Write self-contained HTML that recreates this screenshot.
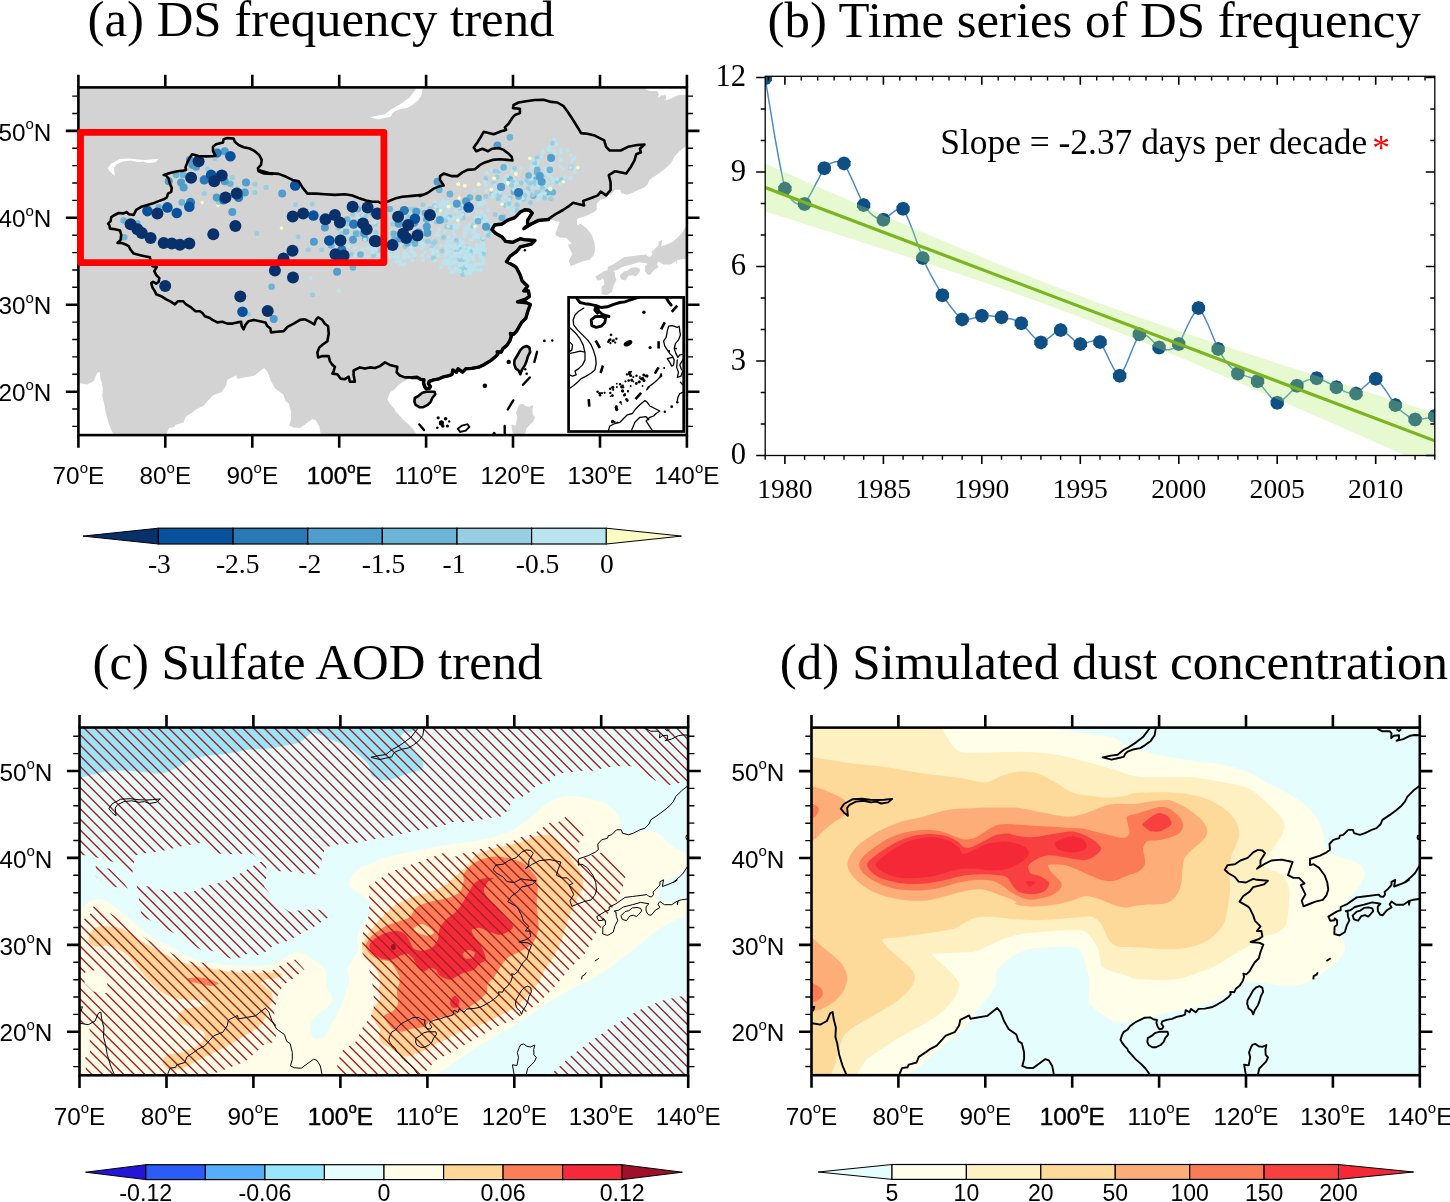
<!DOCTYPE html>
<html><head><meta charset="utf-8"><title>Figure</title>
<style>html,body{margin:0;padding:0;background:#fff}svg{display:block;will-change:transform}</style></head>
<body>
<svg width="1450" height="1202" viewBox="0 0 1450 1202">
<rect width="1450" height="1202" fill="#fff"/>
<text x="87.6" y="36.4" font-family="Liberation Serif, serif" font-size="50.8">(a) DS frequency trend</text>
<text x="767.6" y="36.6" font-family="Liberation Serif, serif" font-size="50.8">(b) Time series of DS frequency</text>
<text x="92.5" y="678.5" font-family="Liberation Serif, serif" font-size="50.8">(c) Sulfate AOD trend</text>
<text x="779.8" y="678.5" font-family="Liberation Serif, serif" font-size="51.1">(d) Simulated dust concentration</text>
<g id="panelA">
<clipPath id="clipA"><rect x="78.4" y="87.4" width="608.5" height="347.7"/></clipPath>
<g clip-path="url(#clipA)">
<path d="M75.4,84.4L645.3,84.4L645.3,86.5L645.3,89L649.5,91.1L657,91.1L658.6,93.1L658.3,97.8L661.1,95.6L666.1,95.1L666.1,98.9L663.6,100.6L670.3,98.9L677,95.6L682,94.8L686.1,95.1L690.3,95.1L689.9,95.1L689.9,143.1L690.3,143.1L686.1,146.1L680.3,150.6L674.5,156.4L672,161.4L668.6,165.6L663.6,169.7L657,174.7L649.5,179.7L647.8,183.9L643.7,188L638.7,189.7L632,193L627,194.7L621.2,193L620,189.7L615.4,189.7L610.4,194.7L607,195.5L606.2,198L600.4,199.7L596.5,203.9L597,209.7L593.7,212.2L587,215.5L577,218.8L577,219.5L577,225L580.7,224L586.2,227.7L591.7,235L594.4,242.3L595.3,249.7L593.5,255.2L589.8,259.7L582.5,261.6L575.2,264.3L570.6,266.2L568.8,260.7L572.4,254.3L567.9,245.1L571.5,243.3L566,237.8L560.5,237.8L555.1,235L556.9,229.5L559.6,221.8L548.6,219.5L538.6,220.4L531.2,224L523.9,228.6L527.6,225L527.6,220.4L532.2,213.1L529.4,210.3L524.8,209.8L520.3,212.1L514.8,217.6L507.4,220.4L502,224L494.6,225L491.9,229.5L495.5,233.2L502,236.9L505.6,241.4L512.9,242.3L520.3,238.7L523.9,239.6L534.9,240.5L531.2,244.2L520.3,246.9L516.6,251.5L510.2,256.1L506.5,261.6L514.8,266.2L516.6,268L520.3,275.3L522.1,280.8L527.6,286.3L523.9,290.9L528.5,290.9L529.4,296.4L525.8,299.1L517.5,301.9L526.7,302.8L530.3,304.6L527.6,311.9L525.8,318.3L521.8,322.2L519.5,326L516.5,331.3L513.5,334.3L510.4,333.5L511.2,336.6L509.7,341.1L506.6,345.7L502.8,348.7L501.3,352.1L497.2,351.8L497.8,354L496,356.3L490.7,360.6L483.9,364.7L478.6,367.2L471.7,368.4L465.7,368.8L462.6,372.2L458.1,368.8L456.5,372.2L452.8,370L452,374.5L449,375.7L443.6,376.8L439.1,378.8L433.8,379.8L429.2,381.3L428.5,383.6L430.4,386.7L429.2,388.6L426.2,388.9L424.7,386.7L423.5,382.9L423.9,379.8L420.9,379.4L417.1,377.3L411.8,377.6L407.2,379.8L401.9,382.4L397.4,385.9L394.3,389.7L390.5,392L389,395L387.5,399.6L389,402.6L391.3,405.6L394.3,408.7L395.1,410.9L398.1,414L402.7,419.3L408,423.8L412.5,428.4L416.3,433.7L418.6,438.3L418.6,438.1L321.4,438.1L321.4,439.2L320.7,433.6L319.1,425.8L315.8,420.2L312.4,419.1L304.6,424.7L300.1,428L293.4,427.6L289.3,425.8L291.1,419.1L291.1,412.3L288.9,403.4L285.5,401.1L284.4,397.8L283.3,394.4L275.4,388.8L270.9,380.9L267.6,372L264.2,367.9L254.1,375.8L237.3,378.7L236.2,375.3L227.2,379.8L226.1,385.4L221.6,392.1L212.6,395.5L203.7,405.6L196.9,409L192.5,412.3L185.7,416.8L183.5,422.4L175.6,424.7L174.5,427.1L168.9,428L166.7,433.6L165.6,439.2L165.6,438.1L115.1,438.1L115.1,439.2L112.9,433.6L109.5,425.8L106.1,414.6L104.1,403.4L102.3,396.6L102.8,387.7L100.5,378.7L99.6,372L97.2,373.1L93.8,380.9L87.1,384.5L79.2,383.2L71.4,382.7L75.4,382.7ZM414.8,398L418.6,395.8L422.4,392.7L426.2,391.7L434.5,391.7L435.3,394.3L432.3,398L430.7,401.8L427.7,404.9L423.2,407.2L419.4,407.2L415.6,404.9L414.4,401.8ZM526.4,346L529.4,347.5L530.2,351.8L527.9,356.3L526.4,361.6L524.8,365.4L521.8,370L520.3,374.2L518.8,370.7L515.7,368.4L514.2,363.9L514.5,360.1L517.3,355.5L520.3,350.2L523.3,347.2ZM513.5,438.3L512.7,433.7L511.2,424.6L515.7,425.4L517.3,417L516,412.5L518,407.2L519.5,404.6L522.6,403.8L525.6,406.1L529.4,406.8L533.5,404.9L532.4,409.4L532.7,414.7L535,417.3L533.2,421.6L530.2,424.6L526.4,428.4L525.2,433.7L524.8,438.3ZM595.4,276.5L603.7,271.4L607.8,270.1L607.8,266.9L614.7,263.6L623.8,257.2L631.1,256.3L645.8,254.5L647.6,256.3L650.4,256.8L652.2,254.5L651.7,251.8L654.9,249L658.6,244.9L658.6,241.7L662.3,239.7L661.2,246.4L667.7,244L673.2,241.7L676,239.9L672,242.2L677,238L682,233L686.1,226.3L690.3,221.3L690.3,258.3L686.1,258.8L680.3,259.6L677,260.5L676.1,264.6L676,260.9L670.5,264.6L663.2,264.6L658.6,261.4L656.8,264.1L658.6,267.3L654,270.1L649.9,275.1L647.2,274.6L644.9,271L644.9,266.4L647.6,263.6L639.4,262.3L631.1,264.6L622,266.9L617.4,270.1L612.8,271L614.7,271.9L615.1,276.5L616.5,280.1L613.7,285.6L611.9,292L606.4,295.2L601.4,293.9L601.7,286.5L604.1,284.7L604.1,280.1L601.8,278.3L601.4,280.1L597.3,280.6ZM619.7,275.5L623.8,271.4L627.5,270.5L631.1,267.8L635.7,267.3L639.4,268.2L640.3,271L637.5,274.2L635.3,276.5L632,275.1L628.4,276L625.2,280.6L621.1,279.2Z" fill="#d3d3d3"/>
<path d="M107.7,168.6L110.9,163.8L119.6,159.1L129.1,158.6L137,159.5L144.9,159.9L151.2,159.5L159.1,158.7L155.2,162.2L148,163.3L143.3,161.4L137.8,162.2L130.7,160.6L122.8,161.4L116.4,164.6L114.1,167.8L114.8,175.7L110.9,172.5Z" fill="#fff"/>
<path d="M369.7,117.2L378,115.4L384.6,114.5L391.2,109.3L395.6,107.1L402.8,102.4L410,96.9L413.8,91.9L416.3,88.6L417.7,83.1L423.2,83.1L422.7,88.6L421.6,95.2L417.7,100.7L412.2,104.9L407.2,107.9L401.1,109L394.5,111.5L392.3,113.4L390.7,116.7L384.6,118.1L378.5,119.4L374.7,118.4Z" fill="#fff"/>
<circle cx="396.8" cy="248.1" r="2.0" fill="#b9e4f0"/><circle cx="389.6" cy="256.3" r="2.0" fill="#b9e4f0"/><circle cx="404.2" cy="264.2" r="2.0" fill="#b9e4f0"/><circle cx="388.6" cy="254.1" r="2.0" fill="#b9e4f0"/><circle cx="394.4" cy="256.6" r="2.0" fill="#b9e4f0"/><circle cx="411.2" cy="247.5" r="2.0" fill="#b9e4f0"/><circle cx="405.6" cy="257.3" r="2.0" fill="#b9e4f0"/><circle cx="404.1" cy="253.3" r="2.0" fill="#b9e4f0"/><circle cx="395.8" cy="248" r="2.0" fill="#b9e4f0"/><circle cx="403.9" cy="256.8" r="2.0" fill="#b9e4f0"/><circle cx="390.4" cy="257" r="2.0" fill="#b9e4f0"/><circle cx="398.2" cy="256.5" r="2.0" fill="#b9e4f0"/><circle cx="403.7" cy="258" r="2.0" fill="#b9e4f0"/><circle cx="407" cy="254" r="2.0" fill="#b9e4f0"/><circle cx="400.9" cy="264.5" r="2.0" fill="#b9e4f0"/><circle cx="396.1" cy="261.8" r="2.0" fill="#b9e4f0"/><circle cx="389.8" cy="251.3" r="2.0" fill="#b9e4f0"/><circle cx="412.6" cy="260.4" r="2.0" fill="#b9e4f0"/><circle cx="405" cy="246.5" r="2.5" fill="#97cee2"/><circle cx="399.5" cy="261" r="2.0" fill="#b9e4f0"/><circle cx="414.3" cy="253.8" r="2.0" fill="#b9e4f0"/><circle cx="409.4" cy="257.1" r="2.0" fill="#b9e4f0"/><circle cx="397.2" cy="252.3" r="2.0" fill="#b9e4f0"/><circle cx="404.1" cy="254.6" r="2.0" fill="#b9e4f0"/><circle cx="414.6" cy="255" r="2.0" fill="#b9e4f0"/><circle cx="411.1" cy="250.9" r="2.0" fill="#b9e4f0"/><circle cx="413" cy="252.3" r="2.0" fill="#b9e4f0"/><circle cx="397.7" cy="257.9" r="2.0" fill="#b9e4f0"/><circle cx="391.2" cy="250.2" r="2.0" fill="#b9e4f0"/><circle cx="413.8" cy="255.4" r="2.0" fill="#b9e4f0"/><circle cx="432.7" cy="253.9" r="2.0" fill="#b9e4f0"/><circle cx="444.3" cy="263.3" r="2.0" fill="#b9e4f0"/><circle cx="440.7" cy="267" r="2.0" fill="#b9e4f0"/><circle cx="424.2" cy="244.4" r="2.0" fill="#b9e4f0"/><circle cx="424.4" cy="245.9" r="2.0" fill="#b9e4f0"/><circle cx="431.8" cy="248.5" r="2.5" fill="#97cee2"/><circle cx="428.6" cy="241.2" r="2.5" fill="#97cee2"/><circle cx="441.8" cy="251.1" r="2.5" fill="#97cee2"/><circle cx="430.9" cy="249.4" r="2.0" fill="#b9e4f0"/><circle cx="433.7" cy="249.4" r="2.0" fill="#b9e4f0"/><circle cx="420.8" cy="243.7" r="2.0" fill="#b9e4f0"/><circle cx="422.1" cy="255.4" r="2.0" fill="#b9e4f0"/><circle cx="421.9" cy="248.3" r="2.0" fill="#b9e4f0"/><circle cx="420.9" cy="243.6" r="2.0" fill="#b9e4f0"/><circle cx="423.3" cy="245" r="2.0" fill="#b9e4f0"/><circle cx="437.5" cy="251.6" r="2.0" fill="#b9e4f0"/><circle cx="433.2" cy="251.9" r="2.0" fill="#b9e4f0"/><circle cx="423.2" cy="259.9" r="2.0" fill="#b9e4f0"/><circle cx="433.6" cy="258.1" r="2.5" fill="#97cee2"/><circle cx="435.2" cy="241.8" r="2.5" fill="#97cee2"/><circle cx="428" cy="256.7" r="2.0" fill="#b9e4f0"/><circle cx="440.4" cy="245.2" r="2.0" fill="#b9e4f0"/><circle cx="447" cy="248.1" r="2.0" fill="#b9e4f0"/><circle cx="435.3" cy="260.7" r="2.0" fill="#b9e4f0"/><circle cx="438.6" cy="255.8" r="2.0" fill="#b9e4f0"/><circle cx="443.8" cy="261.9" r="2.0" fill="#b9e4f0"/><circle cx="424.9" cy="252.2" r="2.0" fill="#b9e4f0"/><circle cx="433.4" cy="243.2" r="2.5" fill="#97cee2"/><circle cx="492" cy="233.3" r="2.0" fill="#b9e4f0"/><circle cx="491.9" cy="226.9" r="2.0" fill="#b9e4f0"/><circle cx="436.6" cy="235.1" r="2.0" fill="#b9e4f0"/><circle cx="461" cy="249.2" r="2.0" fill="#b9e4f0"/><circle cx="455.1" cy="253.8" r="2.0" fill="#b9e4f0"/><circle cx="461" cy="212.5" r="2.0" fill="#b9e4f0"/><circle cx="476.8" cy="234.6" r="2.0" fill="#b9e4f0"/><circle cx="477" cy="211.9" r="2.0" fill="#b9e4f0"/><circle cx="460.1" cy="249.5" r="2.5" fill="#97cee2"/><circle cx="472.6" cy="225.8" r="2.5" fill="#97cee2"/><circle cx="481.8" cy="254.9" r="2.0" fill="#b9e4f0"/><circle cx="464.1" cy="271" r="2.0" fill="#b9e4f0"/><circle cx="443.7" cy="237.5" r="2.5" fill="#97cee2"/><circle cx="451.1" cy="240.8" r="2.0" fill="#b9e4f0"/><circle cx="482.8" cy="238.7" r="2.5" fill="#97cee2"/><circle cx="438.4" cy="210.5" r="2.5" fill="#97cee2"/><circle cx="481.8" cy="212" r="2.0" fill="#b9e4f0"/><circle cx="464.4" cy="236.1" r="2.0" fill="#b9e4f0"/><circle cx="442.3" cy="202" r="2.0" fill="#b9e4f0"/><circle cx="462.9" cy="242.2" r="2.0" fill="#b9e4f0"/><circle cx="458.7" cy="246.1" r="2.5" fill="#97cee2"/><circle cx="469.3" cy="214.1" r="2.0" fill="#b9e4f0"/><circle cx="459.3" cy="240" r="2.0" fill="#b9e4f0"/><circle cx="462.9" cy="217.9" r="2.5" fill="#97cee2"/><circle cx="446.8" cy="242" r="2.0" fill="#b9e4f0"/><circle cx="437.8" cy="232.9" r="2.0" fill="#b9e4f0"/><circle cx="473.5" cy="231.9" r="2.0" fill="#b9e4f0"/><circle cx="473.4" cy="259.4" r="2.0" fill="#b9e4f0"/><circle cx="453.7" cy="218.3" r="2.0" fill="#b9e4f0"/><circle cx="491.8" cy="229.5" r="2.0" fill="#b9e4f0"/><circle cx="457.3" cy="226.3" r="2.0" fill="#b9e4f0"/><circle cx="465.9" cy="232.8" r="2.0" fill="#b9e4f0"/><circle cx="454.9" cy="238.8" r="2.0" fill="#b9e4f0"/><circle cx="447.2" cy="201.8" r="2.0" fill="#b9e4f0"/><circle cx="447.5" cy="208.7" r="2.0" fill="#b9e4f0"/><circle cx="485.1" cy="251" r="2.0" fill="#b9e4f0"/><circle cx="456.3" cy="240.2" r="2.5" fill="#97cee2"/><circle cx="467" cy="252.9" r="2.0" fill="#b9e4f0"/><circle cx="448" cy="260.6" r="2.0" fill="#b9e4f0"/><circle cx="485.9" cy="233.8" r="2.0" fill="#b9e4f0"/><circle cx="446.9" cy="212.7" r="2.0" fill="#b9e4f0"/><circle cx="470.7" cy="239.8" r="2.0" fill="#b9e4f0"/><circle cx="448.7" cy="237.4" r="2.0" fill="#b9e4f0"/><circle cx="447.5" cy="260.9" r="2.0" fill="#b9e4f0"/><circle cx="462.7" cy="274.4" r="2.5" fill="#97cee2"/><circle cx="460.7" cy="271" r="2.0" fill="#b9e4f0"/><circle cx="472.7" cy="249" r="2.0" fill="#b9e4f0"/><circle cx="465.4" cy="267.5" r="2.5" fill="#97cee2"/><circle cx="449.9" cy="215.4" r="2.0" fill="#b9e4f0"/><circle cx="452.2" cy="263.1" r="2.0" fill="#b9e4f0"/><circle cx="456.2" cy="225.6" r="2.0" fill="#b9e4f0"/><circle cx="470.5" cy="266.8" r="2.0" fill="#b9e4f0"/><circle cx="440.5" cy="205.2" r="2.0" fill="#b9e4f0"/><circle cx="448.2" cy="217.5" r="2.0" fill="#b9e4f0"/><circle cx="432.9" cy="213.1" r="2.0" fill="#b9e4f0"/><circle cx="458.9" cy="219.1" r="2.0" fill="#b9e4f0"/><circle cx="450" cy="226.3" r="2.0" fill="#b9e4f0"/><circle cx="451.7" cy="205.2" r="2.0" fill="#b9e4f0"/><circle cx="462.6" cy="214.3" r="2.5" fill="#97cee2"/><circle cx="468" cy="229.2" r="2.0" fill="#b9e4f0"/><circle cx="449.7" cy="216.7" r="2.5" fill="#97cee2"/><circle cx="480.8" cy="244.9" r="2.0" fill="#b9e4f0"/><circle cx="476.7" cy="237" r="2.0" fill="#b9e4f0"/><circle cx="476.9" cy="248.5" r="2.0" fill="#b9e4f0"/><circle cx="483.5" cy="254" r="2.5" fill="#97cee2"/><circle cx="470.6" cy="255.5" r="2.5" fill="#97cee2"/><circle cx="462.7" cy="263.3" r="2.0" fill="#b9e4f0"/><circle cx="483.6" cy="243.9" r="2.0" fill="#b9e4f0"/><circle cx="435.4" cy="202" r="2.0" fill="#b9e4f0"/><circle cx="492.2" cy="227.9" r="2.0" fill="#b9e4f0"/><circle cx="466.2" cy="247.3" r="2.5" fill="#97cee2"/><circle cx="474.1" cy="236.6" r="2.0" fill="#b9e4f0"/><circle cx="478.3" cy="235.4" r="2.0" fill="#b9e4f0"/><circle cx="484.8" cy="216.9" r="2.0" fill="#b9e4f0"/><circle cx="459.8" cy="264.1" r="2.0" fill="#b9e4f0"/><circle cx="461" cy="251.6" r="2.0" fill="#b9e4f0"/><circle cx="470" cy="248.5" r="2.0" fill="#b9e4f0"/><circle cx="468.9" cy="224.4" r="2.0" fill="#b9e4f0"/><circle cx="470.2" cy="209" r="2.0" fill="#b9e4f0"/><circle cx="433.9" cy="219.5" r="2.0" fill="#b9e4f0"/><circle cx="474.9" cy="251" r="2.0" fill="#b9e4f0"/><circle cx="475.9" cy="220.8" r="2.0" fill="#b9e4f0"/><circle cx="460.2" cy="207.9" r="2.5" fill="#97cee2"/><circle cx="459.7" cy="262.2" r="2.0" fill="#b9e4f0"/><circle cx="434.8" cy="205.7" r="2.5" fill="#97cee2"/><circle cx="446.9" cy="226.5" r="2.5" fill="#97cee2"/><circle cx="483.2" cy="238.1" r="2.0" fill="#b9e4f0"/><circle cx="475.6" cy="216.6" r="2.0" fill="#b9e4f0"/><circle cx="455.5" cy="211" r="2.0" fill="#b9e4f0"/><circle cx="474.2" cy="230.1" r="2.0" fill="#b9e4f0"/><circle cx="456.9" cy="227.8" r="2.0" fill="#b9e4f0"/><circle cx="478.7" cy="263.7" r="2.0" fill="#b9e4f0"/><circle cx="446.4" cy="203.7" r="2.0" fill="#b9e4f0"/><circle cx="453.3" cy="231.8" r="2.0" fill="#b9e4f0"/><circle cx="485.4" cy="220.4" r="2.0" fill="#b9e4f0"/><circle cx="484.1" cy="220.8" r="2.0" fill="#b9e4f0"/><circle cx="446.1" cy="219.3" r="2.5" fill="#97cee2"/><circle cx="450.4" cy="258.5" r="2.0" fill="#b9e4f0"/><circle cx="470.9" cy="269.4" r="2.5" fill="#97cee2"/><circle cx="465.6" cy="254.4" r="2.0" fill="#b9e4f0"/><circle cx="490.5" cy="230.5" r="2.5" fill="#97cee2"/><circle cx="478.8" cy="248.6" r="2.0" fill="#b9e4f0"/><circle cx="461.4" cy="269.3" r="2.5" fill="#97cee2"/><circle cx="438.2" cy="235.3" r="2.0" fill="#b9e4f0"/><circle cx="448.2" cy="218.5" r="2.0" fill="#b9e4f0"/><circle cx="456.3" cy="217.2" r="2.0" fill="#b9e4f0"/><circle cx="466.1" cy="229.2" r="2.0" fill="#b9e4f0"/><circle cx="462.4" cy="261.5" r="2.5" fill="#97cee2"/><circle cx="439" cy="213.6" r="2.0" fill="#b9e4f0"/><circle cx="450.6" cy="227.2" r="2.5" fill="#97cee2"/><circle cx="443" cy="200.3" r="2.0" fill="#b9e4f0"/><circle cx="454.8" cy="256.4" r="2.0" fill="#b9e4f0"/><circle cx="454.4" cy="224.9" r="2.0" fill="#b9e4f0"/><circle cx="462.3" cy="243.2" r="2.0" fill="#b9e4f0"/><circle cx="470.8" cy="265.5" r="2.0" fill="#b9e4f0"/><circle cx="454.9" cy="248.7" r="2.0" fill="#b9e4f0"/><circle cx="488.1" cy="235.3" r="2.5" fill="#97cee2"/><circle cx="464.2" cy="234.9" r="2.0" fill="#b9e4f0"/><circle cx="446.1" cy="207.1" r="2.0" fill="#b9e4f0"/><circle cx="475.4" cy="264.2" r="2.0" fill="#b9e4f0"/><circle cx="430" cy="208.4" r="2.5" fill="#97cee2"/><circle cx="449.6" cy="208.6" r="2.0" fill="#b9e4f0"/><circle cx="464.2" cy="232.6" r="2.0" fill="#b9e4f0"/><circle cx="436.4" cy="222" r="2.5" fill="#97cee2"/><circle cx="442.4" cy="218.9" r="2.5" fill="#97cee2"/><circle cx="450.5" cy="263.7" r="2.0" fill="#b9e4f0"/><circle cx="460.8" cy="216.9" r="2.0" fill="#b9e4f0"/><circle cx="444.7" cy="231.6" r="2.0" fill="#b9e4f0"/><circle cx="444.6" cy="201.3" r="2.0" fill="#b9e4f0"/><circle cx="476.6" cy="226.8" r="2.0" fill="#b9e4f0"/><circle cx="477.9" cy="237.8" r="2.0" fill="#b9e4f0"/><circle cx="462.1" cy="214.2" r="2.0" fill="#b9e4f0"/><circle cx="444.9" cy="215.8" r="2.0" fill="#b9e4f0"/><circle cx="469.5" cy="268.1" r="2.0" fill="#b9e4f0"/><circle cx="457" cy="250.2" r="2.5" fill="#97cee2"/><circle cx="439.4" cy="229.2" r="2.0" fill="#b9e4f0"/><circle cx="456.9" cy="253.6" r="2.0" fill="#b9e4f0"/><circle cx="455.5" cy="268.2" r="2.0" fill="#b9e4f0"/><circle cx="490.4" cy="224.2" r="2.0" fill="#b9e4f0"/><circle cx="472.3" cy="239.3" r="2.0" fill="#b9e4f0"/><circle cx="454.5" cy="227.6" r="2.0" fill="#b9e4f0"/><circle cx="458.6" cy="207.1" r="2.0" fill="#b9e4f0"/><circle cx="448.1" cy="225.9" r="2.0" fill="#b9e4f0"/><circle cx="466.3" cy="257.4" r="2.0" fill="#b9e4f0"/><circle cx="453.1" cy="262.3" r="2.0" fill="#b9e4f0"/><circle cx="458.9" cy="223.7" r="2.0" fill="#b9e4f0"/><circle cx="482.6" cy="258" r="2.0" fill="#b9e4f0"/><circle cx="454.3" cy="234.6" r="2.0" fill="#b9e4f0"/><circle cx="488.3" cy="225" r="2.0" fill="#b9e4f0"/><circle cx="451.7" cy="272.5" r="2.0" fill="#b9e4f0"/><circle cx="450.5" cy="220" r="2.0" fill="#b9e4f0"/><circle cx="476.8" cy="244.8" r="2.0" fill="#b9e4f0"/><circle cx="431.5" cy="216.8" r="2.0" fill="#b9e4f0"/><circle cx="476.4" cy="234.8" r="2.0" fill="#b9e4f0"/><circle cx="481.2" cy="269.4" r="2.0" fill="#b9e4f0"/><circle cx="449.6" cy="252.3" r="2.0" fill="#b9e4f0"/><circle cx="469.3" cy="224.1" r="2.0" fill="#b9e4f0"/><circle cx="459.8" cy="259.4" r="2.5" fill="#97cee2"/><circle cx="435.1" cy="214" r="2.0" fill="#b9e4f0"/><circle cx="446" cy="203.7" r="2.0" fill="#b9e4f0"/><circle cx="461.2" cy="240.9" r="2.0" fill="#b9e4f0"/><circle cx="435.4" cy="206.2" r="2.0" fill="#b9e4f0"/><circle cx="441.2" cy="209" r="2.0" fill="#b9e4f0"/><circle cx="470.2" cy="250.9" r="2.5" fill="#97cee2"/><circle cx="484.9" cy="250.1" r="2.0" fill="#b9e4f0"/><circle cx="480.5" cy="221.5" r="2.0" fill="#b9e4f0"/><circle cx="466.7" cy="227.6" r="2.0" fill="#b9e4f0"/><circle cx="442.9" cy="217.9" r="2.0" fill="#b9e4f0"/><circle cx="445.2" cy="220.5" r="2.5" fill="#97cee2"/><circle cx="442.1" cy="203.7" r="2.0" fill="#b9e4f0"/><circle cx="483.3" cy="260.7" r="2.0" fill="#b9e4f0"/><circle cx="469.2" cy="248" r="2.0" fill="#b9e4f0"/><circle cx="483.2" cy="248.1" r="2.0" fill="#b9e4f0"/><circle cx="478.8" cy="252.1" r="2.0" fill="#b9e4f0"/><circle cx="480.1" cy="246.2" r="2.0" fill="#b9e4f0"/><circle cx="452" cy="246.5" r="2.0" fill="#b9e4f0"/><circle cx="480.7" cy="256.5" r="2.0" fill="#b9e4f0"/><circle cx="460.9" cy="253" r="2.0" fill="#b9e4f0"/><circle cx="446.8" cy="263.5" r="2.0" fill="#b9e4f0"/><circle cx="451.4" cy="256.4" r="2.0" fill="#b9e4f0"/><circle cx="480.1" cy="270.3" r="2.0" fill="#b9e4f0"/><circle cx="459.3" cy="256.5" r="2.0" fill="#b9e4f0"/><circle cx="445.6" cy="245.9" r="2.0" fill="#b9e4f0"/><circle cx="465" cy="246.9" r="2.0" fill="#b9e4f0"/><circle cx="475.2" cy="265.6" r="2.0" fill="#b9e4f0"/><circle cx="468.7" cy="247.7" r="2.0" fill="#b9e4f0"/><circle cx="458.8" cy="253.4" r="2.0" fill="#b9e4f0"/><circle cx="469.9" cy="257.9" r="2.0" fill="#b9e4f0"/><circle cx="455.3" cy="262.6" r="2.0" fill="#b9e4f0"/><circle cx="459.5" cy="245.5" r="2.0" fill="#b9e4f0"/><circle cx="469" cy="257.1" r="2.0" fill="#b9e4f0"/><circle cx="450.8" cy="245.1" r="2.0" fill="#b9e4f0"/><circle cx="459.9" cy="270.5" r="2.0" fill="#b9e4f0"/><circle cx="466.2" cy="256.3" r="2.0" fill="#b9e4f0"/><circle cx="447.8" cy="246.5" r="2.0" fill="#b9e4f0"/><circle cx="468.8" cy="273.3" r="2.0" fill="#b9e4f0"/><circle cx="466" cy="273.8" r="2.0" fill="#b9e4f0"/><circle cx="448.4" cy="253.7" r="2.0" fill="#b9e4f0"/><circle cx="480.5" cy="248.3" r="2.0" fill="#b9e4f0"/><circle cx="473.4" cy="269.6" r="2.0" fill="#b9e4f0"/><circle cx="454.8" cy="271" r="2.0" fill="#b9e4f0"/><circle cx="482.6" cy="260" r="2.0" fill="#b9e4f0"/><circle cx="467.4" cy="264.8" r="2.0" fill="#b9e4f0"/><circle cx="479.7" cy="264.3" r="2.0" fill="#b9e4f0"/><circle cx="468.8" cy="271.6" r="2.0" fill="#b9e4f0"/><circle cx="467.7" cy="251" r="2.0" fill="#b9e4f0"/><circle cx="449.9" cy="251.7" r="2.0" fill="#b9e4f0"/><circle cx="481.1" cy="249.8" r="2.0" fill="#b9e4f0"/><circle cx="447.5" cy="252.6" r="2.0" fill="#b9e4f0"/><circle cx="444.1" cy="262.4" r="2.0" fill="#b9e4f0"/><circle cx="469.9" cy="255" r="2.0" fill="#b9e4f0"/><circle cx="467.1" cy="262.1" r="2.0" fill="#b9e4f0"/><circle cx="469.1" cy="254.5" r="2.0" fill="#b9e4f0"/><circle cx="459.9" cy="265.5" r="2.0" fill="#b9e4f0"/><circle cx="463.2" cy="250.5" r="2.0" fill="#b9e4f0"/><circle cx="467.9" cy="260.2" r="2.0" fill="#b9e4f0"/><circle cx="460.8" cy="264.2" r="2.0" fill="#b9e4f0"/><circle cx="476.9" cy="270.2" r="2.0" fill="#b9e4f0"/><circle cx="446.8" cy="248.9" r="2.0" fill="#b9e4f0"/><circle cx="457.5" cy="269.9" r="2.0" fill="#b9e4f0"/><circle cx="480.4" cy="254.7" r="2.0" fill="#b9e4f0"/><circle cx="444.6" cy="260.6" r="2.0" fill="#b9e4f0"/><circle cx="469.3" cy="269.4" r="2.0" fill="#b9e4f0"/><circle cx="472.6" cy="270.3" r="2.0" fill="#b9e4f0"/><circle cx="454.3" cy="270.2" r="2.0" fill="#b9e4f0"/><circle cx="470.7" cy="267.4" r="2.0" fill="#b9e4f0"/><circle cx="445.1" cy="255.8" r="2.0" fill="#b9e4f0"/><circle cx="453.7" cy="270.4" r="2.0" fill="#b9e4f0"/><circle cx="462.2" cy="263.4" r="2.0" fill="#b9e4f0"/><circle cx="455.6" cy="246" r="2.0" fill="#b9e4f0"/><circle cx="459" cy="264.8" r="2.0" fill="#b9e4f0"/><circle cx="470.4" cy="272.8" r="2.0" fill="#b9e4f0"/><circle cx="475" cy="253.1" r="2.0" fill="#b9e4f0"/><circle cx="468.6" cy="256.1" r="2.0" fill="#b9e4f0"/><circle cx="465.3" cy="263" r="2.0" fill="#b9e4f0"/><circle cx="452.8" cy="261.6" r="2.0" fill="#b9e4f0"/><circle cx="472.8" cy="256.5" r="2.0" fill="#b9e4f0"/><circle cx="483.2" cy="262.9" r="2.0" fill="#b9e4f0"/><circle cx="456" cy="247.4" r="2.0" fill="#b9e4f0"/><circle cx="449.7" cy="268.1" r="2.0" fill="#b9e4f0"/><circle cx="454.6" cy="261" r="2.0" fill="#b9e4f0"/><circle cx="466.5" cy="265.6" r="2.0" fill="#b9e4f0"/><circle cx="472.6" cy="268.2" r="2.0" fill="#b9e4f0"/><circle cx="448.6" cy="264.1" r="2.0" fill="#b9e4f0"/><circle cx="459.6" cy="256.3" r="2.0" fill="#b9e4f0"/><circle cx="447.8" cy="252" r="2.0" fill="#b9e4f0"/><circle cx="457" cy="248.2" r="2.0" fill="#b9e4f0"/><circle cx="464.4" cy="257.8" r="2.0" fill="#b9e4f0"/><circle cx="466.7" cy="251.3" r="2.0" fill="#b9e4f0"/><circle cx="448.9" cy="245.3" r="2.0" fill="#b9e4f0"/><circle cx="535.2" cy="186.9" r="2.0" fill="#b9e4f0"/><circle cx="530.5" cy="202.6" r="2.5" fill="#97cee2"/><circle cx="514.5" cy="179.9" r="2.0" fill="#b9e4f0"/><circle cx="547.7" cy="192.3" r="3.3" fill="#6cb4d6"/><circle cx="517.4" cy="205.1" r="2.5" fill="#97cee2"/><circle cx="504.2" cy="203.8" r="2.0" fill="#b9e4f0"/><circle cx="528.8" cy="194.6" r="2.0" fill="#b9e4f0"/><circle cx="528.5" cy="189" r="2.5" fill="#97cee2"/><circle cx="542.4" cy="176.5" r="2.5" fill="#97cee2"/><circle cx="491.7" cy="193.4" r="2.5" fill="#97cee2"/><circle cx="544.5" cy="197.9" r="2.5" fill="#97cee2"/><circle cx="492.8" cy="194.5" r="2.0" fill="#b9e4f0"/><circle cx="510" cy="198.1" r="2.5" fill="#97cee2"/><circle cx="535.5" cy="180" r="3.3" fill="#6cb4d6"/><circle cx="533.3" cy="195.7" r="3.3" fill="#6cb4d6"/><circle cx="553.1" cy="181.1" r="2.0" fill="#b9e4f0"/><circle cx="493.1" cy="189" r="2.0" fill="#b9e4f0"/><circle cx="537.8" cy="182.2" r="2.5" fill="#97cee2"/><circle cx="509.6" cy="179" r="3.3" fill="#6cb4d6"/><circle cx="519.1" cy="201.4" r="2.0" fill="#b9e4f0"/><circle cx="545.4" cy="186.4" r="2.0" fill="#b9e4f0"/><circle cx="525.9" cy="181.5" r="2.0" fill="#b9e4f0"/><circle cx="513.8" cy="191.9" r="3.3" fill="#6cb4d6"/><circle cx="549" cy="175.4" r="2.0" fill="#b9e4f0"/><circle cx="494.9" cy="193.3" r="2.0" fill="#b9e4f0"/><circle cx="534.2" cy="193.7" r="2.0" fill="#b9e4f0"/><circle cx="537.2" cy="172.5" r="3.3" fill="#6cb4d6"/><circle cx="538.9" cy="177.5" r="3.3" fill="#6cb4d6"/><circle cx="542.3" cy="193.7" r="2.5" fill="#97cee2"/><circle cx="540.9" cy="194.2" r="2.5" fill="#97cee2"/><circle cx="508.9" cy="185.9" r="2.0" fill="#b9e4f0"/><circle cx="511.1" cy="204.8" r="2.0" fill="#b9e4f0"/><circle cx="535.8" cy="183.8" r="2.5" fill="#97cee2"/><circle cx="539.4" cy="192.5" r="2.5" fill="#97cee2"/><circle cx="544.9" cy="193.2" r="2.0" fill="#b9e4f0"/><circle cx="525.6" cy="196.8" r="2.0" fill="#b9e4f0"/><circle cx="526.2" cy="180.8" r="2.5" fill="#97cee2"/><circle cx="520.6" cy="199.8" r="2.0" fill="#b9e4f0"/><circle cx="552.8" cy="192.2" r="3.3" fill="#6cb4d6"/><circle cx="505" cy="205.3" r="2.5" fill="#97cee2"/><circle cx="550.9" cy="198.7" r="2.5" fill="#97cee2"/><circle cx="540.7" cy="196.1" r="2.0" fill="#b9e4f0"/><circle cx="529.8" cy="183.3" r="2.5" fill="#97cee2"/><circle cx="537.8" cy="185.8" r="2.0" fill="#b9e4f0"/><circle cx="512.5" cy="181.4" r="2.5" fill="#97cee2"/><circle cx="575.2" cy="169.3" r="2.0" fill="#b9e4f0"/><circle cx="557.2" cy="181.8" r="2.5" fill="#97cee2"/><circle cx="560.3" cy="159.2" r="2.0" fill="#b9e4f0"/><circle cx="548.8" cy="172.8" r="2.0" fill="#b9e4f0"/><circle cx="532.3" cy="165.2" r="2.0" fill="#b9e4f0"/><circle cx="556.3" cy="144.5" r="2.0" fill="#b9e4f0"/><circle cx="560.1" cy="182.3" r="2.5" fill="#97cee2"/><circle cx="536.9" cy="157.8" r="2.5" fill="#97cee2"/><circle cx="542.8" cy="151.8" r="2.0" fill="#b9e4f0"/><circle cx="537.5" cy="199.4" r="2.0" fill="#b9e4f0"/><circle cx="532" cy="179.7" r="2.0" fill="#b9e4f0"/><circle cx="547.9" cy="149.2" r="2.0" fill="#b9e4f0"/><circle cx="538.8" cy="194.8" r="2.0" fill="#b9e4f0"/><circle cx="551.7" cy="178" r="2.0" fill="#b9e4f0"/><circle cx="536.6" cy="192.6" r="2.5" fill="#97cee2"/><circle cx="556.8" cy="179" r="2.0" fill="#b9e4f0"/><circle cx="561.5" cy="179.4" r="2.5" fill="#97cee2"/><circle cx="560" cy="166.2" r="2.0" fill="#b9e4f0"/><circle cx="537.6" cy="182.5" r="2.0" fill="#b9e4f0"/><circle cx="536.6" cy="162.7" r="2.0" fill="#b9e4f0"/><circle cx="537" cy="164.2" r="2.0" fill="#b9e4f0"/><circle cx="552.8" cy="179.9" r="2.0" fill="#b9e4f0"/><circle cx="574.8" cy="157.9" r="2.0" fill="#b9e4f0"/><circle cx="545.2" cy="168.6" r="2.0" fill="#b9e4f0"/><circle cx="531.8" cy="187.9" r="2.0" fill="#b9e4f0"/><circle cx="552.8" cy="142.9" r="2.5" fill="#97cee2"/><circle cx="549.2" cy="149.7" r="2.0" fill="#b9e4f0"/><circle cx="552.4" cy="178.5" r="2.0" fill="#b9e4f0"/><circle cx="553" cy="163.3" r="2.0" fill="#b9e4f0"/><circle cx="534.7" cy="181.5" r="2.0" fill="#b9e4f0"/><circle cx="565.1" cy="176.8" r="2.0" fill="#b9e4f0"/><circle cx="537.2" cy="161.4" r="2.0" fill="#b9e4f0"/><circle cx="547" cy="182.4" r="2.0" fill="#b9e4f0"/><circle cx="556.4" cy="143.4" r="2.0" fill="#b9e4f0"/><circle cx="553.3" cy="150.7" r="2.0" fill="#b9e4f0"/><circle cx="549.5" cy="147.1" r="2.0" fill="#b9e4f0"/><circle cx="569.9" cy="178.2" r="2.0" fill="#b9e4f0"/><circle cx="560" cy="183.9" r="2.0" fill="#b9e4f0"/><circle cx="543.1" cy="178.4" r="2.0" fill="#b9e4f0"/><circle cx="549.8" cy="155.7" r="2.5" fill="#97cee2"/><circle cx="549.9" cy="188" r="2.0" fill="#b9e4f0"/><circle cx="538" cy="161.1" r="2.0" fill="#b9e4f0"/><circle cx="550.6" cy="189.5" r="2.0" fill="#b9e4f0"/><circle cx="543.4" cy="179.5" r="2.0" fill="#b9e4f0"/><circle cx="550.5" cy="164.5" r="2.0" fill="#b9e4f0"/><circle cx="561" cy="160.2" r="2.0" fill="#b9e4f0"/><circle cx="571.1" cy="178.1" r="2.0" fill="#b9e4f0"/><circle cx="560.9" cy="150.1" r="2.0" fill="#b9e4f0"/><circle cx="560.8" cy="152.7" r="2.0" fill="#b9e4f0"/><circle cx="533.3" cy="166.1" r="2.0" fill="#b9e4f0"/><circle cx="534.6" cy="162.8" r="2.5" fill="#97cee2"/><circle cx="532.2" cy="195.1" r="2.5" fill="#97cee2"/><circle cx="575.3" cy="172.5" r="2.0" fill="#b9e4f0"/><circle cx="533.9" cy="182" r="2.5" fill="#97cee2"/><circle cx="527" cy="191.7" r="2.0" fill="#b9e4f0"/><circle cx="554.9" cy="153.7" r="2.0" fill="#b9e4f0"/><circle cx="570.9" cy="167.5" r="2.5" fill="#97cee2"/><circle cx="530.8" cy="168.7" r="2.0" fill="#b9e4f0"/><circle cx="532" cy="175.9" r="2.0" fill="#b9e4f0"/><circle cx="563.2" cy="169.1" r="2.0" fill="#b9e4f0"/><circle cx="571.7" cy="161" r="2.0" fill="#b9e4f0"/><circle cx="533" cy="160" r="2.0" fill="#b9e4f0"/><circle cx="550.8" cy="186.3" r="2.0" fill="#b9e4f0"/><circle cx="524.3" cy="183.7" r="2.0" fill="#b9e4f0"/><circle cx="542.2" cy="193.2" r="2.0" fill="#b9e4f0"/><circle cx="542.4" cy="187.7" r="2.5" fill="#97cee2"/><circle cx="567.6" cy="150.1" r="2.0" fill="#b9e4f0"/><circle cx="542.4" cy="152.8" r="2.0" fill="#b9e4f0"/><circle cx="570.9" cy="155.6" r="2.0" fill="#b9e4f0"/><circle cx="546" cy="169.5" r="2.0" fill="#b9e4f0"/><circle cx="573.6" cy="159" r="2.0" fill="#b9e4f0"/><circle cx="541.8" cy="157.2" r="2.0" fill="#b9e4f0"/><circle cx="545.8" cy="172.9" r="2.0" fill="#b9e4f0"/><circle cx="554.4" cy="139.5" r="2.0" fill="#b9e4f0"/><circle cx="570.6" cy="167.6" r="2.0" fill="#b9e4f0"/><circle cx="516.9" cy="204.6" r="2.5" fill="#97cee2"/><circle cx="498.8" cy="171.3" r="2.5" fill="#97cee2"/><circle cx="520.7" cy="168.5" r="2.0" fill="#b9e4f0"/><circle cx="511.6" cy="184.9" r="2.0" fill="#b9e4f0"/><circle cx="486.8" cy="172.8" r="2.0" fill="#b9e4f0"/><circle cx="500.8" cy="169.3" r="2.0" fill="#b9e4f0"/><circle cx="498.5" cy="200.8" r="2.0" fill="#b9e4f0"/><circle cx="507" cy="176.2" r="2.0" fill="#b9e4f0"/><circle cx="507.7" cy="204.8" r="2.0" fill="#b9e4f0"/><circle cx="507.2" cy="166.6" r="2.0" fill="#b9e4f0"/><circle cx="516.2" cy="183.3" r="2.0" fill="#b9e4f0"/><circle cx="499.3" cy="190.8" r="2.0" fill="#b9e4f0"/><circle cx="503.2" cy="182.9" r="2.0" fill="#b9e4f0"/><circle cx="486" cy="185.5" r="2.0" fill="#b9e4f0"/><circle cx="509.8" cy="183.6" r="2.0" fill="#b9e4f0"/><circle cx="512.3" cy="170.2" r="2.0" fill="#b9e4f0"/><circle cx="491.9" cy="170.2" r="2.0" fill="#b9e4f0"/><circle cx="493" cy="196.9" r="2.0" fill="#b9e4f0"/><circle cx="522.7" cy="180.9" r="2.0" fill="#b9e4f0"/><circle cx="514.3" cy="168.6" r="2.5" fill="#97cee2"/><circle cx="513.4" cy="185" r="2.0" fill="#b9e4f0"/><circle cx="521" cy="194.9" r="2.5" fill="#97cee2"/><circle cx="485.9" cy="178.5" r="2.5" fill="#97cee2"/><circle cx="503.7" cy="167.5" r="2.0" fill="#b9e4f0"/><circle cx="523.9" cy="196.7" r="2.0" fill="#b9e4f0"/><circle cx="512" cy="171.2" r="2.0" fill="#b9e4f0"/><circle cx="498.3" cy="193.1" r="2.0" fill="#b9e4f0"/><circle cx="503.3" cy="198.9" r="2.0" fill="#b9e4f0"/><circle cx="523.7" cy="199.2" r="2.5" fill="#97cee2"/><circle cx="497" cy="177.1" r="2.5" fill="#97cee2"/><circle cx="525" cy="195.6" r="2.5" fill="#97cee2"/><circle cx="496.9" cy="191.4" r="2.0" fill="#b9e4f0"/><circle cx="518.7" cy="191.2" r="2.0" fill="#b9e4f0"/><circle cx="508" cy="207.6" r="2.0" fill="#b9e4f0"/><circle cx="498.9" cy="194.8" r="2.5" fill="#97cee2"/><circle cx="516.1" cy="175.1" r="2.0" fill="#b9e4f0"/><circle cx="493.9" cy="183.4" r="2.5" fill="#97cee2"/><circle cx="522.6" cy="198.2" r="2.0" fill="#b9e4f0"/><circle cx="495" cy="171" r="2.5" fill="#97cee2"/><circle cx="517.2" cy="188.8" r="2.0" fill="#b9e4f0"/><circle cx="357.8" cy="209.3" r="3.3" fill="#6cb4d6"/><circle cx="362.5" cy="224.9" r="2.0" fill="#b9e4f0"/><circle cx="356.6" cy="207.9" r="2.5" fill="#97cee2"/><circle cx="361.8" cy="215.7" r="2.5" fill="#97cee2"/><circle cx="359.1" cy="233.2" r="3.3" fill="#6cb4d6"/><circle cx="373.3" cy="245.4" r="2.0" fill="#b9e4f0"/><circle cx="359.6" cy="232.2" r="2.5" fill="#97cee2"/><circle cx="376" cy="232.2" r="2.5" fill="#97cee2"/><circle cx="363.2" cy="215.5" r="2.0" fill="#b9e4f0"/><circle cx="352.6" cy="214.4" r="2.5" fill="#97cee2"/><circle cx="358.4" cy="234.5" r="2.5" fill="#97cee2"/><circle cx="372.4" cy="249.8" r="2.0" fill="#b9e4f0"/><circle cx="347.6" cy="257.2" r="2.5" fill="#97cee2"/><circle cx="375.3" cy="224.4" r="2.5" fill="#97cee2"/><circle cx="372.7" cy="213.1" r="3.3" fill="#6cb4d6"/><circle cx="347.2" cy="219.6" r="3.3" fill="#6cb4d6"/><circle cx="379.5" cy="250.3" r="2.5" fill="#97cee2"/><circle cx="365.9" cy="216.1" r="2.5" fill="#97cee2"/><circle cx="360.5" cy="254.5" r="3.3" fill="#6cb4d6"/><circle cx="373.7" cy="255.4" r="2.5" fill="#97cee2"/><circle cx="374.6" cy="222.6" r="2.0" fill="#b9e4f0"/><circle cx="347.3" cy="224.3" r="2.5" fill="#97cee2"/><circle cx="362.5" cy="249.2" r="2.0" fill="#b9e4f0"/><circle cx="375.2" cy="238.4" r="2.0" fill="#b9e4f0"/><circle cx="369.9" cy="209.6" r="2.5" fill="#97cee2"/><circle cx="365.2" cy="238.5" r="3.3" fill="#6cb4d6"/><circle cx="359.4" cy="228.4" r="2.0" fill="#b9e4f0"/><circle cx="358.6" cy="217.2" r="2.0" fill="#b9e4f0"/><circle cx="351.9" cy="254.3" r="2.5" fill="#97cee2"/><circle cx="348.1" cy="233.9" r="2.0" fill="#b9e4f0"/><circle cx="423" cy="204.6" r="2.5" fill="#97cee2"/><circle cx="389.8" cy="209" r="3.3" fill="#6cb4d6"/><circle cx="427.4" cy="232.9" r="4.0" fill="#4f9dcd"/><circle cx="412.5" cy="222.3" r="3.3" fill="#6cb4d6"/><circle cx="407.5" cy="219.2" r="2.5" fill="#97cee2"/><circle cx="392.8" cy="224.1" r="2.5" fill="#97cee2"/><circle cx="406.2" cy="238.7" r="3.3" fill="#6cb4d6"/><circle cx="407.3" cy="243.5" r="3.3" fill="#6cb4d6"/><circle cx="394.1" cy="239.9" r="3.3" fill="#6cb4d6"/><circle cx="427.1" cy="241.4" r="2.5" fill="#97cee2"/><circle cx="426.8" cy="219.8" r="3.3" fill="#6cb4d6"/><circle cx="414.2" cy="222.8" r="4.0" fill="#4f9dcd"/><circle cx="401.2" cy="213" r="3.3" fill="#6cb4d6"/><circle cx="414.1" cy="208.9" r="2.5" fill="#97cee2"/><circle cx="418.7" cy="210.6" r="2.5" fill="#97cee2"/><circle cx="411" cy="209" r="2.5" fill="#97cee2"/><circle cx="398.8" cy="221" r="2.5" fill="#97cee2"/><circle cx="400.1" cy="238.6" r="4.0" fill="#4f9dcd"/><circle cx="408.3" cy="216.7" r="2.5" fill="#97cee2"/><circle cx="392.3" cy="246.4" r="3.3" fill="#6cb4d6"/><circle cx="414.3" cy="237.8" r="2.5" fill="#97cee2"/><circle cx="411.2" cy="240" r="3.3" fill="#6cb4d6"/><circle cx="485" cy="181.9" r="2.0" fill="#b9e4f0"/><circle cx="494.6" cy="185.2" r="2.0" fill="#b9e4f0"/><circle cx="486.7" cy="220.3" r="2.0" fill="#b9e4f0"/><circle cx="478.7" cy="206.1" r="2.0" fill="#b9e4f0"/><circle cx="515.4" cy="189.6" r="2.0" fill="#b9e4f0"/><circle cx="495.2" cy="214.4" r="2.5" fill="#97cee2"/><circle cx="486.6" cy="190.6" r="2.0" fill="#b9e4f0"/><circle cx="521.2" cy="182.8" r="2.5" fill="#97cee2"/><circle cx="480.7" cy="217.4" r="2.5" fill="#97cee2"/><circle cx="513.4" cy="210.1" r="2.0" fill="#b9e4f0"/><circle cx="504" cy="216.6" r="2.5" fill="#97cee2"/><circle cx="511.2" cy="212.9" r="2.0" fill="#b9e4f0"/><circle cx="482.1" cy="204.6" r="2.0" fill="#b9e4f0"/><circle cx="503" cy="181.9" r="2.0" fill="#b9e4f0"/><circle cx="509.1" cy="199.5" r="2.0" fill="#b9e4f0"/><circle cx="499.4" cy="190" r="2.0" fill="#b9e4f0"/><circle cx="521.1" cy="197.1" r="2.0" fill="#b9e4f0"/><circle cx="484.5" cy="201.9" r="2.0" fill="#b9e4f0"/><circle cx="502.6" cy="218.2" r="2.0" fill="#b9e4f0"/><circle cx="499.5" cy="195.4" r="2.5" fill="#97cee2"/><circle cx="474.7" cy="190.5" r="2.0" fill="#b9e4f0"/><circle cx="488.5" cy="210.1" r="2.0" fill="#b9e4f0"/><circle cx="502.6" cy="220.5" r="2.0" fill="#b9e4f0"/><circle cx="498.1" cy="199.1" r="2.5" fill="#97cee2"/><circle cx="505" cy="180" r="2.0" fill="#b9e4f0"/><circle cx="484.6" cy="216" r="2.0" fill="#b9e4f0"/><circle cx="511.6" cy="185.2" r="2.5" fill="#97cee2"/><circle cx="506" cy="196.4" r="2.0" fill="#b9e4f0"/><circle cx="518.9" cy="210.4" r="2.0" fill="#b9e4f0"/><circle cx="485.8" cy="196.5" r="2.5" fill="#97cee2"/><circle cx="498.4" cy="186.2" r="2.0" fill="#b9e4f0"/><circle cx="500.7" cy="183.3" r="2.0" fill="#b9e4f0"/><circle cx="478.9" cy="202.4" r="2.0" fill="#b9e4f0"/><circle cx="479.8" cy="216.5" r="2.0" fill="#b9e4f0"/><circle cx="509.1" cy="203.8" r="2.5" fill="#97cee2"/><circle cx="499.8" cy="192.6" r="2.0" fill="#b9e4f0"/><circle cx="513.7" cy="189.5" r="2.0" fill="#b9e4f0"/><circle cx="517.2" cy="210.3" r="2.5" fill="#97cee2"/><circle cx="136.8" cy="222.6" r="1.8" fill="#fdfbc4"/><circle cx="202.1" cy="202.6" r="1.8" fill="#fdfbc4"/><circle cx="218" cy="205.5" r="1.8" fill="#fdfbc4"/><circle cx="281.5" cy="228.1" r="1.8" fill="#fdfbc4"/><circle cx="458.4" cy="184.1" r="1.8" fill="#fdfbc4"/><circle cx="464.9" cy="185.6" r="1.8" fill="#fdfbc4"/><circle cx="478.6" cy="184.4" r="1.8" fill="#fdfbc4"/><circle cx="494.2" cy="178.5" r="1.8" fill="#fdfbc4"/><circle cx="515.8" cy="173.7" r="1.8" fill="#fdfbc4"/><circle cx="507.6" cy="182.9" r="1.8" fill="#fdfbc4"/><circle cx="491.3" cy="189.6" r="1.8" fill="#fdfbc4"/><circle cx="550.4" cy="188.7" r="1.8" fill="#fdfbc4"/><circle cx="459.3" cy="198.1" r="1.8" fill="#fdfbc4"/><circle cx="448.6" cy="206.6" r="1.8" fill="#fdfbc4"/><circle cx="440.5" cy="210.8" r="1.8" fill="#fdfbc4"/><circle cx="457.8" cy="220.3" r="1.8" fill="#fdfbc4"/><circle cx="474.9" cy="226.4" r="1.8" fill="#fdfbc4"/><circle cx="502" cy="204.3" r="1.8" fill="#fdfbc4"/><circle cx="529.8" cy="158.4" r="1.8" fill="#fdfbc4"/><circle cx="515.9" cy="173.9" r="1.8" fill="#fdfbc4"/><circle cx="494.3" cy="178.4" r="1.8" fill="#fdfbc4"/><circle cx="458.1" cy="184.2" r="1.8" fill="#fdfbc4"/><circle cx="464.7" cy="185.9" r="1.8" fill="#fdfbc4"/><circle cx="478.7" cy="184.2" r="1.8" fill="#fdfbc4"/><circle cx="491.2" cy="189.6" r="1.8" fill="#fdfbc4"/><circle cx="507.6" cy="183" r="1.8" fill="#fdfbc4"/><circle cx="550.2" cy="188.9" r="1.8" fill="#fdfbc4"/><circle cx="563.2" cy="181.7" r="1.8" fill="#fdfbc4"/><circle cx="577.9" cy="167.6" r="1.8" fill="#fdfbc4"/><circle cx="348.6" cy="246.1" r="2.0" fill="#b9e4f0"/><circle cx="354.9" cy="247.3" r="2.0" fill="#b9e4f0"/><circle cx="367.4" cy="247.3" r="2.0" fill="#b9e4f0"/><circle cx="373" cy="252.3" r="2.0" fill="#b9e4f0"/><circle cx="364.9" cy="239.8" r="2.0" fill="#b9e4f0"/><circle cx="369.8" cy="248.6" r="2.0" fill="#b9e4f0"/><circle cx="376.1" cy="249.8" r="2.0" fill="#b9e4f0"/><circle cx="378.6" cy="256.1" r="2.0" fill="#b9e4f0"/><circle cx="354.9" cy="256.1" r="2.0" fill="#b9e4f0"/><circle cx="367.4" cy="256.7" r="2.0" fill="#b9e4f0"/><circle cx="310.8" cy="278.1" r="2.0" fill="#b9e4f0"/><circle cx="338.8" cy="290.8" r="2.0" fill="#b9e4f0"/><circle cx="204.2" cy="193.6" r="2.5" fill="#97cee2"/><circle cx="207.4" cy="168.7" r="2.5" fill="#97cee2"/><circle cx="214.8" cy="158.7" r="2.5" fill="#97cee2"/><circle cx="232.3" cy="177.4" r="2.5" fill="#97cee2"/><circle cx="254.8" cy="184.3" r="2.5" fill="#97cee2"/><circle cx="254.8" cy="192.4" r="2.5" fill="#97cee2"/><circle cx="266" cy="187.4" r="2.5" fill="#97cee2"/><circle cx="256.7" cy="233.6" r="2.5" fill="#97cee2"/><circle cx="217.3" cy="180.5" r="2.5" fill="#97cee2"/><circle cx="218.6" cy="202.4" r="2.5" fill="#97cee2"/><circle cx="237.3" cy="188.7" r="2.5" fill="#97cee2"/><circle cx="266.2" cy="187.4" r="2.5" fill="#97cee2"/><circle cx="295.6" cy="204.6" r="2.5" fill="#97cee2"/><circle cx="312.2" cy="203.9" r="2.5" fill="#97cee2"/><circle cx="298.1" cy="236.7" r="2.5" fill="#97cee2"/><circle cx="308.1" cy="249.8" r="2.5" fill="#97cee2"/><circle cx="321.8" cy="249.8" r="2.5" fill="#97cee2"/><circle cx="338" cy="228.6" r="2.5" fill="#97cee2"/><circle cx="341.8" cy="233.6" r="2.5" fill="#97cee2"/><circle cx="248.7" cy="314.3" r="2.5" fill="#97cee2"/><circle cx="312.6" cy="294.7" r="2.5" fill="#97cee2"/><circle cx="123.7" cy="220.5" r="3.3" fill="#6cb4d6"/><circle cx="137.4" cy="223.6" r="3.3" fill="#6cb4d6"/><circle cx="158.7" cy="207.4" r="3.3" fill="#6cb4d6"/><circle cx="181.8" cy="202.4" r="3.3" fill="#6cb4d6"/><circle cx="176.1" cy="174.9" r="3.3" fill="#6cb4d6"/><circle cx="183" cy="174.9" r="3.3" fill="#6cb4d6"/><circle cx="230.4" cy="183.7" r="3.3" fill="#6cb4d6"/><circle cx="124.3" cy="237.3" r="3.3" fill="#6cb4d6"/><circle cx="346.1" cy="231.7" r="3.3" fill="#6cb4d6"/><circle cx="356.1" cy="233.6" r="3.3" fill="#6cb4d6"/><circle cx="331.2" cy="245.5" r="3.3" fill="#6cb4d6"/><circle cx="271.6" cy="286.8" r="3.3" fill="#6cb4d6"/><circle cx="352.9" cy="267.4" r="3.3" fill="#6cb4d6"/><circle cx="393.7" cy="233.7" r="3.3" fill="#6cb4d6"/><circle cx="424.9" cy="213.1" r="3.3" fill="#6cb4d6"/><circle cx="426.2" cy="219.3" r="3.3" fill="#6cb4d6"/><circle cx="414.9" cy="243.6" r="3.3" fill="#6cb4d6"/><circle cx="449.9" cy="193.7" r="3.3" fill="#6cb4d6"/><circle cx="541" cy="181.9" r="3.3" fill="#6cb4d6"/><circle cx="539.8" cy="175.6" r="3.3" fill="#6cb4d6"/><circle cx="478" cy="221.2" r="3.3" fill="#6cb4d6"/><circle cx="501.7" cy="218.1" r="3.3" fill="#6cb4d6"/><circle cx="469.9" cy="197.5" r="3.3" fill="#6cb4d6"/><circle cx="478.6" cy="198.1" r="3.3" fill="#6cb4d6"/><circle cx="439.3" cy="190" r="3.3" fill="#6cb4d6"/><circle cx="450" cy="194.2" r="3.3" fill="#6cb4d6"/><circle cx="503.6" cy="167.4" r="3.3" fill="#6cb4d6"/><circle cx="509.9" cy="137.4" r="3.3" fill="#6cb4d6"/><circle cx="537.3" cy="169.9" r="3.3" fill="#6cb4d6"/><circle cx="518.6" cy="196.7" r="3.3" fill="#6cb4d6"/><circle cx="528.6" cy="175.5" r="3.3" fill="#6cb4d6"/><circle cx="549.8" cy="169.9" r="3.3" fill="#6cb4d6"/><circle cx="168.7" cy="181.2" r="4.0" fill="#4f9dcd"/><circle cx="181.1" cy="182.4" r="4.0" fill="#4f9dcd"/><circle cx="183.6" cy="187.4" r="4.0" fill="#4f9dcd"/><circle cx="224.8" cy="151.2" r="4.0" fill="#4f9dcd"/><circle cx="216.7" cy="197.4" r="4.0" fill="#4f9dcd"/><circle cx="246" cy="182.4" r="4.0" fill="#4f9dcd"/><circle cx="244.8" cy="192.4" r="4.0" fill="#4f9dcd"/><circle cx="232.3" cy="212.1" r="4.0" fill="#4f9dcd"/><circle cx="192.4" cy="164.9" r="4.0" fill="#4f9dcd"/><circle cx="196.1" cy="166.8" r="4.0" fill="#4f9dcd"/><circle cx="224.8" cy="181.2" r="4.0" fill="#4f9dcd"/><circle cx="189.9" cy="159.9" r="4.0" fill="#4f9dcd"/><circle cx="282.2" cy="193.4" r="4.0" fill="#4f9dcd"/><circle cx="324.9" cy="227.4" r="4.0" fill="#4f9dcd"/><circle cx="313.9" cy="241.7" r="4.0" fill="#4f9dcd"/><circle cx="353" cy="239.8" r="4.0" fill="#4f9dcd"/><circle cx="364.2" cy="233.6" r="4.0" fill="#4f9dcd"/><circle cx="273.7" cy="318.9" r="4.0" fill="#4f9dcd"/><circle cx="337.1" cy="271.8" r="4.0" fill="#4f9dcd"/><circle cx="416.2" cy="211.8" r="4.0" fill="#4f9dcd"/><circle cx="426.8" cy="226.8" r="4.0" fill="#4f9dcd"/><circle cx="418.7" cy="232.4" r="4.0" fill="#4f9dcd"/><circle cx="398.7" cy="223.7" r="4.0" fill="#4f9dcd"/><circle cx="466.1" cy="201.2" r="4.0" fill="#4f9dcd"/><circle cx="501.1" cy="186.9" r="4.0" fill="#4f9dcd"/><circle cx="456.8" cy="203.7" r="4.0" fill="#4f9dcd"/><circle cx="439.9" cy="219.9" r="4.0" fill="#4f9dcd"/><circle cx="486.1" cy="226.8" r="4.0" fill="#4f9dcd"/><circle cx="497.4" cy="145.5" r="4.0" fill="#4f9dcd"/><circle cx="551.1" cy="158" r="4.0" fill="#4f9dcd"/><circle cx="518.6" cy="192.4" r="4.0" fill="#4f9dcd"/><circle cx="501.1" cy="186.7" r="4.0" fill="#4f9dcd"/><circle cx="437.5" cy="181.7" r="4.0" fill="#4f9dcd"/><circle cx="539.8" cy="176.1" r="4.0" fill="#4f9dcd"/><circle cx="541.7" cy="181.7" r="4.0" fill="#4f9dcd"/><circle cx="190.5" cy="202.4" r="4.6" fill="#2878b6"/><circle cx="204.2" cy="179.9" r="4.6" fill="#2878b6"/><circle cx="223.6" cy="199.9" r="4.6" fill="#2878b6"/><circle cx="238.6" cy="197.4" r="4.6" fill="#2878b6"/><circle cx="217.3" cy="153.1" r="4.6" fill="#2878b6"/><circle cx="353.6" cy="224.2" r="4.6" fill="#2878b6"/><circle cx="341.8" cy="249.8" r="4.6" fill="#2878b6"/><circle cx="404.3" cy="210.6" r="4.6" fill="#2878b6"/><circle cx="518.6" cy="192.5" r="4.6" fill="#2878b6"/><circle cx="147.4" cy="211.1" r="5.3" fill="#08519c"/><circle cx="167.4" cy="207.4" r="5.3" fill="#08519c"/><circle cx="176.8" cy="213" r="5.3" fill="#08519c"/><circle cx="189.3" cy="206.8" r="5.3" fill="#08519c"/><circle cx="230.4" cy="156.2" r="5.3" fill="#08519c"/><circle cx="211.1" cy="174.9" r="5.3" fill="#08519c"/><circle cx="295.2" cy="185.5" r="5.3" fill="#08519c"/><circle cx="313.4" cy="215.5" r="5.3" fill="#08519c"/><circle cx="329.3" cy="240.5" r="5.3" fill="#08519c"/><circle cx="341.8" cy="257.3" r="5.3" fill="#08519c"/><circle cx="242.5" cy="311.8" r="5.3" fill="#08519c"/><circle cx="414.9" cy="218.7" r="5.3" fill="#08519c"/><circle cx="468.6" cy="207.4" r="5.3" fill="#08519c"/><circle cx="130.6" cy="224.2" r="6.0" fill="#08306b"/><circle cx="137.4" cy="229.2" r="6.0" fill="#08306b"/><circle cx="141.8" cy="233" r="6.0" fill="#08306b"/><circle cx="150.6" cy="238" r="6.0" fill="#08306b"/><circle cx="163.7" cy="243" r="6.0" fill="#08306b"/><circle cx="171.8" cy="243.6" r="6.0" fill="#08306b"/><circle cx="179.9" cy="244.8" r="6.0" fill="#08306b"/><circle cx="189.3" cy="243.6" r="6.0" fill="#08306b"/><circle cx="213.3" cy="234.2" r="6.0" fill="#08306b"/><circle cx="235.4" cy="225.9" r="6.0" fill="#08306b"/><circle cx="157.4" cy="213.6" r="6.0" fill="#08306b"/><circle cx="191.1" cy="177.7" r="6.0" fill="#08306b"/><circle cx="221.7" cy="175.5" r="6.0" fill="#08306b"/><circle cx="214.2" cy="181.2" r="6.0" fill="#08306b"/><circle cx="225.5" cy="197.4" r="6.0" fill="#08306b"/><circle cx="236.7" cy="193.6" r="6.0" fill="#08306b"/><circle cx="198.6" cy="161.2" r="6.0" fill="#08306b"/><circle cx="292.7" cy="216.4" r="6.0" fill="#08306b"/><circle cx="303.1" cy="213.4" r="6.0" fill="#08306b"/><circle cx="325.5" cy="219.2" r="6.0" fill="#08306b"/><circle cx="334.9" cy="215.1" r="6.0" fill="#08306b"/><circle cx="339.9" cy="222.4" r="6.0" fill="#08306b"/><circle cx="352.6" cy="206.8" r="6.0" fill="#08306b"/><circle cx="367.6" cy="207.4" r="6.0" fill="#08306b"/><circle cx="377.3" cy="213.6" r="6.0" fill="#08306b"/><circle cx="363" cy="223.6" r="6.0" fill="#08306b"/><circle cx="366.7" cy="229.2" r="6.0" fill="#08306b"/><circle cx="340.5" cy="240.5" r="6.0" fill="#08306b"/><circle cx="374.8" cy="241.1" r="6.0" fill="#08306b"/><circle cx="335.5" cy="254.2" r="6.0" fill="#08306b"/><circle cx="343.6" cy="255.4" r="6.0" fill="#08306b"/><circle cx="292.5" cy="250.8" r="6.0" fill="#08306b"/><circle cx="283.5" cy="258.6" r="6.0" fill="#08306b"/><circle cx="240.3" cy="296.4" r="6.0" fill="#08306b"/><circle cx="267.7" cy="311.1" r="6.0" fill="#08306b"/><circle cx="274.9" cy="270.6" r="6.0" fill="#08306b"/><circle cx="293" cy="277.4" r="6.0" fill="#08306b"/><circle cx="165.2" cy="286" r="6.0" fill="#08306b"/><circle cx="377.5" cy="213.7" r="6.0" fill="#08306b"/><circle cx="398.1" cy="216.8" r="6.0" fill="#08306b"/><circle cx="408.1" cy="224.9" r="6.0" fill="#08306b"/><circle cx="403.1" cy="233.7" r="6.0" fill="#08306b"/><circle cx="406.2" cy="238" r="6.0" fill="#08306b"/><circle cx="417.4" cy="235.5" r="6.0" fill="#08306b"/><circle cx="392.5" cy="244.9" r="6.0" fill="#08306b"/><circle cx="376.2" cy="241.2" r="6.0" fill="#08306b"/><circle cx="429.9" cy="214.9" r="6.0" fill="#08306b"/>
<path d="M149.9,257.3L141.2,255.4L133.7,253.6L130.6,249.8L128.7,246.1L125,244.2L121.8,243L117.5,243L120.6,239.8L121.2,234.8L120,230.5L115,229.2L110,228.6L109.4,225.5L108.1,223.6L110.6,221.1L111.2,217.4L113.7,215.5L118.7,213L123.1,213.4L126.8,212.1L128.7,214.2L133.7,214.9L136.2,209.9L141.2,206.8L147.4,204.9L152.4,203.6L158.7,201.1L163.7,199.3L166.8,197.4L168,193.6L171.2,191.8L171.8,188L169.9,183.7L168.7,178.7L166.2,175.5L163.7,174.9L169.9,173.1L177.4,171.2L183.6,170.6L186.1,169.9L185.5,167.4L187.4,162.4L189.9,157.4L192.1,154.3L198.6,156L206.1,156.4L212.3,156.2L215.5,155.6L213,151.2L213,146.8L216.1,144.3L223,142.5L223.6,139.3L227.3,138.1L233.6,138.5L234.8,141.8L238.6,145L243.6,147.2L249.8,148.5L254.8,151.2L259.2,155L261.7,159.9L261,164.9L257.9,168.1L258.5,171.2L263.5,173.4L272.3,173.9L260,170.6L267.5,173.1L278.7,173.9L286.2,176.8L292.5,179.9L298.7,181.2L302.4,187.4L307.4,193.6L316.2,193.6L324.9,194.3L334.9,194.9L344.9,194.3L352.4,195.5L358.6,198L366.1,200.5L372.3,201.8L378.6,201.8L380.5,203L387.3,201.8L394.8,198.6L402.3,196.8L412.3,195.9L422.3,194.9L420,196.1L427.5,193L433.7,188.6L440,186.1L443.7,185.5L440,179.9L440,176.1L443.7,173.6L451.2,176.1L457.4,176.1L462.4,172.4L467.4,169.9L474.9,169.3L479.9,164.9L484.9,162.4L492.4,159.9L499.9,159.3L507.4,159.9L512.4,160.5L511.7,156.8L508.6,153.7L503.6,149.9L498.6,148L492.4,148.7L488,151.2L482.4,148.7L476.2,151.2L473.7,147.4L477.4,142.4L481.2,136.2L483.7,131.8L493.6,134.3L501.1,131.2L506.1,129.9L504.9,127.4L508.6,123.7L511.7,118.7L514.9,115L519.9,113.1L519.9,108.7L513,108.1L513.6,105L518.6,102.5L526.1,101.2L534.8,100L543.6,99.7L551.1,101.9L557.3,102.5L563.6,106.2L567.3,111.2L571,116.8L575.4,123.7L578.5,128.7L581,133.1L587.3,133.7L594.8,135.6L604.2,140.4L606.1,146.8L609.7,150.5L620.7,150.5L628,146.8L637.2,145L644.5,144.5L639.9,148.7L640.9,152.3L636.3,154.2L634.4,160.6L630.8,167L626.2,173.4L615.2,171.2L608.8,175.2L610.6,182.5L610.6,189.9L606.1,195.4L600.6,191.7L597.8,195.4L593.2,197.2L583.2,200.9L584.1,205.4L573.1,202.7L568.5,206.4L563,210L554.8,214.6L549.3,218.3L548.6,219.5L538.6,220.4L531.2,224L523.9,228.6L527.6,225L527.6,220.4L532.2,213.1L529.4,210.3L524.8,209.8L520.3,212.1L514.8,217.6L507.4,220.4L502,224L494.6,225L491.9,229.5L495.5,233.2L502,236.9L505.6,241.4L512.9,242.3L520.3,238.7L523.9,239.6L534.9,240.5L531.2,244.2L520.3,246.9L516.6,251.5L510.2,256.1L506.5,261.6L514.8,266.2L516.6,268L520.3,275.3L522.1,280.8L527.6,286.3L523.9,290.9L528.5,290.9L529.4,296.4L525.8,299.1L517.5,301.9L526.7,302.8L530.3,304.6L527.6,311.9L525.8,318.3L521.8,322.2L519.5,326L516.5,331.3L513.5,334.3L510.4,333.5L511.2,336.6L509.7,341.1L506.6,345.7L502.8,348.7L501.3,352.1L497.2,351.8L497.8,354L496,356.3L490.7,360.6L483.9,364.7L478.6,367.2L471.7,368.4L465.7,368.8L462.6,372.2L458.1,368.8L456.5,372.2L452.8,370L452,374.5L449,375.7L443.6,376.8L439.1,378.8L433.8,379.8L429.2,381.3L428.5,383.6L430.4,386.7L429.2,388.6L426.2,388.9L424.7,386.7L423.5,382.9L423.9,379.8L420.9,379.4L417.1,377.3L411.8,377.6L409.8,377.4L404.8,377.4L399.8,375.5L396.7,372.4L397.3,366.7L389.8,364.9L384.9,362.4L379.9,366.1L374.9,368L369.9,367.4L364.9,368.6L359.9,367.4L353.6,370.5L353.6,374.9L354.9,381.7L349.9,381.7L348.7,376.7L344.9,379.2L340.5,378.6L337.4,374.2L332.4,373.6L333.7,371.1L334.9,366.7L332.4,364.9L329.9,361.1L328.7,356.1L322.4,356.1L318.1,357.4L317.4,352.4L319.3,347.4L323.1,344.3L327.4,341.2L328.7,333.7L328.1,326.2L324.9,323.7L321.8,319.3L318.1,317.4L316.2,319.3L314.3,324.3L310,321.8L305,319.3L300,319.9L293.7,323.7L287.5,326.8L283.7,331.2L283.5,331.1L277.3,331.8L271,332.4L270.4,328.6L267.3,326.1L265.4,322.4L259.8,321.2L253.6,319.9L248.6,321.2L245.4,324.9L243.6,329.3L241.7,326.1L241.1,321.8L237.3,322.4L232.3,323.6L227.3,323.6L222.3,321.8L217.4,322.4L212.4,319.9L209.9,318L204.9,316.2L202.4,313L199.9,311.2L195.5,311.2L191.1,307.4L186.1,304.3L183,301.2L178,301.2L174.9,304.3L171.2,301.8L166.2,299.3L161.2,296.2L156.2,294.3L154.9,291.2L152.4,287.4L151.2,283.1L153.1,281.8L156.2,283.7L158.7,281.8L159.3,278.1L156.2,275L154.3,271.2L156.8,266.9L152.4,266.2L149.9,257.5Z" fill="none" stroke="#000" stroke-width="2.6" stroke-linejoin="round" stroke-linecap="round"/>
<path d="M548.6,219.5L538.6,220.4L531.2,224L523.9,228.6L527.6,225L527.6,220.4L532.2,213.1L529.4,210.3L524.8,209.8L520.3,212.1L514.8,217.6L507.4,220.4L502,224L494.6,225L491.9,229.5L495.5,233.2L502,236.9L505.6,241.4L512.9,242.3L520.3,238.7L523.9,239.6L534.9,240.5L531.2,244.2L520.3,246.9L516.6,251.5L510.2,256.1L506.5,261.6L514.8,266.2L516.6,268L520.3,275.3L522.1,280.8L527.6,286.3L523.9,290.9L528.5,290.9L529.4,296.4L525.8,299.1L517.5,301.9L526.7,302.8L530.3,304.6L527.6,311.9L525.8,318.3L521.8,322.2L519.5,326L516.5,331.3L513.5,334.3L510.4,333.5L511.2,336.6L509.7,341.1L506.6,345.7L502.8,348.7L501.3,352.1L497.2,351.8L497.8,354L496,356.3L490.7,360.6L483.9,364.7L478.6,367.2L471.7,368.4L465.7,368.8L462.6,372.2L458.1,368.8L456.5,372.2L452.8,370L452,374.5L449,375.7L443.6,376.8L439.1,378.8L433.8,379.8L429.2,381.3L428.5,383.6L430.4,386.7L429.2,388.6L426.2,388.9L424.7,386.7L423.5,382.9L423.9,379.8L420.9,379.4L417.1,377.3L411.8,377.6" fill="none" stroke="#000" stroke-width="3.4" stroke-linejoin="round" stroke-linecap="round"/>
<path d="M414.8,398L418.6,395.8L422.4,392.7L426.2,391.7L434.5,391.7L435.3,394.3L432.3,398L430.7,401.8L427.7,404.9L423.2,407.2L419.4,407.2L415.6,404.9L414.4,401.8ZM526.4,346L529.4,347.5L530.2,351.8L527.9,356.3L526.4,361.6L524.8,365.4L521.8,370L520.3,374.2L518.8,370.7L515.7,368.4L514.2,363.9L514.5,360.1L517.3,355.5L520.3,350.2L523.3,347.2Z" fill="none" stroke="#000" stroke-width="2.6" stroke-linejoin="round"/>
<path d="M537.1,351.8 L534.4,361.9M529.8,377.5 L523,384.8M513.3,400.4 L507.8,409.5M504.7,426 L504.7,433.3M419.4,424.5 L424,430" fill="none" stroke="#000" stroke-width="2.4" stroke-linecap="round"/>
<g fill="#000"><circle cx="544.4" cy="340.9" r="1.4"/><circle cx="552.3" cy="340.5" r="1.2"/><circle cx="484.9" cy="385.7" r="2.3"/><circle cx="508.7" cy="361.9" r="2.2"/><circle cx="525.2" cy="369.2" r="1.2"/><circle cx="526.7" cy="373.8" r="1.3"/><circle cx="494.1" cy="433.3" r="1.5"/><circle cx="438.2" cy="417.8" r="1.6"/><circle cx="441.4" cy="422.9" r="2.6"/><circle cx="445.6" cy="418.7" r="1.8"/><circle cx="447.4" cy="426" r="1.6"/><circle cx="437.3" cy="427.8" r="1.3"/><circle cx="449.2" cy="421.4" r="1.2"/><circle cx="442.8" cy="426" r="1.8"/><circle cx="524.9" cy="250.2" r="1.2"/></g>
<path d="M457.8,428.8L462,425.5L467.5,424.2L469.4,426.9L465.7,430.6L460.2,431.9Z" fill="none" stroke="#000" stroke-width="1.8"/>
<rect x="568.6" y="297.4" width="115.1" height="134.1" fill="#fff"/>
<clipPath id="clipI"><rect x="568.6" y="297.4" width="115.1" height="134.1"/></clipPath>
<g clip-path="url(#clipI)" fill="none" stroke="#000" stroke-linejoin="round" stroke-linecap="round">
<path d="M576.2,296.9L577.5,299.4L580,302.5L585,303.7L589.9,304.3L596.2,305.6L601.2,307.5L607.4,306.8L613.7,304.3L619.9,302.5L624.9,301.9L629.9,300L637.4,297.7L642.4,296.2M597.4,306.2L598.7,311.2L602.4,314.3L606.2,315.6L608.9,316.5M596.2,305.6L594.9,310L597.4,313.1M591.2,319.9L594.9,316.8L601.2,316.2L605.5,318.1L604.9,322.4L601.2,326.2L596.2,327.4L591.8,325.6ZM666.1,297.5L668.6,301.9L671.1,305" stroke-width="2.9"/>
<path d="M583.7,308.1L578.7,311.2L575,315L573.1,319.9L573.7,324.9L577.5,329.9L582.5,334.9L587.5,339.9L591.2,344.9L593.7,351.1L595.6,357.4L596.2,363.6L594.9,369.9L591.2,373L586.2,376.1L581.2,378.6L577.5,382.3L573.7,385.5L567.5,389.8M567.5,325.6L575,332.4L580,338.7L583.1,344.9L585,352.4L585,359.9L582.5,364.9L578.7,368.6L575,371.1L576.2,374.9L572.5,376.1L567.5,374.2M567.5,339.9L572.5,344.9L571.9,349.9L567.5,353M567.5,353.9L575,352.4L580,351.1L583.7,351.8M668.6,326.2L672.3,325.6L677.3,327.4L679.2,326.2L679.8,331.2L680.4,334.9L678.5,339.9L675.4,343.7L674.2,348.6L676,353.6L677.9,357.4L679.8,354.9L682.9,354.3M668.6,326.2L667.3,331.2L666.1,337.4L663.6,341.2L664.8,346.2L667.3,349.9L669.8,353.6L672.3,356.1L674.2,359.9L673.6,364.9L671.7,366.1L669.8,362.4L667.3,358.6L672.3,357.4M646.7,389.8L649.8,386.1L654.8,382.3L658.6,378.6L661.7,376.1L661.1,373.6L659.8,377.3L656.1,381.1L652.3,384.2L648,387.3ZM608,431.6L609.9,426L614.9,423.5L619.9,422.3L623.6,418.5L627.4,414.8L632.4,413.5L634.9,409.8L639.9,404.8L644.9,400.4L647.3,402.3L649.8,406L654.8,408.5L659.8,411L656.1,413.5L653.6,416L649.8,417.3L646.1,421L648.6,424.8L653,431.6M631.1,431.6L634.9,422.3L639.9,417.3L646.1,416.7L648.8,419.8M677.3,359.9L676.7,367.4L678.5,372.4L677.3,377.3L681,376.1L682.9,371.1M682.9,359.9L679.8,364.9L681.7,369.9M680.4,382.3L682.9,384.8M682.9,392.3L679.8,393.6L677.9,397.3L677.3,401.1" stroke-width="1.3"/>
<path d="M595.6,340.5 L599.9,348M603,365.5 L600.6,373M588.7,399.2 L589.3,406.7M615.5,406.7 L617.4,410.4M635.5,399.2 L641.1,392.9M654.8,373.6 L658.6,367.4M658.6,341.2 L658.6,348.6M661.1,329.3 L664.8,322.4M671.7,311.8 L677.3,305.6" stroke-width="2.6" stroke-linecap="butt"/>
</g>
<g fill="#000" clip-path="url(#clipI)"><circle cx="643.9" cy="312.2" r="1.7"/><circle cx="650.1" cy="347.6" r="1.6"/><circle cx="664.8" cy="411.7" r="1.2"/><circle cx="671.7" cy="406.7" r="1.4"/><circle cx="677.3" cy="402.3" r="1.3"/><circle cx="664.2" cy="368" r="1"/><circle cx="676" cy="348.6" r="1"/><circle cx="669.2" cy="351.1" r="1"/><circle cx="610.4" cy="339.3" r="1.1"/><circle cx="614.1" cy="340" r="0.8"/><circle cx="608.2" cy="341.9" r="1"/><circle cx="610.4" cy="343.2" r="1.1"/><circle cx="616.4" cy="338.7" r="1.2"/><circle cx="609.5" cy="340.1" r="1.4"/><circle cx="613.3" cy="341" r="1.3"/><circle cx="608.7" cy="341.2" r="1.2"/><circle cx="611" cy="334.8" r="1.4"/><circle cx="612.8" cy="340.8" r="1.4"/><circle cx="615.2" cy="342.6" r="1.1"/><circle cx="630.6" cy="375.5" r="1.5"/><circle cx="631.3" cy="371.6" r="0.9"/><circle cx="625.5" cy="381.3" r="1.1"/><circle cx="629.1" cy="373.9" r="1.2"/><circle cx="627" cy="374.4" r="1.2"/><circle cx="628.7" cy="380.6" r="1.3"/><circle cx="631.8" cy="380.1" r="1.5"/><circle cx="629.5" cy="372.3" r="1.4"/><circle cx="632.1" cy="380.6" r="1.2"/><circle cx="629.9" cy="372.9" r="1.4"/><circle cx="639.4" cy="378.1" r="0.8"/><circle cx="642.6" cy="386" r="0.9"/><circle cx="642" cy="379.5" r="0.9"/><circle cx="636.3" cy="383.5" r="1.4"/><circle cx="633.5" cy="381.8" r="0.8"/><circle cx="641.1" cy="378.6" r="1.4"/><circle cx="644" cy="380.5" r="1.5"/><circle cx="636.5" cy="375.7" r="1.2"/><circle cx="633.3" cy="377.1" r="1.1"/><circle cx="639.9" cy="376.6" r="0.8"/><circle cx="642.7" cy="378.4" r="1.5"/><circle cx="643.1" cy="379.1" r="1.1"/><circle cx="638.8" cy="382.1" r="1.2"/><circle cx="639.3" cy="381.8" r="1.5"/><circle cx="646.2" cy="375.7" r="1.3"/><circle cx="643.8" cy="374.9" r="1.5"/><circle cx="646.3" cy="376.4" r="0.8"/><circle cx="645.4" cy="376.6" r="0.8"/><circle cx="647.1" cy="376.9" r="0.8"/><circle cx="647.2" cy="375.9" r="1.3"/><circle cx="600.1" cy="395.3" r="1.3"/><circle cx="597.6" cy="391.8" r="1.3"/><circle cx="604.6" cy="392.8" r="1.1"/><circle cx="601.9" cy="393.2" r="1.1"/><circle cx="599.8" cy="393.5" r="1.2"/><circle cx="599.7" cy="393.5" r="1.3"/><circle cx="610.2" cy="388.8" r="1.3"/><circle cx="613" cy="387.5" r="1.4"/><circle cx="612.3" cy="387.4" r="1.1"/><circle cx="616.9" cy="387.1" r="1"/><circle cx="613.2" cy="389.8" r="1.1"/><circle cx="630.6" cy="386.1" r="1"/><circle cx="628" cy="391.5" r="1.1"/><circle cx="622.7" cy="385.7" r="1.2"/><circle cx="622.3" cy="390.9" r="1.4"/><circle cx="622.2" cy="386.9" r="1.4"/><circle cx="627.9" cy="390.9" r="1"/><circle cx="621.5" cy="387" r="1.4"/><circle cx="623.3" cy="387.4" r="1.1"/><circle cx="624.4" cy="395.2" r="1.4"/><circle cx="622.7" cy="391.1" r="1.5"/><circle cx="627.3" cy="400.9" r="1.1"/><circle cx="627.7" cy="400.3" r="1"/><circle cx="626.4" cy="399.4" r="1.3"/><circle cx="625" cy="394" r="1"/><circle cx="610.3" cy="392.9" r="1.2"/><circle cx="610.5" cy="396.2" r="0.8"/><circle cx="612.4" cy="395.7" r="1.4"/><circle cx="620.1" cy="384.2" r="1.2"/><circle cx="616.8" cy="383.7" r="0.9"/><circle cx="616.3" cy="408.7" r="1.2"/><circle cx="616.6" cy="410.1" r="1.2"/><circle cx="616.4" cy="406.7" r="1.4"/><circle cx="614.7" cy="422.1" r="1"/><circle cx="612.6" cy="421.2" r="1.4"/><circle cx="612.4" cy="422.1" r="1.4"/><circle cx="617.2" cy="422.2" r="0.8"/><circle cx="621.5" cy="404" r="0.8"/><circle cx="620.5" cy="402.2" r="1.2"/><ellipse cx="628" cy="343.3" rx="4.6" ry="2.6" transform="rotate(-25 628 343.3)"/></g>
<rect x="568.6" y="297.4" width="115.1" height="134.1" fill="none" stroke="#000" stroke-width="2.7"/>
</g></g>
<g id="panelC">
<clipPath id="clipC"><rect x="79.5" y="727.5" width="608.6" height="347.8"/></clipPath>
<g clip-path="url(#clipC)">
<rect x="79.5" y="727.5" width="608.6" height="347.8" fill="#e6fdfd"/>
<path d="M76.1,724.6C108.1,717.3 284.4,723.9 316,724.6C347.6,725.2 313.8,727.9 313,729.1C312.2,730.3 311.7,731.9 310,733.7C308.2,735.4 302.6,740.7 299.9,742.2C297.2,743.6 293.7,743.8 289.6,744.6C285.5,745.5 274.5,747.9 268.9,748.6C263.4,749.2 253.8,749.1 248.3,749.8C242.8,750.5 233.1,752.9 227.6,753.7C222.1,754.5 212,755 207,755.8C202,756.7 194.4,758.4 190.3,760.1C186.1,761.8 179.9,766.5 176,768.3C172.2,770.1 165.6,772.9 161.4,773.5C157.3,774 149.7,772.6 144.7,772.2C139.7,771.8 129,770.5 124.1,770.4C119.1,770.3 111.8,770.8 107.7,771.3C103.5,771.9 96.7,773.5 93.1,774.4C89.4,775.2 82.6,777.1 80.3,777.7C78.1,778.4 76.6,786.3 76.1,779.2C75.5,772.1 44.1,731.8 76.1,724.6Z" fill="#98e6fb"/>
<path d="M297.2,725.5C280,726.8 298.3,732.9 300,733.8C301.7,734.7 305.6,731.7 308.3,731.7C311,731.7 315,732.9 317.9,733.8C320.8,734.7 324.5,736.6 327.6,737.9C330.7,739.3 335.5,741.3 338.6,742.8C341.7,744.2 345.4,745.8 348.3,747.6C351.2,749.3 355.4,752.5 357.9,754.5C360.4,756.4 363.2,759 364.8,760.7C366.5,762.3 367.9,763.3 369,765.5C370,767.7 369.9,773 371.7,775.2C373.6,777.3 378.7,779.3 381.4,780C384.1,780.7 386.8,780.6 389.7,780C392.6,779.4 397.6,776.9 400.7,775.9C403.8,774.8 407.4,773.9 410.3,773.1C413.2,772.3 418,771.5 420,770.3C422,769.2 423.2,767.3 423.4,765.5C423.7,763.8 422.7,760.5 421.4,758.6C420,756.8 416.3,754.8 414.5,753.1C412.6,751.4 410.6,749 409,747.6C407.3,746.1 404.7,744.9 403.4,743.4C402.2,742 400.7,739.5 400.7,737.9C400.7,736.4 401.8,734 403.4,733.1C405.1,732.2 410,732.9 411.7,731.7C413.4,730.6 431.9,726.4 414.8,725.5C397.6,724.6 314.5,724.3 297.2,725.5Z" fill="#98e6fb"/>
<path d="M76.8,910.5C77.7,885 79.8,910.3 81.4,909.2C83,908 85.5,904.3 87.8,902.8C90.1,901.3 94.2,899.4 96.9,899.1C99.7,898.9 103.1,900 106.1,901.3C109.1,902.7 113.5,905.6 117,908.3C120.6,911 126,916 129.8,919.2C133.7,922.5 138.8,927.3 142.6,930.2C146.5,933.1 151.3,936 155.4,938.4C159.5,940.9 165.6,944.2 170,946.7C174.4,949.1 180.3,952.8 184.7,954.9C189,956.9 194.9,959.1 199.3,960.4C203.7,961.6 209.2,962.4 213.9,963.1C218.6,963.8 225.1,964.9 230.3,965.3C235.6,965.7 243.7,965.8 248.6,965.8C253.6,965.9 259.1,966.3 263.2,965.8C267.4,965.4 272.5,964.5 276,963.1C279.6,961.7 283.8,958.4 287,956.7C290.2,955 294,951.9 297.1,951.8C300.1,951.6 304,954.1 307.1,955.8C310.3,957.5 315.5,961.2 318.1,963.1C320.7,965 323.2,966.4 324.5,968.6C325.7,970.8 325.9,974.7 326.3,977.7C326.7,980.7 326.4,986.1 327.2,988.7C328,991.3 331.2,992.9 331.8,995.1C332.3,997.3 332.1,1001 330.9,1003.3C329.6,1005.6 326,1008.4 323.6,1010.6C321.1,1012.8 316.5,1015.7 314.4,1017.9C312.4,1020.1 310.4,1022.8 309.8,1025.2C309.3,1027.7 309.8,1032.3 310.8,1034.4C311.7,1036.4 314,1038.7 316.2,1038.9C318.4,1039.2 323.2,1038.3 325.4,1036.2C327.6,1034.2 329.2,1028.3 330.9,1025.2C332.5,1022.2 335,1018.6 336.3,1016.1C337.7,1013.6 338.5,1012.7 340,1008.8C341.5,1004.9 345,994.9 346.4,990.3C347.8,985.7 349.3,981.4 349.4,978.2C349.5,975 346.6,971.8 347,969.1C347.5,966.3 350.7,963.1 352.5,960C354.2,956.8 357.9,951 358.6,947.8C359.2,944.6 356.6,941.9 357,938.7C357.5,935.5 359.8,930.2 361.6,926.5C363.4,922.9 368,918 369.2,914.4C370.3,910.7 370.8,905.4 369.2,902.2C367.6,899.1 361.5,895.4 358.6,893.1C355.6,890.9 350.8,888.9 349.4,887.1C348.1,885.2 348.1,883.7 349.4,881C350.8,878.2 354.9,871.6 358.6,868.8C362.2,866.1 369.6,864.5 373.7,862.8C377.8,861 375.9,859.8 385.9,857.3C395.8,854.8 429.2,848.2 440,846.1C450.8,844 452.6,844.2 457.9,843.4C463.3,842.6 470.5,841.6 475.9,840.7C481.2,839.7 488.4,838.6 493.8,837.1C499.2,835.6 506.9,833.2 511.7,830.8C516.6,828.4 522.3,823.8 526.1,821C529.8,818.1 533.6,814.7 536.8,812C540.1,809.3 544.4,805.2 547.6,803C550.8,800.9 554.6,798.7 558.3,797.7C562.1,796.6 568.1,795.7 572.7,795.9C577.3,796 584.5,797.6 588.8,798.6C593.1,799.5 597.9,800.7 601.4,802.1C604.9,803.6 609.4,806.1 612.1,808.4C614.8,810.7 618,814.4 619.3,817.4C620.7,820.3 619.8,825.7 621.1,828.1C622.4,830.6 625.9,833 628.3,833.5C630.7,834.1 634,832.1 637.2,831.7C640.5,831.3 646.3,830.3 649.8,830.8C653.3,831.4 657.9,833.6 660.6,835.3C663.2,837.1 665.3,840.5 667.7,842.5C670.1,844.5 673.7,847.1 676.7,848.8C679.6,850.4 684.8,852.4 687.4,853.2C690.1,854.1 693.5,852.6 694.6,854.7C695.7,856.8 695.7,865.3 694.6,867.2C693.5,869.2 689.6,866.7 687.4,867.6C685.3,868.4 682.7,871.4 680.3,873C677.9,874.6 674,876.7 671.3,878.3C668.6,880 664.4,881.8 662.3,883.7C660.3,885.6 658.5,888.7 657.9,890.9C657.2,893 656.9,896.5 657.9,898.1C658.8,899.7 661.9,901.1 664.1,901.7C666.4,902.2 669.6,902.2 673.1,901.7C676.6,901.1 684.2,898.7 687.4,898.1C690.7,897.4 693.5,894.6 694.6,897.2C695.7,899.8 695.7,912.5 694.6,915.3C693.5,918.1 689.9,915.5 687.4,916C685,916.5 681.7,917.3 678.5,918.7C675.3,920 669.4,922.9 665.9,925C662.4,927 658.1,930 655.2,932.1C652.2,934.3 648.9,937.2 646.2,939.3C643.5,941.5 639.9,944.3 637.2,946.5C634.6,948.6 631,951.6 628.3,953.7C625.6,955.7 622.1,957.8 619.3,959.9C616.5,962.1 613.9,964.9 609.5,967.9C605.1,970.8 595.7,976.4 589.7,979.7C583.8,983 575.7,986.4 569.7,989.7C563.7,993 555.7,997.7 549.6,1001.6C543.6,1005.4 535.6,1011.6 529.6,1015.5C523.6,1019.5 515.8,1024.1 509.9,1027.7C503.9,1031.3 495.8,1035.9 489.8,1039.5C483.8,1043.1 474.9,1048.4 469.8,1051.7C464.7,1055 459.7,1059 455.8,1061.7C451.9,1064.4 446.6,1067.8 443.9,1069.6C441.3,1071.4 439.3,1072 437.9,1073.6C436.4,1075.1 488.6,1079.1 434.2,1079.9C379.9,1080.8 129.2,1104.7 75.5,1079.3C21.9,1053.9 76,936 76.8,910.5Z" fill="#fffde8"/>
<path d="M88.7,938.4C89,936.6 89.9,932.9 91.4,931.1C93,929.3 95.7,927.2 98.8,926.6C101.8,925.9 108,926.1 111.6,926.6C115.1,927 119,927.6 122.5,929.3C126.1,930.9 131.5,935.2 135.3,937.5C139.1,939.8 144,942.5 148.1,944.8C152.2,947.2 158.3,950.7 162.7,953.1C167.1,955.4 173,958.6 177.3,960.4C181.7,962.1 187.6,963.8 192,964.9C196.4,966 202.2,966.8 206.6,967.7C211,968.5 216.3,969.7 221.2,970.4C226.1,971.2 234,972.2 239.5,972.6C245,973 252.8,973.2 257.8,973.2C262.7,973.2 268.7,972.5 272.4,972.6C276.1,972.7 281.9,973.3 282.4,974.1C283,974.8 278.4,976.9 276,977.7C273.7,978.5 269.1,978.9 266.9,979.6C264.7,980.2 261.7,981.2 261.4,982.3C261.1,983.4 263.6,985.4 265.1,986.9C266.6,988.4 270.4,990.4 271.5,992.3C272.6,994.3 272.8,997.2 272.4,999.7C272,1002.1 269.8,1006.1 268.7,1008.8C267.6,1011.5 266.4,1015.3 265.1,1017.9C263.7,1020.5 261.8,1024 259.6,1026.2C257.4,1028.3 253.5,1030.6 250.4,1032.6C247.4,1034.5 243,1036.9 239.5,1038.9C235.9,1041 230.5,1044.2 226.7,1046.3C222.9,1048.3 217.5,1050.9 213.9,1052.7C210.3,1054.4 206.2,1056.5 202.9,1058.1C199.6,1059.8 195,1062.1 192,1063.6C188.9,1065.1 185.8,1067.2 182.8,1068.2C179.8,1069.1 174.6,1070.3 171.9,1070C169.1,1069.7 165.9,1067.9 164.6,1066.4C163.2,1064.9 162.2,1061.7 162.7,1060C163.3,1058.2 166,1055.4 168.2,1054.5C170.4,1053.5 174.3,1054.3 177.3,1053.6C180.4,1052.9 185,1051.3 188.3,1049.9C191.6,1048.5 196.8,1046.2 199.3,1044.4C201.7,1042.6 204.2,1040 204.8,1038C205.3,1036.1 204.6,1033.3 202.9,1031.6C201.3,1030 196.8,1028.2 193.8,1027.1C190.8,1026 185.3,1025.4 182.8,1024.3C180.4,1023.2 177.9,1021.4 177.3,1019.8C176.8,1018.1 177.8,1015 179.2,1013.4C180.5,1011.7 183.5,1009.8 186.5,1008.8C189.5,1007.8 196.3,1007.7 199.3,1007C202.3,1006.3 206.3,1005.2 206.6,1004.2C206.9,1003.3 203.8,1001.3 201.1,1000.6C198.4,999.9 192.4,1000.1 188.3,999.7C184.2,999.2 177.8,999.1 173.7,997.8C169.6,996.6 164.7,994.2 160.9,991.4C157.1,988.7 151.7,983.3 148.1,979.6C144.5,975.9 140.2,970.3 137.1,966.8C134.1,963.2 131,958.5 128,955.8C125,953.1 120.3,950 117,948.5C113.7,947 109.4,946 106.1,945.7C102.8,945.5 97.6,947.1 95.1,946.7C92.6,946.2 90.6,944.2 89.6,943C88.7,941.8 88.4,940.2 88.7,938.4Z" fill="#fdd698"/>
<path d="M187.4,978.6C188.6,978.1 196.2,977.2 199.3,977.4C202.3,977.5 207.7,978.7 210.2,979.6C212.8,980.4 218.5,982.7 218.5,983.6C218.5,984.4 213,986 210.2,985.9C207.4,985.9 200.1,983.8 197.4,983.2C194.8,982.6 191.5,982 190.1,981.4C188.8,980.8 186.2,979.2 187.4,978.6Z" fill="#fc7e58"/>
<path d="M362,945.8C362.3,943.4 364.2,940.8 366,937.8C367.8,934.8 371.6,929 374,925.9C376.4,922.7 379,919.9 382,916.9C385,913.9 389.8,908.7 393.9,905.9C398.1,903 405.1,899.9 409.9,897.9C414.7,896 421.1,894.6 425.9,892.9C430.7,891.3 437.4,889.5 441.9,886.9C446.4,884.4 452,879.2 455.8,875.9C459.7,872.6 464.8,868.1 467.8,865C470.8,861.8 472.5,857.3 475.9,855C479.2,852.7 485.9,851 490.2,849.7C494.5,848.3 500.2,847.1 504.6,846.1C508.9,845 514.9,843.7 518.9,842.5C522.9,841.3 528.2,839.1 531.4,838C534.7,836.9 537.7,835.7 540.4,835.3C543.1,834.9 546.7,834.5 549.4,835.3C552.1,836.1 555.9,838.5 558.3,840.7C560.8,842.8 563.4,846.7 565.5,849.7C567.7,852.6 570.5,857.2 572.7,860.4C574.8,863.6 578.2,867.9 579.9,871.2C581.5,874.4 583.2,879 583.4,881.9C583.7,884.9 582.7,888.2 581.7,890.9C580.6,893.6 577.6,897.2 576.3,899.9C574.9,902.6 573.8,906.1 572.7,908.8C571.6,911.5 570.2,914.8 569.1,917.8C568,920.8 566.6,925.3 565.5,928.6C564.4,931.8 563,936.4 561.9,939.3C560.9,942.3 559.9,945.2 558.3,948.3C556.8,951.4 553.9,956.3 551.7,959.8C549.5,963.3 545.8,968.2 543.7,971.8C541.6,975.4 539.8,980.5 537.7,983.8C535.6,987.1 532.4,990.8 529.7,993.8C527,996.7 523,1001 519.7,1003.7C516.4,1006.4 511.4,1009.6 507.8,1011.7C504.2,1013.8 499.4,1015.9 495.8,1017.7C492.2,1019.5 488,1022.1 483.8,1023.7C479.6,1025.4 472,1027.2 467.8,1028.7C463.6,1030.2 459.1,1032 455.8,1033.7C452.6,1035.3 448.9,1038.2 445.9,1039.7C442.9,1041.2 438.9,1042.2 435.9,1043.7C432.9,1045.2 429.2,1048 425.9,1049.7C422.6,1051.3 416.9,1053.6 413.9,1054.7C410.9,1055.7 408.3,1056.8 405.9,1056.7C403.5,1056.5 400.3,1055 397.9,1053.7C395.5,1052.3 392.3,1049.2 390,1047.7C387.6,1046.2 383.6,1045.2 382,1043.7C380.3,1042.2 379.3,1039.8 379,1037.7C378.7,1035.6 380.4,1031.8 380,1029.7C379.5,1027.6 377.2,1026.1 376,1023.7C374.8,1021.3 372.1,1016.4 372,1013.7C371.8,1011 373.8,1007.8 375,1005.7C376.2,1003.6 379.4,1002.1 380,999.7C380.6,997.3 379,992.8 379,989.8C379,986.8 380.4,982.8 380,979.8C379.5,976.8 377.5,972.8 376,969.8C374.5,966.8 371.8,962.2 370,959.8C368.2,957.4 365.2,955.9 364,953.8C362.8,951.7 361.7,948.2 362,945.8Z" fill="#fdd698"/>
<path d="M366,944.8C366.4,943 368.2,939.9 370,937.8C371.8,935.7 375.3,932.8 378,930.9C380.7,928.9 384.7,926.4 388,924.9C391.2,923.4 396.6,922.1 399.9,920.9C403.2,919.7 407.5,918.8 409.9,916.9C412.3,914.9 413.5,910 415.9,907.9C418.3,905.8 422.6,904.1 425.9,902.9C429.2,901.7 434.6,900.7 437.9,899.9C441.2,899.2 444.6,899.1 447.9,897.9C451.2,896.7 457.4,894.6 459.8,891.9C462.2,889.2 463.3,882.5 463.8,879.9C464.4,877.4 462.3,876.9 463.3,874.8C464.3,872.6 467.8,868.1 470.5,865.8C473.2,863.5 477.7,860.9 481.2,859.5C484.7,858.2 490,857.1 493.8,856.8C497.6,856.6 502.8,857.2 506.3,857.7C509.8,858.3 514.4,859.5 517.1,860.4C519.8,861.4 522.1,862.4 524.3,864C526.4,865.6 529.6,869 531.4,871.2C533.3,873.3 535.9,875.7 536.8,878.3C537.8,881 537.7,885.3 537.7,889.1C537.7,892.9 536.8,899.4 536.8,903.4C536.8,907.5 537.5,912.2 537.7,916C538,919.8 539,925.1 538.6,928.6C538.2,932 536.4,936.7 535,939.3C533.7,941.9 532,944 529.7,945.8C527.4,947.7 523,950 519.7,951.8C516.4,953.6 510.8,955.4 507.8,957.8C504.8,960.2 501.9,964.8 499.8,967.8C497.7,970.8 495.6,975.4 493.8,977.8C492,980.2 488.8,981.7 487.8,983.8C486.7,985.9 488,989.4 486.8,991.8C485.6,994.2 482.7,997.3 479.8,999.7C477,1002.1 471.4,1005.6 467.8,1007.7C464.2,1009.8 459.4,1012.4 455.8,1013.7C452.3,1015.1 447.5,1015.8 443.9,1016.7C440.3,1017.6 434.9,1018.2 431.9,1019.7C428.9,1021.2 426.9,1025.4 423.9,1026.7C420.9,1028 415.2,1027.9 411.9,1028.7C408.6,1029.4 404.6,1031.5 401.9,1031.7C399.2,1031.8 396,1030.9 393.9,1029.7C391.8,1028.5 389.5,1025.8 388,1023.7C386.5,1021.6 383.4,1017.5 384,1015.7C384.6,1013.9 389.9,1013.5 391.9,1011.7C394,1009.9 397.2,1006.7 397.9,1003.7C398.7,1000.7 396.6,995.4 396.9,991.8C397.2,988.2 400.1,983.1 399.9,979.8C399.8,976.5 397.4,972.5 395.9,969.8C394.4,967.1 392.3,963.3 390,961.8C387.6,960.3 382.7,960.7 380,959.8C377.3,958.9 373.9,957.3 372,955.8C370,954.3 367.9,951.5 367,949.8C366.1,948.2 365.5,946.6 366,944.8Z" fill="#fc7e58"/>
<path d="M413.9,927.9C414.8,926.9 419.8,923.9 421.9,923.9C424,923.9 428.3,926.7 429.9,927.9C431.5,929.1 434.1,931.8 433.9,932.9C433.6,933.9 429.8,935.7 427.9,935.8C426,936 421.6,934.5 419.9,933.8C418.2,933.2 415.7,931.7 414.9,930.9C414.1,930.1 413,928.8 413.9,927.9Z" fill="#fdd698"/>
<path d="M370,943.8C370.8,942.4 373.8,939.3 376,937.8C378.1,936.4 383,933.8 386,932.9C388.9,931.9 395.3,930.6 397.9,930.9C400.6,931.1 404.3,933.4 405.9,934.8C407.5,936.3 408.9,940 409.9,941.8C411,943.7 412.3,947.6 413.9,948.8C415.5,950 419.5,951 421.9,950.8C424.3,950.7 429.8,949.3 431.9,947.8C434,946.4 436.8,942.5 437.9,939.8C438.9,937.2 438.8,930.5 439.9,927.9C440.9,925.2 443.7,922 445.9,919.9C448,917.7 453.7,914 455.8,911.9C458,909.8 460.2,906.3 461.8,903.9C463.4,901.5 466.2,896.6 467.8,893.9C469.4,891.3 472,885.9 473.8,883.9C475.7,881.9 479.1,879.7 481.8,878.9C484.5,878.1 493,877.5 493.8,877.9C494.6,878.3 489.1,880.3 487.8,881.9C486.5,883.5 483.8,887.8 483.8,889.9C483.8,892.1 486.2,895.8 487.8,897.9C489.4,900 493.7,903.5 495.8,905.9C497.9,908.3 501.6,913.5 503.8,915.9C505.9,918.3 510.6,922.3 511.8,923.9C513,925.5 513.3,926.8 512.8,927.9C512.2,928.9 509.5,930.9 507.8,931.9C506,932.8 502.2,934.8 499.8,934.8C497.4,934.8 492.5,932.8 489.8,931.9C487.1,930.9 482.2,928.1 479.8,927.9C477.4,927.6 472.6,928.8 471.8,929.9C471,930.9 472.8,934 473.8,935.8C474.9,937.7 478.5,941.7 479.8,943.8C481.1,946 483,949.7 483.8,951.8C484.6,954 486.3,958.2 485.8,959.8C485.3,961.4 481.4,962.5 479.8,963.8C478.2,965.1 475.9,968.6 473.8,969.8C471.7,971 466,972 463.8,972.8C461.7,973.6 459.7,974.9 457.8,975.8C456,976.7 452.3,979.8 449.9,979.8C447.5,979.8 441.7,977.1 439.9,975.8C438,974.5 437.2,970.9 435.9,969.8C434.5,968.7 431.5,967.5 429.9,967.8C428.3,968.1 425.5,971.8 423.9,971.8C422.3,971.8 419.2,969.4 417.9,967.8C416.6,966.2 415.2,961.7 413.9,959.8C412.6,957.9 409.8,954.4 407.9,953.8C406.1,953.3 402.1,955 399.9,955.8C397.8,956.6 394.3,959.4 391.9,959.8C389.6,960.2 384.4,959.6 382,958.8C379.6,958 375.6,955.1 374,953.8C372.4,952.5 370.5,950.2 370,948.8C369.5,947.5 369.2,945.3 370,943.8Z" fill="#f42a3a"/>
<path d="M462.8,953.8C463.2,952.6 467.2,950 468.8,949.8C470.4,949.7 474.3,951.8 474.8,952.8C475.3,953.9 474,957 472.8,957.8C471.6,958.6 467.2,959.3 465.8,958.8C464.5,958.3 462.4,955 462.8,953.8Z" fill="#fc7e58"/>
<path d="M450.9,999.7C451.5,998.7 453.7,995.6 454.8,995.8C456,995.9 459,999.3 459.4,1000.7C459.8,1002.2 458.7,1005.8 457.8,1006.7C457,1007.7 453.9,1008.1 452.9,1007.7C451.8,1007.3 450.5,1004.8 450.3,1003.7C450,1002.7 450.2,1000.8 450.9,999.7Z" fill="#f42a3a"/>
<path d="M391,945.8C391.3,945.2 393.3,943.6 393.9,943.8C394.6,944.1 396,947 395.9,947.8C395.9,948.7 394.2,950.1 393.5,950.2C392.9,950.4 391.7,949.4 391.3,948.8C391,948.2 390.6,946.5 391,945.8Z" fill="#a01028"/>
<clipPath id="hatchC">
<path d="M76.1,724.6L690.9,724.6L690.9,785.3L691,781.2L687.4,781.5L678.5,783.3L669.5,785.1L655.2,780.6L644.4,772.6L639,767.2L630.1,766.3L619.3,766.3L606.8,767.2L592.4,770.8L581.7,770.8L574.5,771.7L565.5,772.6L556.6,774.3L549.4,781.5L544,783.3L536.8,785.1L529.7,792.3L522.5,796.8L513.5,798.6L506.3,812L501,816.5L492,817.4L483,819.2L472.3,821L463.3,821.9L452.6,821.9L441.8,826.3L423.6,829.3L405.4,833L387.1,836.9L375,839.1L355.5,843L337.3,844.5L325.1,847.6L317.5,874.3L310,874.3L294.8,871.9L282.6,871.3L270.5,871.3L264.4,862.8L252.2,853.6L234,854.3L215.8,853.6L200.6,843L182.4,846.1L161.1,851.2L142.9,853.6L135.3,855.2L132.3,873.4L124.7,871.9L115.6,862.8L100.4,858.2L88.2,856.1L76.1,853.6Z"/>
<path d="M136.8,885.5L149,886.4L167.2,891.6L191.5,892.5L206.7,885.5L221.9,882.5L240.1,873.4L258.3,862.8L264.4,860.3L267.4,871.9L264.4,887.1L276.5,902.2L288.7,911.4L306.9,909.8L322.1,909.8L328.2,917.4L314.4,926.6L300.7,933.9L287,941.2L274.2,944.8L265.1,952.1L257.8,954.9L246.8,954L240.4,957.6L230.3,958.5L221.2,954L210.2,950.3L200.2,949.4L184.7,939.3L171.9,932L151.8,921.1L144.4,917.4L141.4,914.4Z"/>
<path d="M95.8,865.8L109.5,868.8L124.7,884L127.7,888.6L115.6,887.1L106.4,885.5L95.8,876.4Z"/>
<path d="M390.4,871.9L369.2,885.5L369.2,914.4L363.1,932.6L361.6,950.8L369.2,969.1L373.7,990.3L373.7,1011.6L363.1,1026.8L355.5,1042L341.8,1051.1L337.3,1063.2L337.3,1078.4L420.6,1078.4L423.6,1073.9L435.7,1060.2L450.9,1052.6L475.2,1038.9L496.5,1026.8L517.8,1017.7L539,1002.5L554.2,987.3L569.4,969.1L584.6,953.9L588.8,946.5L596,933L602.3,925.9L608.6,912.4L616.6,901.7L622.9,886.4L625.6,876.6L602.3,852.3L592.4,855L581.7,858.6L576.6,846.8L584.5,833.9L566.6,816.3L558.3,821.9L549.4,822.8L543.1,827.2L536.8,831.7L529.7,835.3L521.6,837.1L513.5,840.7L507.2,843.4L497.4,844.3L489.3,847L481.2,848.8L472.3,852.3L463.3,853.2L456.1,856.5L442.7,853.2Z"/>
<path d="M549.6,1078.4L551.2,1073.9L569.4,1057.2L587.6,1043.5L611.9,1026.8L636.2,1011.6L660.5,1001L690.9,994L690.9,1078.4Z"/>
<path clip-rule="evenodd" d="M73.2,919.2L84.1,919.2L90.5,913.8L93.3,906.4L102.4,909.2L112.5,914.7L129.8,926.6L148.1,940.3L160.9,947L172.8,954L182.8,958.5L192,962.2L202.9,962.7L213.9,966.8L221.2,970.4L232.2,970.4L243.1,970.4L254.1,970.4L263.2,970.4L272.4,970.4L279.7,965.8L287.9,962.2L295.2,959.4L304.4,969.5L294.3,977.7L283.3,985L277.9,995.1L276,1003.3L274.2,1014.3L276,1025.2L276,1036.2L272.4,1042.6L263.2,1045.3L253.2,1054.5L245,1061.8L232.2,1066.4L221.2,1070.9L209.3,1075L209.3,1080.1L73.2,1080.1ZM85.3,971.9L94.8,970.3L107.4,982.2L106.7,993.2L93.2,991.6L84.5,983ZM76,1021L89.5,1026L90,1052L85,1058L86,1071L91,1078L76,1080Z"/>
</clipPath>
<g clip-path="url(#hatchC)"><path d="M-278.1,725.5 L73.7,1077.3M-267.5,725.5 L84.3,1077.3M-257,725.5 L94.8,1077.3M-246.4,725.5 L105.4,1077.3M-235.8,725.5 L116,1077.3M-225.2,725.5 L126.6,1077.3M-214.6,725.5 L137.2,1077.3M-204.1,725.5 L147.7,1077.3M-193.5,725.5 L158.3,1077.3M-182.9,725.5 L168.9,1077.3M-172.3,725.5 L179.5,1077.3M-161.7,725.5 L190.1,1077.3M-151.2,725.5 L200.6,1077.3M-140.6,725.5 L211.2,1077.3M-130,725.5 L221.8,1077.3M-119.4,725.5 L232.4,1077.3M-108.8,725.5 L243,1077.3M-98.3,725.5 L253.5,1077.3M-87.7,725.5 L264.1,1077.3M-77.1,725.5 L274.7,1077.3M-66.5,725.5 L285.3,1077.3M-55.9,725.5 L295.9,1077.3M-45.4,725.5 L306.4,1077.3M-34.8,725.5 L317,1077.3M-24.2,725.5 L327.6,1077.3M-13.6,725.5 L338.2,1077.3M-3,725.5 L348.8,1077.3M7.5,725.5 L359.3,1077.3M18.1,725.5 L369.9,1077.3M28.7,725.5 L380.5,1077.3M39.3,725.5 L391.1,1077.3M49.9,725.5 L401.7,1077.3M60.4,725.5 L412.2,1077.3M71,725.5 L422.8,1077.3M81.6,725.5 L433.4,1077.3M92.2,725.5 L444,1077.3M102.8,725.5 L454.6,1077.3M113.3,725.5 L465.1,1077.3M123.9,725.5 L475.7,1077.3M134.5,725.5 L486.3,1077.3M145.1,725.5 L496.9,1077.3M155.7,725.5 L507.5,1077.3M166.2,725.5 L518,1077.3M176.8,725.5 L528.6,1077.3M187.4,725.5 L539.2,1077.3M198,725.5 L549.8,1077.3M208.6,725.5 L560.4,1077.3M219.1,725.5 L570.9,1077.3M229.7,725.5 L581.5,1077.3M240.3,725.5 L592.1,1077.3M250.9,725.5 L602.7,1077.3M261.5,725.5 L613.3,1077.3M272,725.5 L623.8,1077.3M282.6,725.5 L634.4,1077.3M293.2,725.5 L645,1077.3M303.8,725.5 L655.6,1077.3M314.4,725.5 L666.2,1077.3M324.9,725.5 L676.7,1077.3M335.5,725.5 L687.3,1077.3M346.1,725.5 L697.9,1077.3M356.7,725.5 L708.5,1077.3M367.3,725.5 L719.1,1077.3M377.8,725.5 L729.6,1077.3M388.4,725.5 L740.2,1077.3M399,725.5 L750.8,1077.3M409.6,725.5 L761.4,1077.3M420.2,725.5 L772,1077.3M430.7,725.5 L782.5,1077.3M441.3,725.5 L793.1,1077.3M451.9,725.5 L803.7,1077.3M462.5,725.5 L814.3,1077.3M473.1,725.5 L824.9,1077.3M483.6,725.5 L835.4,1077.3M494.2,725.5 L846,1077.3M504.8,725.5 L856.6,1077.3M515.4,725.5 L867.2,1077.3M526,725.5 L877.8,1077.3M536.5,725.5 L888.3,1077.3M547.1,725.5 L898.9,1077.3M557.7,725.5 L909.5,1077.3M568.3,725.5 L920.1,1077.3M578.9,725.5 L930.7,1077.3M589.4,725.5 L941.2,1077.3M600,725.5 L951.8,1077.3M610.6,725.5 L962.4,1077.3M621.2,725.5 L973,1077.3M631.8,725.5 L983.6,1077.3M642.3,725.5 L994.1,1077.3M652.9,725.5 L1004.7,1077.3M663.5,725.5 L1015.3,1077.3M674.1,725.5 L1025.9,1077.3M684.7,725.5 L1036.5,1077.3M695.2,725.5 L1047,1077.3" stroke="#a52222" stroke-width="1.4" fill="none"/></g>
<path d="M72.5,1022.9L80.4,1023.3L88.2,1024.7L95,1021.1L98.3,1013.3L100.8,1012.1L101.7,1018.9L103.9,1027.8L103.5,1036.8L105.3,1043.5L107.3,1054.7L110.7,1066L114,1073.8L116.3,1079.4M72.5,1005.4L80.4,1007.2L82.4,1006.8L81.1,1011.2M166.7,1079.4L167.8,1073.8L170.1,1068.2L175.7,1067.3L176.8,1064.8L184.7,1062.6L186.9,1057L193.6,1052.5L198.1,1049.1L204.8,1045.8L213.8,1035.7L222.8,1032.3L227.3,1025.6L228.4,1020L237.4,1015.5L238.5,1018.9L255.3,1015.9L265.4,1008.1L268.8,1012.1L272.1,1021.1L276.6,1029L284.5,1034.6L285.6,1037.9L286.7,1041.3L290.1,1043.5L292.3,1052.5L292.3,1059.2L290.5,1066L294.6,1067.8L301.3,1068.2L305.8,1064.8L313.6,1059.2L317,1060.4L320.3,1066L321.9,1073.8L322.6,1079.4M419.8,1078.4L417.6,1073.9L413.8,1068.6L409.2,1064L403.9,1059.5L399.3,1054.2L396.3,1051.1L395.5,1048.8L392.5,1045.8L390.2,1042.8L388.7,1039.7L390.2,1035.2L391.7,1032.1L395.5,1029.9L398.6,1026.1L403.1,1022.6L408.4,1020L413,1017.7L418.3,1017.4L422.1,1019.5L425.1,1020L424.7,1023L425.9,1026.8L427.4,1029.1L430.5,1028.8L431.7,1026.8L429.7,1023.8L430.5,1021.5L435,1020L440.3,1018.9L444.9,1017L450.2,1015.9L453.2,1014.7L454,1010.1L457.8,1012.4L459.3,1008.9L463.9,1012.4L466.9,1008.9L473,1008.6L479.8,1007.4L485.1,1004.8L491.9,1000.7L497.3,996.5L499.1,994.2L498.5,991.9L502.6,992.2L504.1,988.9L507.9,985.8L510.9,981.3L512.4,976.7L511.7,973.7L514.7,974.5L517.8,971.4L520.8,966.1L523.1,962.3L527,958.5L528.8,952.1L531.6,944.8L527.9,942.9L518.8,942L527,939.3L530.7,936.5L529.8,931L525.2,931L528.8,926.4L523.3,920.9L521.5,915.4L517.9,908.1L516,906.3L507.8,901.7L511.4,896.2L517.9,891.6L521.5,887.1L532.5,884.3L536.2,880.7L525.2,879.7L521.5,878.8L514.2,882.5L506.9,881.6L503.2,877L496.8,873.3L493.1,869.7L495.9,865.1L503.2,864.2L508.7,860.5L516,857.8L521.5,852.3L526.1,849.9L530.7,850.4L533.4,853.2L528.8,860.5L528.8,865.1L525.2,868.8L532.5,864.2L539.8,860.5L549.9,859.6L560.9,862L558.1,869.7L556.3,875.2L561.8,877.9L567.3,877.9L572.8,883.4L569.1,885.2L573.7,894.4L570,900.8L571.9,906.3L576.5,904.5L583.8,901.7L591.1,899.9L594.8,895.3L596.6,889.8L595.7,882.5L592.9,875.2L587.4,867.8L582,864.2L578.3,865.1L578.3,859.6L578.3,859L588.3,855.6L595,852.3L598.3,849.8L597.8,844L601.6,839.8L607.5,838.2L608.3,835.7L611.6,834.8L616.6,829.8L621.3,829.8L622.5,833.2L628.3,834.8L633.3,833.2L639.9,829.8L644.9,828.2L649.1,824L650.8,819.8L658.3,814.8L664.9,809.8L669.9,805.7L673.3,801.5L675.8,796.5L681.6,790.7L687.4,786.2L691.6,783.2M646.6,726.6L646.6,729.1L650.8,731.2L658.3,731.2L659.9,733.2L659.6,737.9L662.4,735.7L667.4,735.2L667.4,739.1L664.9,740.7L671.6,739.1L678.3,735.7L683.3,734.9L687.4,735.2L691.6,735.2M594.9,961L599,958.3M581.6,979.3L582.1,976.1L584.8,974.7L586.2,972.4M686.6,834.8L685.9,837.3L686.9,839.8M664.9,729.1L667.4,730.9L669.6,729.1M416,1038.2L419.8,1035.9L423.6,1032.9L427.4,1031.8L435.8,1031.8L436.5,1034.4L433.5,1038.2L432,1042L428.9,1045L424.4,1047.3L420.6,1047.3L416.8,1045L415.6,1042ZM527.6,986.1L530.7,987.7L531.4,991.9L529.1,996.5L527.6,1001.8L526.1,1005.6L523.1,1010.1L521.5,1014.4L520,1010.9L517,1008.6L515.5,1004.1L515.8,1000.3L518.5,995.7L521.5,990.4L524.6,987.4ZM514.7,1078.4L514,1073.9L512.4,1064.8L517,1065.5L518.5,1057.2L517.3,1052.6L519.3,1047.3L520.8,1044.7L523.8,1044L526.9,1046.3L530.7,1047L534.8,1045L533.7,1049.6L534,1054.9L536.3,1057.5L534.4,1061.7L531.4,1064.8L527.6,1068.6L526.4,1073.9L526.1,1078.4ZM596.7,916.6L604.9,911.6L609.1,910.2L609.1,907L615.9,903.8L625.1,897.4L632.4,896.5L647.1,894.6L648.9,896.5L651.6,896.9L653.5,894.6L653,891.9L656.2,889.1L659.9,885L659.9,881.8L663.5,879.8L662.4,886.5L669,884.1L674.5,881.8L677.3,880L673.3,882.3L678.3,878.1L683.3,873.1L687.4,866.5L691.6,861.5L691.6,898.5L687.4,899L681.6,899.8L678.3,900.6L677.4,904.8L677.3,901L671.8,904.7L664.5,904.7L659.9,901.5L658,904.2L659.9,907.5L655.3,910.2L651.2,915.2L648.4,914.8L646.1,911.1L646.1,906.5L648.9,903.8L640.7,902.4L632.4,904.7L623.3,907L618.7,910.2L614.1,911.1L615.9,912L616.4,916.6L617.8,920.3L615,925.8L613.2,932.2L607.7,935.4L602.7,934L602.9,926.7L605.4,924.8L605.4,920.3L603.1,918.4L602.7,920.3L598.5,920.7ZM621,915.7L625.1,911.6L628.8,910.7L632.4,907.9L637,907.5L640.7,908.4L641.6,911.1L638.8,914.3L636.5,916.6L633.3,915.2L629.7,916.1L626.5,920.7L622.3,919.4ZM108.9,808.7L112.1,803.9L120.7,799.2L130.2,798.7L138.1,799.7L146.1,800L152.4,799.7L160.3,798.9L156.3,802.3L149.2,803.5L144.5,801.6L138.9,802.3L131.8,800.8L123.9,801.6L117.6,804.7L115.2,807.9L116,815.8L112.1,812.6ZM370.9,757.3L379.2,755.5L385.8,754.6L392.4,749.4L396.9,747.2L404,742.5L411.2,737L415.1,732L417.6,728.7L418.9,723.2L424.5,723.2L423.9,728.7L422.8,735.3L418.9,740.8L413.4,745L408.4,748L402.4,749.1L395.7,751.6L393.5,753.5L391.9,756.8L385.8,758.2L379.7,759.5L375.9,758.5Z" fill="none" stroke="#000" stroke-width="1.0" stroke-linejoin="round"/>
</g></g>
<g id="panelD">
<clipPath id="clipD"><rect x="811.5" y="727.6" width="608.3" height="347.6"/></clipPath>
<g clip-path="url(#clipD)">
<rect x="811.5" y="727.6" width="608.3" height="347.6" fill="#e6fdfd"/>
<path d="M808.5,724.6C850.1,665.7 1016.5,723.8 1058.2,724.6C1099.9,725.3 1056.3,727.9 1058.8,729.1C1061.3,730.3 1067.9,730.6 1073.4,731.5C1078.8,732.5 1085,733.6 1091.6,734.6C1098.2,735.5 1107.6,735.7 1112.9,737.3C1118.1,738.9 1118.5,742.1 1123.2,744.3C1128,746.5 1134.4,748.3 1141.4,750.4C1148.5,752.4 1156.6,754.7 1165.7,756.4C1174.9,758.2 1186,759.5 1196.1,761C1206.2,762.5 1217.4,763.5 1226.5,765.6C1235.6,767.6 1243.7,770.1 1250.8,773.2C1257.9,776.2 1262.9,780.5 1269,783.8C1275.1,787.1 1281.7,789.8 1287.2,792.9C1292.8,796 1297.9,799 1302.4,802.6C1307,806.3 1311.3,810.3 1314.6,814.8C1317.9,819.2 1320.4,824.4 1322.2,829.3C1323.9,834.3 1323.7,840.5 1325.2,844.5C1326.7,848.6 1328.2,851.4 1331.3,853.6C1334.3,855.9 1339.4,856.8 1343.4,858.2C1347.5,859.6 1352.3,860.4 1355.6,862.1C1358.9,863.9 1361.7,866.7 1363.2,868.8C1364.7,871 1365.1,872.4 1364.7,874.9C1364.3,877.4 1362.9,880.5 1360.7,884C1358.6,887.6 1354.7,892.1 1351.6,896.2C1348.6,900.2 1345.1,904.3 1342.5,908.3C1340,912.4 1337.3,916.4 1336.4,920.5C1335.6,924.5 1336.4,929.1 1337.7,932.6C1338.9,936.2 1342.5,938.9 1343.7,941.7C1345,944.5 1345.8,946.3 1345,949.3C1344.1,952.4 1342.4,956.2 1338.9,960C1335.3,963.8 1329.3,968.3 1323.7,972.1C1318.1,975.9 1311,980.4 1305.5,982.7C1299.9,985.1 1295.8,985.8 1290.3,986.1C1284.7,986.3 1278.6,985 1272.1,984.3C1265.5,983.5 1255.9,981.8 1250.8,981.8C1245.7,981.8 1245.2,982.6 1241.7,984.3C1238.1,985.9 1234.6,988.8 1229.5,991.8C1224.5,994.9 1217.9,999.7 1211.3,1002.5C1204.7,1005.3 1197.6,1006.8 1190,1008.6C1182.5,1010.3 1173.8,1011.3 1165.7,1013.1C1157.6,1014.9 1149.5,1017.6 1141.4,1019.2C1133.3,1020.8 1122.5,1022.6 1117.1,1022.5C1111.8,1022.5 1112.9,1020.9 1109.3,1018.8C1105.8,1016.7 1099.2,1012.4 1095.9,1009.8C1092.5,1007.2 1090.3,1005.7 1089.1,1003.1C1088,1000.5 1089.1,998.2 1089.1,994.1C1089.1,990 1089.7,983.3 1089.1,978.4C1088.6,973.6 1086.9,969.1 1085.8,965C1084.7,960.9 1084.1,956.7 1082.4,953.8C1080.7,950.9 1078.7,948.7 1075.7,947.5C1072.7,946.3 1069.3,946.6 1064.5,946.6C1059.6,946.6 1052.5,947.1 1046.6,947.5C1040.6,948 1034.2,947.9 1028.6,949.3C1023,950.7 1017.4,953.4 1012.9,956C1008.5,958.6 1004.5,962.4 1001.7,965C998.9,967.6 997.1,968.7 996.1,971.7C995.2,974.7 997.1,979.2 996.1,982.9C995.2,986.7 993.3,990 990.5,994.1C987.7,998.2 984.2,1001.6 979.3,1007.6C974.5,1013.6 967.4,1023.7 961.4,1030C955.4,1036.4 949.4,1040.5 943.4,1045.7C937.5,1050.9 931.1,1056.7 925.5,1061.4C919.9,1066.1 912.8,1070.7 909.8,1073.7C906.8,1076.7 924.5,1078.6 907.6,1079.3C890.7,1080.1 825,1137.3 808.5,1078.2C792,1019.1 766.9,783.5 808.5,724.6Z" fill="#fffee8"/>
<path d="M808.5,724.6C830.8,665.7 919.8,723.8 942.1,724.6C964.5,725.3 941.4,726.1 942.8,729.1C944.1,732.1 947.8,739.2 950.4,742.8C952.9,746.3 954.7,748.7 957.9,750.4C961.2,752 963.5,752.5 970.1,752.8C976.7,753.1 987.8,752.3 997.4,752.2C1007,752 1017.7,751.4 1027.8,751.9C1037.9,752.3 1048.1,753.2 1058.2,754.9C1068.3,756.7 1078.9,760 1088.6,762.5C1098.2,765.1 1108.1,767.8 1115.9,770.1C1123.7,772.4 1127.1,775 1135.4,776.2C1143.7,777.4 1155.6,776.8 1165.7,777.1C1175.9,777.4 1184,776.3 1196.1,777.7C1208.3,779.1 1229.1,783 1238.6,785.3C1248.1,787.6 1248.6,788.6 1253.2,791.3C1257.8,794.1 1261.8,798.1 1266,802C1270.3,805.9 1275.8,811.1 1278.8,814.8C1281.9,818.4 1283.7,820.9 1284.3,823.9C1285,827 1284,830 1282.9,833.1C1281.7,836.1 1279.3,839.3 1277.4,842.2C1275.5,845.1 1273.5,847.9 1271.5,850.5C1269.6,853.1 1267.1,855.4 1265.7,857.8C1264.2,860.1 1262.1,862.5 1262.7,864.6C1263.4,866.6 1267,868.7 1269.7,870.1C1272.4,871.4 1276.1,870.7 1278.8,872.4C1281.6,874.2 1284.4,877.5 1286.2,880.7C1287.9,883.9 1289.1,887.1 1289.5,891.6C1289.8,896.2 1288.8,903.2 1288.4,908.1C1288,913 1288,917.4 1287.1,920.9C1286.1,924.4 1284.5,927.1 1282.5,929.2C1280.5,931.2 1277.9,932.3 1275.2,933.4C1272.4,934.4 1268.5,934.4 1266,935.6C1263.6,936.7 1263.3,938.5 1260.5,940.2C1257.8,941.8 1253.8,943.4 1249.6,945.6C1245.3,947.9 1240.4,950.7 1234.9,953.9C1229.4,957.1 1222.7,961.7 1216.6,964.9C1210.5,968 1204.4,970.3 1198.3,972.5C1192.2,974.8 1186.4,977.3 1180,978.6C1173.6,979.8 1167.1,980 1159.7,980C1152.2,980 1141.2,979.6 1135.4,978.8C1129.6,978 1128.6,976.3 1125,975.1C1121.4,973.9 1117.5,973 1113.8,971.7C1110.1,970.4 1104.8,969.1 1102.6,967.2C1100.3,965.4 1101.1,963.5 1100.3,960.5C1099.6,957.5 1099.6,953 1098.1,949.3C1096.6,945.6 1093.8,941.2 1091.4,938.1C1089,935 1087.3,932 1083.5,930.7C1079.8,929.4 1075.1,930.1 1069,930.3C1062.8,930.4 1054,930.8 1046.6,931.4C1039.1,931.9 1030.9,932.5 1024.1,933.6C1017.4,934.7 1011.8,936.2 1006.2,938.1C1000.6,940 995.7,942.6 990.5,944.8C985.3,947.1 981.2,950.2 974.8,951.6C968.5,952.9 959.1,952.3 952.4,952.7C945.7,953 937.7,953.2 934.5,953.8C931.3,954.4 932.6,954.7 933.4,956C934.1,957.3 936.5,959.4 939,961.6C941.4,963.9 944.9,966.5 947.9,969.5C950.9,972.5 955,976.6 956.9,979.6C958.8,982.6 959.9,983.9 959.1,987.4C958.4,991 955.8,996.4 952.4,1000.9C949.1,1005.3 944.2,1010.2 939,1014.3C933.7,1018.4 927.4,1021.8 921,1025.5C914.7,1029.3 907.2,1033 900.9,1036.7C894.5,1040.5 888.5,1044.2 882.9,1047.9C877.3,1051.7 871.5,1054.8 867.2,1059.1C862.9,1063.4 859.2,1070.3 857.2,1073.7C855.1,1077.1 863,1078.6 854.9,1079.3C846.8,1080.1 816.2,1137.3 808.5,1078.2C800.8,1019.1 786.2,783.5 808.5,724.6Z" fill="#fef0c0"/>
<path d="M807.6,756.4C808.2,702.9 805.8,756 812.1,757.1C818.5,758.1 833.4,760.9 845.6,762.5C857.7,764.2 872.4,765.3 885,767.1C897.7,768.9 909.3,771.4 921.5,773.2C933.6,774.9 947.3,776.2 957.9,777.7C968.6,779.2 978.2,782.5 985.3,782.3C992.4,782 994.9,778 1000.5,776.2C1006,774.4 1012.6,772.1 1018.7,771.6C1024.8,771.1 1030.8,771.4 1036.9,773.2C1043,774.9 1049.1,779 1055.1,782.3C1061.2,785.6 1067.3,790.6 1073.4,792.9C1079.4,795.2 1086,795.2 1091.6,795.9C1097.2,796.7 1101.2,797.5 1106.8,797.5C1112.4,797.5 1120.3,796.7 1125,795.9C1129.8,795.2 1128.6,793.5 1135.4,792.9C1142.2,792.3 1156.6,792 1165.7,792.3C1174.9,792.5 1183,793.2 1190,794.4C1197.1,795.6 1202.7,797.3 1208.3,799.6C1213.8,801.9 1219.2,804.9 1223.5,808.1C1227.8,811.3 1231.5,814.7 1234.1,818.7C1236.7,822.8 1238.9,828.1 1239.3,832.4C1239.6,836.7 1237.6,840.5 1236.2,844.5C1234.8,848.6 1232.2,852.1 1231.1,856.7C1229.9,861.2 1229.7,866.3 1229.5,871.9C1229.4,877.4 1230.4,884.5 1230.1,890.1C1229.9,895.7 1228.9,900.2 1228,905.3C1227.2,910.3 1226.7,915.9 1225,920.5C1223.2,925 1220.7,929.1 1217.4,932.6C1214.1,936.2 1210.3,939.2 1205.2,941.7C1200.2,944.3 1193.6,946.5 1187,947.8C1180.4,949.1 1172.8,949.3 1165.7,949.3C1158.7,949.3 1151.3,948.2 1144.5,947.8C1137.7,947.4 1129.7,947.4 1125,947.1C1120.3,946.8 1118.7,947.1 1116,945.9C1113.4,944.8 1111.2,942.8 1109.3,940.3C1107.4,937.9 1106.3,934.4 1104.8,931.4C1103.3,928.4 1102.6,924.8 1100.3,922.4C1098.1,920 1095.5,917.6 1091.4,916.8C1087.3,916 1081.3,917.1 1075.7,917.5C1070.1,917.9 1064.5,918.6 1057.8,919.1C1051,919.5 1042.8,920.2 1035.3,920.2C1027.9,920.2 1020.4,919.6 1012.9,919.1C1005.5,918.5 996.9,917 990.5,916.8C984.2,916.6 979.7,916.6 974.8,917.9C970,919.2 965.1,922.8 961.4,924.7C957.6,926.5 958.4,927.6 952.4,929.1C946.4,930.6 934.1,932.3 925.5,933.6C916.9,934.9 908,936 900.9,937C893.8,937.9 885.4,937.7 882.9,939.2C880.5,940.7 884.4,943.5 886.3,945.9C888.2,948.4 891,951 894.1,953.8C897.3,956.6 902.2,959.8 905.3,962.8C908.5,965.7 911.7,968.7 913.2,971.7C914.7,974.7 915.2,977.3 914.3,980.7C913.4,984.1 910.9,988.2 907.6,991.9C904.2,995.6 899.7,999.2 894.1,1003.1C888.5,1007 880.3,1011.7 874,1015.4C867.6,1019.2 860.9,1022.3 856,1025.5C851.2,1028.7 847.6,1030.7 844.8,1034.5C842,1038.2 840.7,1043.4 839.2,1047.9C837.7,1052.4 837.2,1057.1 835.9,1061.4C834.6,1065.7 832.3,1070.7 831.4,1073.7C830.4,1076.7 834.1,1078.6 830.3,1079.3C826.4,1080.1 812.3,1132 808.5,1078.2C804.7,1024.4 807,810 807.6,756.4Z" fill="#fdd99a"/>
<path d="M847.5,864.8C847.3,861.7 848.6,858.5 850.3,855.3C852,852.2 854.1,849 857.4,845.9C860.7,842.7 865.6,839.3 870.1,836.4C874.5,833.5 879,831 884.3,828.5C889.6,826 895.6,823.2 901.7,821.4C907.7,819.5 914.8,818.9 920.6,817.4C926.4,816 931.2,814 936.4,812.7C941.7,811.3 945.7,810 952.2,809.2C958.8,808.4 968.1,808.2 976,807.9C983.9,807.7 992.5,807.6 999.7,807.6C1006.8,807.6 1012.3,807.2 1019,807.9C1025.6,808.6 1032.7,810.6 1039.5,811.9C1046.4,813.2 1054.8,815 1060.1,815.8C1065.3,816.6 1066.9,817 1071.1,816.6C1075.3,816.2 1080.3,815 1085.3,813.5C1090.4,811.9 1096.4,808.7 1101.2,807.1C1105.9,805.6 1108.3,804.5 1113.8,804C1119.3,803.5 1128.3,804.4 1134.3,804C1140.4,803.6 1144.9,802.3 1150.2,801.6C1155.4,801 1162,800 1166,800C1169.9,800 1170.4,800.3 1173.9,801.6C1177.3,802.9 1182.3,805.3 1186.5,807.9C1190.7,810.6 1196,814.5 1199.1,817.4C1202.3,820.3 1204.2,822.7 1205.5,825.3C1206.8,828 1207.6,830.6 1207,833.2C1206.5,835.9 1204.7,838.5 1202.3,841.1C1199.9,843.8 1195.7,846.3 1192.8,849C1189.9,851.8 1186.6,854.6 1184.9,857.7C1183.2,860.9 1183.1,864.2 1182.6,868C1182,871.8 1182.4,876.7 1181.8,880.6C1181.1,884.6 1180.4,888.3 1178.6,891.7C1176.8,895.1 1174.1,899.1 1170.7,901.2C1167.3,903.3 1162.3,903.8 1158.1,904.3C1153.8,904.9 1149.4,904.4 1145.4,904.7C1141.5,904.9 1137.5,905.5 1134.3,905.9C1131.2,906.4 1129.3,907.5 1126.4,907.5C1123.5,907.5 1120.6,907 1117,905.9C1113.3,904.9 1108.3,902.6 1104.3,901.2C1100.4,899.7 1096.7,898 1093.3,897.2C1089.8,896.4 1087.7,895.8 1083.8,896.4C1079.8,897.1 1074.8,899.7 1069.5,901.2C1064.3,902.6 1058.5,904.2 1052.2,905.1C1045.8,906.1 1037.7,906.8 1031.6,906.7C1025.6,906.6 1018.5,905.3 1015.8,904.3C1013.1,903.4 1018.2,902.8 1015.5,901.2C1012.8,899.6 1005.5,896.8 999.7,894.9C993.9,892.9 987,889.9 980.7,889.3C974.4,888.8 967.8,890.5 961.7,891.7C955.7,892.9 950.1,895 944.3,896.4C938.5,897.9 933,899.7 927,900.4C920.9,901.1 914.3,900.9 908,900.4C901.7,899.9 894.8,898.7 889,897.2C883.2,895.8 878,893.9 873.2,891.7C868.5,889.5 864.3,886.7 860.6,883.8C856.9,880.9 853.3,877.5 851.1,874.3C848.9,871.2 847.6,868 847.5,864.8Z" fill="#fdae78"/>
<path d="M810,785.8C810.5,776.7 810.5,785.8 813.2,786.6C815.8,787.4 821.9,789 825.8,790.5C829.8,792 833.6,793.8 836.9,795.6C840.2,797.4 844,799 845.6,801.6C847.1,804.2 847,808.5 846.4,811.1C845.7,813.7 843.7,815.6 841.6,817.4C839.5,819.3 836.6,820.1 833.7,822.2C830.8,824.3 826.9,827.7 824.2,830.1C821.6,832.4 819.7,834.7 817.9,836.4C816.1,838.1 814.5,839.5 813.2,840.3C811.8,841.1 810.5,850.2 810,841.1C809.5,832 809.5,794.9 810,785.8Z" fill="#fdae78"/>
<path d="M810,803.2C810.5,800.7 811.7,803.2 813.2,804C814.6,804.8 818,806.2 818.7,807.9C819.4,809.6 818,812.5 817.1,814.3C816.2,816 814.3,817.4 813.2,818.2C812,819 810.5,821.5 810,819C809.5,816.5 809.5,805.7 810,803.2Z" fill="#fc7b57"/>
<path d="M806.7,935.9C807.7,923.5 809.7,936.2 812.3,938.1C814.9,940 818.9,944.1 822.4,947.1C826,950.1 830.3,953 833.6,956C837,959 840.3,961.6 842.6,965C844.8,968.4 846.5,972.8 847.1,976.2C847.6,979.6 846.9,982.2 845.9,985.2C845,988.2 843.5,991.3 841.5,994.1C839.4,996.9 836.8,999.6 833.6,1002C830.4,1004.4 825.8,1007.2 822.4,1008.7C819.1,1010.2 816.1,1010.4 813.4,1010.9C810.8,1011.5 807.8,1024.6 806.7,1012.1C805.6,999.6 805.8,948.2 806.7,935.9Z" fill="#fdae78"/>
<path d="M806.7,981.8C807.7,978.4 809.9,981.8 812.3,982.9C814.8,984.1 819.7,986.3 821.3,988.5C822.9,990.8 823.3,994.1 822,996.4C820.7,998.6 816,1000.9 813.4,1002C810.9,1003.1 807.8,1006.5 806.7,1003.1C805.6,999.7 805.8,985.2 806.7,981.8Z" fill="#fc7b57"/>
<path d="M859,864.8C858.9,862.6 860.5,859.9 862.2,857.7C863.8,855.6 867.2,852.9 870.1,850.6C872.9,848.4 877.3,845 881.1,842.7C884.9,840.5 890.8,837.3 895.3,835.6C899.9,833.9 905.9,832.2 911.2,831.3C916.4,830.5 925.1,829.9 930.1,830.1C935.1,830.2 940.3,831.4 944.3,832.4C948.4,833.5 953.9,836.1 957,837.2C960.1,838.2 962.3,839.4 964.9,839.5C967.5,839.7 971.5,839 974.4,838C977.2,836.9 980.5,834.3 983.9,832.4C987.2,830.5 992.7,826.6 996.5,825.3C1000.3,824.1 1006.3,824.2 1009.1,824.1C1012,823.9 1011.3,824.2 1015.8,824.5C1020.4,824.8 1031.9,825.6 1039.5,826.1C1047.1,826.6 1060,827.3 1066.4,827.7C1072.8,828 1077.9,827.9 1082.2,828.5C1086.5,829.1 1090.6,830.6 1094.8,831.6C1099.1,832.7 1106.4,834.6 1110.6,835.6C1114.9,836.5 1120.7,838 1123.3,838C1125.9,838 1127.1,836.5 1128,835.6C1129,834.6 1129.7,833.4 1129.6,831.6C1129.6,829.9 1128.1,826 1127.7,823.7C1127.4,821.5 1125.8,818.2 1127.2,816.6C1128.7,815.1 1134.1,814.5 1137.5,813.5C1140.9,812.4 1146.8,810.5 1150.2,809.5C1153.5,808.6 1156.8,807.3 1159.6,807.1C1162.5,807 1166.3,807.4 1169.1,808.7C1172,810 1176.5,813.5 1178.6,815.8C1180.7,818.2 1182.8,822 1183,824.5C1183.3,827 1182,830.5 1180.2,832.4C1178.3,834.3 1174,836 1170.7,837.2C1167.4,838.4 1161.6,839.7 1158.1,840.3C1154.5,841 1149.2,840.1 1147,841.4C1144.7,842.7 1143.4,846.7 1143,849C1142.7,851.3 1144.4,854.6 1144.6,856.9C1144.9,859.3 1145.4,862.7 1144.6,864.8C1143.8,867 1141.8,869.5 1139.1,871.2C1136.4,872.8 1130,874.5 1126.4,875.9C1122.9,877.3 1118.7,879.9 1115.4,880.6C1112.1,881.3 1107.9,881.3 1104.3,880.6C1100.8,879.9 1095.5,877.4 1091.7,875.9C1087.9,874.4 1082.8,871.9 1079,870.4C1075.2,868.8 1069.9,866.5 1066.4,865.6C1062.8,864.7 1058,864.6 1055.3,864.5C1052.6,864.4 1048.9,864.2 1048.2,865.1C1047.5,866.1 1048.7,868.6 1050.6,871.2C1052.5,873.7 1059.4,879.5 1060.9,882.2C1062.3,884.9 1061.4,887.4 1060.1,889.3C1058.8,891.2 1055,893.5 1052.2,894.9C1049.3,896.2 1044.6,897.6 1041.1,898.3C1037.5,899.1 1032.2,900.1 1028.4,899.6C1024.7,899.1 1018.9,896.3 1015.8,894.9C1012.7,893.4 1009.6,891.3 1007.9,890.1C1006.2,888.9 1006.8,888.4 1004.4,887C1002,885.5 996,881.7 991.8,880.6C987.5,879.6 981.2,879.5 976,879.8C970.7,880.2 962.4,881.8 957,883C951.5,884.2 945.1,886.6 939.6,887.7C934.2,888.9 926.3,890.1 920.6,890.4C914.9,890.7 906.9,890.4 901.7,889.8C896.5,889.2 890.1,887.5 885.9,886.2C881.6,884.8 876.7,882.7 873.2,880.6C869.8,878.6 865.1,875.1 862.9,872.7C860.8,870.4 859.1,867.1 859,864.8Z" fill="#fc7b57"/>
<path d="M866.9,864.8C866.9,862.8 869.5,860.5 871.6,858.5C873.8,856.5 877.6,853.8 881.1,851.4C884.7,849 890.8,845 895.3,842.7C899.9,840.5 905.9,837.7 911.2,836.4C916.4,835.1 924.9,834.1 930.1,834C935.3,834 941.9,835 945.9,836.1C950,837.1 954.3,839.4 957,841.1C959.7,842.8 961.7,846.6 964.1,847.4C966.5,848.3 969.8,847.6 972.8,846.7C975.8,845.7 980.3,842.9 983.9,841.1C987.4,839.3 992.7,835.9 996.5,834.8C1000.3,833.7 1006.7,833.5 1009.1,833.5C1011.6,833.5 1010,834.3 1012.6,834.8C1015.3,835.3 1022.8,836.9 1026.9,837.2C1030.9,837.4 1035.7,836.9 1039.5,836.4C1043.3,835.9 1048.6,834.6 1052.2,834C1055.7,833.4 1060.1,832.8 1063.2,832.4C1066.3,832.1 1069.6,831.3 1072.7,831.6C1075.8,832 1080.4,833.4 1083.8,834.8C1087.1,836.2 1092.2,839.1 1094.8,841.1C1097.4,843.2 1101.2,846.3 1101.2,848.6C1101.2,850.8 1097.2,854.4 1094.8,856.1C1092.5,857.9 1088.2,859.6 1085.3,860.1C1082.5,860.6 1079.2,859.8 1075.9,859.3C1072.5,858.8 1067.3,857.5 1063.2,856.9C1059.2,856.3 1052.8,855.1 1049,855.3C1045.2,855.6 1041,857 1037.9,858.5C1034.9,860.1 1029.5,863.4 1028.4,865.6C1027.4,867.9 1029.2,872 1030.8,873.5C1032.5,875.1 1036.8,874.6 1039.5,875.9C1042.2,877.2 1047.9,880.2 1049,882.2C1050.1,884.2 1048,887.7 1046.6,889.3C1045.2,891 1042.2,892.6 1039.5,893.3C1036.8,894 1031.8,894.4 1028.4,894.1C1025.1,893.7 1020,892.6 1017.4,890.9C1014.8,889.3 1012.7,885.1 1011.1,883C1009.4,880.9 1008.5,877.9 1006.3,876.7C1004.1,875.5 1000.3,875.5 996.5,875.1C992.7,874.7 985.9,874.2 980.7,874.3C975.5,874.4 966.9,875.1 961.7,875.9C956.5,876.7 950.7,878.8 945.9,879.8C941.2,880.9 935.3,882.4 930.1,883C924.9,883.6 916.4,884.2 911.2,884.1C905.9,884 899.9,883.1 895.3,882.2C890.8,881.3 884.7,879.8 881.1,878.3C877.6,876.7 873.8,874 871.6,871.9C869.5,869.9 866.9,866.8 866.9,864.8Z" fill="#f94040"/>
<path d="M1142.2,824.5C1142.8,823.6 1148.5,818.6 1150.2,817.4C1151.8,816.3 1157.1,813.1 1158.8,813C1160.6,812.8 1166.3,814.9 1167.5,815.8C1168.8,816.8 1171.3,821.1 1171.5,822.2C1171.7,823.2 1171.1,825.2 1169.9,826.1C1168.7,827.1 1161.6,831.2 1159.6,831.6C1157.7,832.1 1151.7,831.3 1150.2,830.9C1148.6,830.4 1145.4,827.5 1144.6,826.9C1143.8,826.3 1141.7,825.5 1142.2,824.5Z" fill="#f94040"/>
<path d="M875.6,864.8C875.4,862.8 878.4,860.9 881.1,858.5C883.9,856.1 889.3,851.8 893.8,849C898.3,846.3 905.7,842.1 911.2,840.3C916.6,838.6 924.7,837.2 930.1,837.2C935.6,837.2 943.2,838.8 947.5,840.3C951.8,841.9 956.2,845.4 958.6,847.4C960.9,849.5 960.7,853.5 963.3,853.8C965.9,854 972.2,850.6 976,849C979.7,847.5 984.3,844.6 988.6,843.5C992.9,842.4 1000.1,841.4 1004.4,841.4C1008.7,841.4 1013.6,842.4 1017,843.5C1020.5,844.6 1025.7,847.2 1027.3,849C1029,850.8 1028.9,853.5 1028.1,855.3C1027.3,857.2 1024.9,859.7 1021.8,861.7C1018.7,863.7 1012.1,867.5 1007.6,868.8C1003.1,870.1 996.5,870.4 991.8,870.4C987,870.4 980.5,869 976,868.8C971.5,868.5 966.2,868.2 961.7,868.8C957.2,869.4 950.7,871.5 945.9,872.7C941.2,873.9 935.3,875.9 930.1,876.7C924.9,877.5 916.4,878.3 911.2,878.3C905.9,878.3 899.6,877.6 895.3,876.7C891.1,875.7 885.7,873.7 882.7,871.9C879.7,870.2 875.8,866.8 875.6,864.8Z" fill="#f52838"/>
<path d="M1054.5,843.5C1054.8,842.2 1057.8,840.5 1060.1,839.5C1062.3,838.6 1068.2,836.5 1071.1,836.4C1074.1,836.3 1080.2,837.8 1082.2,838.8C1084.2,839.7 1085.7,842.1 1086.1,843.5C1086.6,844.9 1086.7,847.9 1085.3,849C1084,850.2 1078.4,851.8 1075.9,852.2C1073.3,852.6 1068.8,852.3 1066.4,851.9C1064,851.4 1059.3,850.1 1057.7,849C1056.1,847.9 1054.2,844.8 1054.5,843.5Z" fill="#f52838"/>
<path d="M1026.1,881.4C1026.5,881.1 1035.4,881.8 1035.6,882.2C1035.8,882.6 1029.9,887 1029.2,887C1028.6,886.9 1025.7,881.7 1026.1,881.4Z" fill="#f52838"/>
<path d="M804.5,1022.8L812.3,1023.3L820.2,1024.6L826.9,1021L830.3,1013.2L832.7,1012.1L833.6,1018.8L835.9,1027.8L835.4,1036.7L837.2,1043.4L839.2,1054.7L842.6,1065.9L845.9,1073.7L848.2,1079.3M804.5,1005.3L812.3,1007.1L814.3,1006.7L813,1011.2M898.6,1079.3L899.7,1073.7L902,1068.1L907.6,1067.2L908.7,1064.7L916.6,1062.5L918.8,1056.9L925.5,1052.4L930,1049.1L936.7,1045.7L945.7,1035.6L954.7,1032.2L959.1,1025.5L960.3,1019.9L969.2,1015.4L970.3,1018.8L987.2,1015.9L997.2,1008L1000.6,1012.1L1004,1021L1008.5,1028.9L1016.3,1034.5L1017.4,1037.8L1018.5,1041.2L1021.9,1043.4L1024.1,1052.4L1024.1,1059.1L1022.3,1065.9L1026.4,1067.7L1033.1,1068.1L1037.6,1064.7L1045.4,1059.1L1048.8,1060.3L1052.2,1065.9L1053.7,1073.7L1054.4,1079.3M1151.6,1078.3L1149.3,1073.8L1145.5,1068.5L1141,1063.9L1135.7,1059.4L1131.1,1054.1L1128.1,1051L1127.3,1048.8L1124.3,1045.7L1122,1042.7L1120.5,1039.7L1122,1035.1L1123.5,1032.1L1127.3,1029.8L1130.3,1026L1134.9,1022.5L1140.2,1019.9L1144.8,1017.7L1150.1,1017.4L1153.9,1019.5L1156.9,1019.9L1156.4,1023L1157.7,1026.8L1159.2,1029L1162.2,1028.7L1163.4,1026.8L1161.4,1023.7L1162.2,1021.4L1166.8,1019.9L1172.1,1018.9L1176.6,1016.9L1181.9,1015.8L1185,1014.6L1185.7,1010.1L1189.5,1012.3L1191,1008.9L1195.6,1012.3L1198.6,1008.9L1204.7,1008.6L1211.5,1007.3L1216.8,1004.8L1223.7,1000.7L1229,996.4L1230.8,994.1L1230.2,991.9L1234.3,992.2L1235.8,988.8L1239.6,985.8L1242.6,981.2L1244.1,976.7L1243.4,973.7L1246.4,974.4L1249.4,971.4L1252.5,966.1L1254.8,962.3L1258.7,958.5L1260.5,952L1263.3,944.7L1259.6,942.9L1250.5,942L1258.7,939.2L1262.4,936.5L1261.4,931L1256.9,931L1260.5,926.4L1255,920.9L1253.2,915.4L1249.6,908.1L1247.7,906.3L1239.5,901.7L1243.1,896.2L1249.6,891.6L1253.2,887.1L1264.2,884.3L1267.9,880.7L1256.9,879.8L1253.2,878.8L1245.9,882.5L1238.6,881.6L1234.9,877L1228.5,873.3L1224.8,869.7L1227.6,865.1L1234.9,864.2L1240.4,860.5L1247.7,857.8L1253.2,852.3L1257.8,849.9L1262.4,850.5L1265.1,853.2L1260.5,860.5L1260.5,865.1L1256.9,868.8L1264.2,864.2L1271.5,860.5L1281.6,859.6L1292.6,862L1289.8,869.7L1288,875.2L1293.5,877.9L1299,877.9L1304.5,883.4L1300.8,885.2L1305.4,894.4L1301.7,900.8L1303.5,906.3L1308.1,904.5L1315.4,901.7L1322.8,899.9L1326.4,895.3L1328.3,889.8L1327.3,882.5L1324.6,875.2L1319.1,867.9L1313.6,864.2L1310,865.1L1310,859.6L1310,859L1320,855.7L1326.6,852.3L1330,849.8L1329.5,844L1333.3,839.9L1339.1,838.2L1339.9,835.7L1343.3,834.9L1348.3,829.9L1352.9,829.9L1354.1,833.2L1359.9,834.9L1364.9,833.2L1371.6,829.9L1376.6,828.2L1380.7,824L1382.4,819.9L1389.9,814.9L1396.5,809.9L1401.5,805.7L1404.9,801.6L1407.4,796.6L1413.2,790.8L1419,786.3L1423.2,783.3M1378.2,726.7L1378.2,729.2L1382.4,731.3L1389.9,731.3L1391.5,733.3L1391.2,738L1394,735.8L1399,735.3L1399,739.1L1396.5,740.8L1403.2,739.1L1409.9,735.8L1414.9,735L1419,735.3L1423.2,735.3M1326.5,961L1330.6,958.2M1313.3,979.3L1313.7,976.1L1316.5,974.7L1317.8,972.4M1418.2,834.9L1417.5,837.4L1418.5,839.9M1396.5,729.2L1399,731L1401.2,729.2M1147.8,1038.1L1151.6,1035.9L1155.4,1032.8L1159.2,1031.8L1167.5,1031.8L1168.3,1034.3L1165.2,1038.1L1163.7,1041.9L1160.7,1045L1156.1,1047.2L1152.3,1047.2L1148.6,1045L1147.3,1041.9ZM1259.3,986.1L1262.3,987.6L1263.1,991.9L1260.8,996.4L1259.3,1001.7L1257.8,1005.5L1254.8,1010.1L1253.2,1014.3L1251.7,1010.8L1248.7,1008.6L1247.2,1004L1247.5,1000.2L1250.2,995.7L1253.2,990.3L1256.3,987.3ZM1246.4,1078.3L1245.7,1073.8L1244.1,1064.7L1248.7,1065.4L1250.2,1057.1L1249,1052.6L1251,1047.2L1252.5,1044.7L1255.5,1043.9L1258.6,1046.2L1262.3,1046.9L1266.4,1045L1265.4,1049.5L1265.7,1054.8L1268,1057.4L1266.1,1061.7L1263.1,1064.7L1259.3,1068.5L1258.1,1073.8L1257.8,1078.3ZM1328.4,916.6L1336.6,911.6L1340.7,910.2L1340.7,907L1347.6,903.8L1356.7,897.4L1364,896.5L1378.7,894.6L1380.5,896.5L1383.3,896.9L1385.1,894.6L1384.6,891.9L1387.8,889.1L1391.5,885L1391.5,881.8L1395.2,879.8L1394.1,886.5L1400.6,884.1L1406.1,881.8L1408.9,880L1404.9,882.3L1409.9,878.1L1414.9,873.2L1419,866.5L1423.2,861.5L1423.2,898.5L1419,899L1413.2,899.8L1409.9,900.6L1409,904.8L1408.9,901L1403.4,904.7L1396.1,904.7L1391.5,901.5L1389.7,904.2L1391.5,907.4L1386.9,910.2L1382.8,915.2L1380.1,914.8L1377.8,911.1L1377.8,906.5L1380.5,903.8L1372.3,902.4L1364,904.7L1354.9,907L1350.3,910.2L1345.7,911.1L1347.6,912L1348,916.6L1349.4,920.3L1346.7,925.7L1344.8,932.2L1339.3,935.4L1334.3,934L1334.6,926.7L1337.1,924.8L1337.1,920.3L1334.8,918.4L1334.3,920.3L1330.2,920.7ZM1352.6,915.7L1356.7,911.6L1360.4,910.6L1364,907.9L1368.6,907.4L1372.3,908.4L1373.2,911.1L1370.4,914.3L1368.2,916.6L1365,915.2L1361.3,916.1L1358.1,920.7L1354,919.3ZM840.8,808.7L844,804L852.7,799.2L862.2,798.8L870.1,799.7L878,800L884.3,799.7L892.2,798.9L888.2,802.4L881.1,803.5L876.4,801.6L870.9,802.4L863.7,800.8L855.8,801.6L849.5,804.8L847.1,807.9L847.9,815.8L844,812.7ZM1102.7,757.4L1111,755.6L1117.6,754.7L1124.2,749.5L1128.6,747.3L1135.8,742.6L1143,737.1L1146.8,732.1L1149.3,728.8L1150.7,723.3L1156.2,723.3L1155.7,728.8L1154.6,735.4L1150.7,740.9L1145.2,745.1L1140.2,748.1L1134.1,749.2L1127.5,751.7L1125.3,753.6L1123.7,756.9L1117.6,758.3L1111.5,759.6L1107.7,758.6Z" fill="none" stroke="#000" stroke-width="1.9" stroke-linejoin="round"/>
</g></g>
<rect x="78.4" y="87.4" width="608.5" height="347.7" fill="none" stroke="#000" stroke-width="2.6"/>
<path d="M78.4,87.4 v-12.6 M78.4,435.1 v12.6 M165.3,87.4 v-12.6 M165.3,435.1 v12.6 M252.3,87.4 v-12.6 M252.3,435.1 v12.6 M339.2,87.4 v-12.6 M339.2,435.1 v12.6 M426.1,87.4 v-12.6 M426.1,435.1 v12.6 M513,87.4 v-12.6 M513,435.1 v12.6 M600,87.4 v-12.6 M600,435.1 v12.6 M686.9,87.4 v-12.6 M686.9,435.1 v12.6 M78.4,391.7 h-12.6 M686.9,391.7 h12.6 M78.4,304.7 h-12.6 M686.9,304.7 h12.6 M78.4,217.8 h-12.6 M686.9,217.8 h12.6 M78.4,130.9 h-12.6 M686.9,130.9 h12.6 " stroke="#000" stroke-width="2.6" fill="none"/>
<path d="M78.4,426.4 h-6.2 M686.9,426.4 h6.2 M78.4,409 h-6.2 M686.9,409 h6.2 M78.4,374.3 h-6.2 M686.9,374.3 h6.2 M78.4,356.9 h-6.2 M686.9,356.9 h6.2 M78.4,339.5 h-6.2 M686.9,339.5 h6.2 M78.4,322.1 h-6.2 M686.9,322.1 h6.2 M78.4,287.3 h-6.2 M686.9,287.3 h6.2 M78.4,270 h-6.2 M686.9,270 h6.2 M78.4,252.6 h-6.2 M686.9,252.6 h6.2 M78.4,235.2 h-6.2 M686.9,235.2 h6.2 M78.4,200.4 h-6.2 M686.9,200.4 h6.2 M78.4,183 h-6.2 M686.9,183 h6.2 M78.4,165.6 h-6.2 M686.9,165.6 h6.2 M78.4,148.3 h-6.2 M686.9,148.3 h6.2 M78.4,113.5 h-6.2 M686.9,113.5 h6.2 M78.4,96.1 h-6.2 M686.9,96.1 h6.2 " stroke="#000" stroke-width="1.4" fill="none"/>
<text x="51.3" y="401.3" font-family="Liberation Sans, sans-serif" font-size="24.3" text-anchor="end">20<tspan font-size="15" dy="-11.6">o</tspan><tspan dy="11.6">N</tspan></text>
<text x="51.3" y="314.3" font-family="Liberation Sans, sans-serif" font-size="24.3" text-anchor="end">30<tspan font-size="15" dy="-11.6">o</tspan><tspan dy="11.6">N</tspan></text>
<text x="51.3" y="227.4" font-family="Liberation Sans, sans-serif" font-size="24.3" text-anchor="end">40<tspan font-size="15" dy="-11.6">o</tspan><tspan dy="11.6">N</tspan></text>
<text x="51.3" y="140.5" font-family="Liberation Sans, sans-serif" font-size="24.3" text-anchor="end">50<tspan font-size="15" dy="-11.6">o</tspan><tspan dy="11.6">N</tspan></text>
<text x="78.4" y="484.4" font-family="Liberation Sans, sans-serif" font-size="24.3" text-anchor="middle">70<tspan font-size="15" dy="-11.6">o</tspan><tspan dy="11.6">E</tspan></text>
<text x="165.3" y="484.4" font-family="Liberation Sans, sans-serif" font-size="24.3" text-anchor="middle">80<tspan font-size="15" dy="-11.6">o</tspan><tspan dy="11.6">E</tspan></text>
<text x="252.3" y="484.4" font-family="Liberation Sans, sans-serif" font-size="24.3" text-anchor="middle">90<tspan font-size="15" dy="-11.6">o</tspan><tspan dy="11.6">E</tspan></text>
<text x="339.2" y="484.4" font-family="Liberation Sans, sans-serif" font-size="24.3" text-anchor="middle" stroke="#000" stroke-width="0.45">100<tspan font-size="15" dy="-11.6">o</tspan><tspan dy="11.6">E</tspan></text>
<text x="426.1" y="484.4" font-family="Liberation Sans, sans-serif" font-size="24.3" text-anchor="middle">110<tspan font-size="15" dy="-11.6">o</tspan><tspan dy="11.6">E</tspan></text>
<text x="513" y="484.4" font-family="Liberation Sans, sans-serif" font-size="24.3" text-anchor="middle">120<tspan font-size="15" dy="-11.6">o</tspan><tspan dy="11.6">E</tspan></text>
<text x="600" y="484.4" font-family="Liberation Sans, sans-serif" font-size="24.3" text-anchor="middle">130<tspan font-size="15" dy="-11.6">o</tspan><tspan dy="11.6">E</tspan></text>
<text x="686.9" y="484.4" font-family="Liberation Sans, sans-serif" font-size="24.3" text-anchor="middle">140<tspan font-size="15" dy="-11.6">o</tspan><tspan dy="11.6">E</tspan></text>
<rect x="79.5" y="727.5" width="608.6" height="347.8" fill="none" stroke="#000" stroke-width="2.6"/>
<path d="M79.5,727.5 v-12.6 M79.5,1075.3 v12.6 M166.5,727.5 v-12.6 M166.5,1075.3 v12.6 M253.4,727.5 v-12.6 M253.4,1075.3 v12.6 M340.4,727.5 v-12.6 M340.4,1075.3 v12.6 M427.4,727.5 v-12.6 M427.4,1075.3 v12.6 M514.3,727.5 v-12.6 M514.3,1075.3 v12.6 M601.2,727.5 v-12.6 M601.2,1075.3 v12.6 M688.2,727.5 v-12.6 M688.2,1075.3 v12.6 M79.5,1031.8 h-12.6 M688.2,1031.8 h12.6 M79.5,944.9 h-12.6 M688.2,944.9 h12.6 M79.5,857.9 h-12.6 M688.2,857.9 h12.6 M79.5,771 h-12.6 M688.2,771 h12.6 " stroke="#000" stroke-width="2.6" fill="none"/>
<path d="M79.5,1066.6 h-6.2 M688.2,1066.6 h6.2 M79.5,1049.2 h-6.2 M688.2,1049.2 h6.2 M79.5,1014.4 h-6.2 M688.2,1014.4 h6.2 M79.5,997 h-6.2 M688.2,997 h6.2 M79.5,979.7 h-6.2 M688.2,979.7 h6.2 M79.5,962.3 h-6.2 M688.2,962.3 h6.2 M79.5,927.5 h-6.2 M688.2,927.5 h6.2 M79.5,910.1 h-6.2 M688.2,910.1 h6.2 M79.5,892.7 h-6.2 M688.2,892.7 h6.2 M79.5,875.3 h-6.2 M688.2,875.3 h6.2 M79.5,840.5 h-6.2 M688.2,840.5 h6.2 M79.5,823.1 h-6.2 M688.2,823.1 h6.2 M79.5,805.8 h-6.2 M688.2,805.8 h6.2 M79.5,788.4 h-6.2 M688.2,788.4 h6.2 M79.5,753.6 h-6.2 M688.2,753.6 h6.2 M79.5,736.2 h-6.2 M688.2,736.2 h6.2 " stroke="#000" stroke-width="1.4" fill="none"/>
<text x="52.4" y="1041.4" font-family="Liberation Sans, sans-serif" font-size="24.3" text-anchor="end">20<tspan font-size="15" dy="-11.6">o</tspan><tspan dy="11.6">N</tspan></text>
<text x="52.4" y="954.5" font-family="Liberation Sans, sans-serif" font-size="24.3" text-anchor="end">30<tspan font-size="15" dy="-11.6">o</tspan><tspan dy="11.6">N</tspan></text>
<text x="52.4" y="867.5" font-family="Liberation Sans, sans-serif" font-size="24.3" text-anchor="end">40<tspan font-size="15" dy="-11.6">o</tspan><tspan dy="11.6">N</tspan></text>
<text x="52.4" y="780.6" font-family="Liberation Sans, sans-serif" font-size="24.3" text-anchor="end">50<tspan font-size="15" dy="-11.6">o</tspan><tspan dy="11.6">N</tspan></text>
<text x="79.5" y="1124.6" font-family="Liberation Sans, sans-serif" font-size="24.3" text-anchor="middle">70<tspan font-size="15" dy="-11.6">o</tspan><tspan dy="11.6">E</tspan></text>
<text x="166.5" y="1124.6" font-family="Liberation Sans, sans-serif" font-size="24.3" text-anchor="middle">80<tspan font-size="15" dy="-11.6">o</tspan><tspan dy="11.6">E</tspan></text>
<text x="253.4" y="1124.6" font-family="Liberation Sans, sans-serif" font-size="24.3" text-anchor="middle">90<tspan font-size="15" dy="-11.6">o</tspan><tspan dy="11.6">E</tspan></text>
<text x="340.4" y="1124.6" font-family="Liberation Sans, sans-serif" font-size="24.3" text-anchor="middle" stroke="#000" stroke-width="0.45">100<tspan font-size="15" dy="-11.6">o</tspan><tspan dy="11.6">E</tspan></text>
<text x="427.4" y="1124.6" font-family="Liberation Sans, sans-serif" font-size="24.3" text-anchor="middle">110<tspan font-size="15" dy="-11.6">o</tspan><tspan dy="11.6">E</tspan></text>
<text x="514.3" y="1124.6" font-family="Liberation Sans, sans-serif" font-size="24.3" text-anchor="middle">120<tspan font-size="15" dy="-11.6">o</tspan><tspan dy="11.6">E</tspan></text>
<text x="601.2" y="1124.6" font-family="Liberation Sans, sans-serif" font-size="24.3" text-anchor="middle">130<tspan font-size="15" dy="-11.6">o</tspan><tspan dy="11.6">E</tspan></text>
<text x="688.2" y="1124.6" font-family="Liberation Sans, sans-serif" font-size="24.3" text-anchor="middle">140<tspan font-size="15" dy="-11.6">o</tspan><tspan dy="11.6">E</tspan></text>
<rect x="811.5" y="727.6" width="608.3" height="347.6" fill="none" stroke="#000" stroke-width="2.6"/>
<path d="M811.5,727.6 v-12.6 M811.5,1075.2 v12.6 M898.4,727.6 v-12.6 M898.4,1075.2 v12.6 M985.3,727.6 v-12.6 M985.3,1075.2 v12.6 M1072.2,727.6 v-12.6 M1072.2,1075.2 v12.6 M1159.1,727.6 v-12.6 M1159.1,1075.2 v12.6 M1246,727.6 v-12.6 M1246,1075.2 v12.6 M1332.9,727.6 v-12.6 M1332.9,1075.2 v12.6 M1419.8,727.6 v-12.6 M1419.8,1075.2 v12.6 M811.5,1031.8 h-12.6 M1419.8,1031.8 h12.6 M811.5,944.9 h-12.6 M1419.8,944.9 h12.6 M811.5,858 h-12.6 M1419.8,858 h12.6 M811.5,771.1 h-12.6 M1419.8,771.1 h12.6 " stroke="#000" stroke-width="2.6" fill="none"/>
<path d="M811.5,1066.5 h-6.2 M1419.8,1066.5 h6.2 M811.5,1049.1 h-6.2 M1419.8,1049.1 h6.2 M811.5,1014.4 h-6.2 M1419.8,1014.4 h6.2 M811.5,997 h-6.2 M1419.8,997 h6.2 M811.5,979.6 h-6.2 M1419.8,979.6 h6.2 M811.5,962.2 h-6.2 M1419.8,962.2 h6.2 M811.5,927.5 h-6.2 M1419.8,927.5 h6.2 M811.5,910.1 h-6.2 M1419.8,910.1 h6.2 M811.5,892.7 h-6.2 M1419.8,892.7 h6.2 M811.5,875.3 h-6.2 M1419.8,875.3 h6.2 M811.5,840.6 h-6.2 M1419.8,840.6 h6.2 M811.5,823.2 h-6.2 M1419.8,823.2 h6.2 M811.5,805.8 h-6.2 M1419.8,805.8 h6.2 M811.5,788.4 h-6.2 M1419.8,788.4 h6.2 M811.5,753.7 h-6.2 M1419.8,753.7 h6.2 M811.5,736.3 h-6.2 M1419.8,736.3 h6.2 " stroke="#000" stroke-width="1.4" fill="none"/>
<text x="784.4" y="1041.3" font-family="Liberation Sans, sans-serif" font-size="24.3" text-anchor="end">20<tspan font-size="15" dy="-11.6">o</tspan><tspan dy="11.6">N</tspan></text>
<text x="784.4" y="954.5" font-family="Liberation Sans, sans-serif" font-size="24.3" text-anchor="end">30<tspan font-size="15" dy="-11.6">o</tspan><tspan dy="11.6">N</tspan></text>
<text x="784.4" y="867.6" font-family="Liberation Sans, sans-serif" font-size="24.3" text-anchor="end">40<tspan font-size="15" dy="-11.6">o</tspan><tspan dy="11.6">N</tspan></text>
<text x="784.4" y="780.7" font-family="Liberation Sans, sans-serif" font-size="24.3" text-anchor="end">50<tspan font-size="15" dy="-11.6">o</tspan><tspan dy="11.6">N</tspan></text>
<text x="811.5" y="1124.5" font-family="Liberation Sans, sans-serif" font-size="24.3" text-anchor="middle">70<tspan font-size="15" dy="-11.6">o</tspan><tspan dy="11.6">E</tspan></text>
<text x="898.4" y="1124.5" font-family="Liberation Sans, sans-serif" font-size="24.3" text-anchor="middle">80<tspan font-size="15" dy="-11.6">o</tspan><tspan dy="11.6">E</tspan></text>
<text x="985.3" y="1124.5" font-family="Liberation Sans, sans-serif" font-size="24.3" text-anchor="middle">90<tspan font-size="15" dy="-11.6">o</tspan><tspan dy="11.6">E</tspan></text>
<text x="1072.2" y="1124.5" font-family="Liberation Sans, sans-serif" font-size="24.3" text-anchor="middle" stroke="#000" stroke-width="0.45">100<tspan font-size="15" dy="-11.6">o</tspan><tspan dy="11.6">E</tspan></text>
<text x="1159.1" y="1124.5" font-family="Liberation Sans, sans-serif" font-size="24.3" text-anchor="middle">110<tspan font-size="15" dy="-11.6">o</tspan><tspan dy="11.6">E</tspan></text>
<text x="1246" y="1124.5" font-family="Liberation Sans, sans-serif" font-size="24.3" text-anchor="middle">120<tspan font-size="15" dy="-11.6">o</tspan><tspan dy="11.6">E</tspan></text>
<text x="1332.9" y="1124.5" font-family="Liberation Sans, sans-serif" font-size="24.3" text-anchor="middle">130<tspan font-size="15" dy="-11.6">o</tspan><tspan dy="11.6">E</tspan></text>
<text x="1419.8" y="1124.5" font-family="Liberation Sans, sans-serif" font-size="24.3" text-anchor="middle">140<tspan font-size="15" dy="-11.6">o</tspan><tspan dy="11.6">E</tspan></text>
<rect x="80.5" y="132.4" width="303.4" height="130.2" fill="none" stroke="#fe0000" stroke-width="6.8" stroke-linejoin="round"/>
<g id="panelB">
<clipPath id="clipB"><rect x="765.2" y="76.3" width="669.6" height="379.2"/></clipPath>
<g clip-path="url(#clipB)">
<path d="M765.2,78.2L768.5,98.5L771.8,118.5L775,137.8L778.3,156.2L781.6,173.2L784.9,188.6L788.2,195L791.5,199.6L794.7,202.6L798,204.2L801.3,204.6L804.6,204L807.9,198.7L811.2,192.8L814.4,186.6L817.7,180.3L821,174.1L824.3,168.3L827.6,165.4L830.8,163.3L834.1,162L837.4,161.5L840.7,161.9L844,163.4L847.3,169.4L850.5,176.1L853.8,183.3L857.1,190.8L860.4,198.1L863.7,205.1L867,209.4L870.2,213L873.5,215.9L876.8,218L880.1,219.2L883.4,219.7L886.6,217.5L889.9,214.8L893.2,212.1L896.5,209.9L899.8,208.6L903.1,208.7L906.3,214.9L909.6,222.5L912.9,231.1L916.2,240.1L919.5,249.3L922.8,258.1L926,265.4L929.3,272L932.6,278.2L935.9,284L939.2,289.6L942.4,295.2L945.7,299.8L949,304.4L952.3,308.8L955.6,312.8L958.9,316.4L962.1,319.4L965.4,319.6L968.7,319.3L972,318.5L975.3,317.6L978.6,316.6L981.8,315.8L985.1,315.7L988.4,315.8L991.7,316.1L995,316.4L998.2,316.8L1001.5,317.2L1004.8,317.8L1008.1,318.4L1011.4,319.1L1014.7,320L1017.9,321.4L1021.2,323.2L1024.5,326.6L1027.8,330.3L1031.1,334L1034.4,337.5L1037.6,340.4L1040.9,342.4L1044.2,341L1047.5,338.8L1050.8,336.3L1054,333.7L1057.3,331.5L1060.6,330.1L1063.9,331.7L1067.2,334.1L1070.5,336.9L1073.7,339.8L1077,342.3L1080.3,344.1L1083.6,343.7L1086.9,342.7L1090.2,341.6L1093.4,340.7L1096.7,340.7L1100,342L1103.3,347.5L1106.6,354.1L1109.8,361L1113.1,367.4L1116.4,372.6L1119.7,375.8L1123,371L1126.3,364.2L1129.5,356.4L1132.8,348.3L1136.1,340.7L1139.4,334.3L1142.7,333.9L1146,335.2L1149.2,337.6L1152.5,340.8L1155.8,344.2L1159.1,347.5L1162.4,349L1165.6,349.8L1168.9,349.7L1172.2,348.8L1175.5,346.9L1178.8,344L1182.1,337.6L1185.3,330.5L1188.6,323.5L1191.9,317L1195.2,311.7L1198.5,308L1201.8,312.2L1205,318.2L1208.3,325.3L1211.6,333.2L1214.9,341.3L1218.2,349L1221.4,354.7L1224.7,359.7L1228,364L1231.3,367.6L1234.6,370.8L1237.9,373.5L1241.1,374.6L1244.4,375.6L1247.7,376.6L1251,377.7L1254.3,379.2L1257.6,381.2L1260.8,384.9L1264.1,388.9L1267.4,393.1L1270.7,397L1274,400.3L1277.2,402.8L1280.5,401.3L1283.8,398.9L1287.1,395.9L1290.4,392.5L1293.7,389L1296.9,385.7L1300.2,383.5L1303.5,381.8L1306.8,380.4L1310.1,379.4L1313.4,378.7L1316.6,378.3L1319.9,379.3L1323.2,380.6L1326.5,382L1329.8,383.6L1333,385.3L1336.3,387.2L1339.6,388.9L1342.9,390.6L1346.2,392.1L1349.5,393.1L1352.7,393.7L1356,393.6L1359.3,391.2L1362.6,388.2L1365.9,385.2L1369.2,382.4L1372.4,380.1L1375.7,378.8L1379,381.7L1382.3,385.7L1385.6,390.2L1388.8,395.2L1392.1,400.3L1395.4,405.1L1398.7,408.6L1402,411.6L1405.3,414.1L1408.5,416.3L1411.8,418L1415.1,419.5L1418.4,419.3L1421.7,419L1425,418.4L1428.2,417.7L1431.5,416.9L1434.8,416" fill="none" stroke="#4a8cc8" stroke-width="1.5"/>
<polygon points="771.9,80.4 769.3,83.9 765.2,85.2 761.1,83.9 758.5,80.4 758.5,76 761.1,72.5 765.2,71.2 769.3,72.5 771.9,76" fill="#0f5084"/>
<polygon points="791.6,190.8 789,194.3 784.9,195.6 780.8,194.3 778.2,190.8 778.2,186.4 780.8,182.9 784.9,181.6 789,182.9 791.6,186.4" fill="#0f5084"/>
<polygon points="811.2,206.2 808.7,209.7 804.6,211 800.5,209.7 797.9,206.2 797.9,201.8 800.5,198.3 804.6,197 808.7,198.3 811.2,201.8" fill="#0f5084"/>
<polygon points="830.9,170.5 828.4,174 824.3,175.3 820.2,174 817.6,170.5 817.6,166.1 820.2,162.6 824.3,161.3 828.4,162.6 830.9,166.1" fill="#0f5084"/>
<polygon points="850.6,165.6 848.1,169.1 844,170.4 839.9,169.1 837.3,165.6 837.3,161.2 839.9,157.7 844,156.4 848.1,157.7 850.6,161.2" fill="#0f5084"/>
<polygon points="870.3,207.3 867.8,210.8 863.7,212.1 859.6,210.8 857,207.3 857,202.9 859.6,199.4 863.7,198.1 867.8,199.4 870.3,202.9" fill="#0f5084"/>
<polygon points="890,221.9 887.5,225.4 883.4,226.7 879.3,225.4 876.7,221.9 876.7,217.5 879.3,214 883.4,212.7 887.5,214 890,217.5" fill="#0f5084"/>
<polygon points="909.7,210.9 907.2,214.4 903.1,215.7 898.9,214.4 896.4,210.9 896.4,206.5 898.9,203 903.1,201.7 907.2,203 909.7,206.5" fill="#0f5084"/>
<polygon points="929.4,260.3 926.9,263.8 922.8,265.1 918.6,263.8 916.1,260.3 916.1,255.9 918.6,252.4 922.8,251.1 926.9,252.4 929.4,255.9" fill="#0f5084"/>
<polygon points="949.1,297.4 946.6,300.9 942.4,302.2 938.3,300.9 935.8,297.4 935.8,293 938.3,289.5 942.4,288.2 946.6,289.5 949.1,293" fill="#0f5084"/>
<polygon points="968.8,321.6 966.3,325.1 962.1,326.4 958,325.1 955.5,321.6 955.5,317.2 958,313.7 962.1,312.4 966.3,313.7 968.8,317.2" fill="#0f5084"/>
<polygon points="988.5,318 985.9,321.5 981.8,322.8 977.7,321.5 975.2,318 975.2,313.6 977.7,310.1 981.8,308.8 985.9,310.1 988.5,313.6" fill="#0f5084"/>
<polygon points="1008.2,319.4 1005.6,322.9 1001.5,324.2 997.4,322.9 994.9,319.4 994.9,315 997.4,311.5 1001.5,310.2 1005.6,311.5 1008.2,315" fill="#0f5084"/>
<polygon points="1027.9,325.4 1025.3,328.9 1021.2,330.2 1017.1,328.9 1014.6,325.4 1014.6,321 1017.1,317.5 1021.2,316.2 1025.3,317.5 1027.9,321" fill="#0f5084"/>
<polygon points="1047.6,344.6 1045,348.1 1040.9,349.4 1036.8,348.1 1034.3,344.6 1034.3,340.2 1036.8,336.7 1040.9,335.4 1045,336.7 1047.6,340.2" fill="#0f5084"/>
<polygon points="1067.3,332.3 1064.7,335.8 1060.6,337.1 1056.5,335.8 1054,332.3 1054,327.9 1056.5,324.4 1060.6,323.1 1064.7,324.4 1067.3,327.9" fill="#0f5084"/>
<polygon points="1087,346.3 1084.4,349.8 1080.3,351.1 1076.2,349.8 1073.6,346.3 1073.6,341.9 1076.2,338.4 1080.3,337.1 1084.4,338.4 1087,341.9" fill="#0f5084"/>
<polygon points="1106.7,344.2 1104.1,347.7 1100,349 1095.9,347.7 1093.3,344.2 1093.3,339.8 1095.9,336.3 1100,335 1104.1,336.3 1106.7,339.8" fill="#0f5084"/>
<polygon points="1126.4,378 1123.8,381.5 1119.7,382.8 1115.6,381.5 1113,378 1113,373.6 1115.6,370.1 1119.7,368.8 1123.8,370.1 1126.4,373.6" fill="#0f5084"/>
<polygon points="1146,336.5 1143.5,340 1139.4,341.3 1135.3,340 1132.7,336.5 1132.7,332.1 1135.3,328.6 1139.4,327.3 1143.5,328.6 1146,332.1" fill="#0f5084"/>
<polygon points="1165.7,349.7 1163.2,353.2 1159.1,354.5 1155,353.2 1152.4,349.7 1152.4,345.3 1155,341.8 1159.1,340.5 1163.2,341.8 1165.7,345.3" fill="#0f5084"/>
<polygon points="1185.4,346.2 1182.9,349.7 1178.8,351 1174.7,349.7 1172.1,346.2 1172.1,341.8 1174.7,338.3 1178.8,337 1182.9,338.3 1185.4,341.8" fill="#0f5084"/>
<polygon points="1205.1,310.2 1202.6,313.7 1198.5,315 1194.4,313.7 1191.8,310.2 1191.8,305.8 1194.4,302.3 1198.5,301 1202.6,302.3 1205.1,305.8" fill="#0f5084"/>
<polygon points="1224.8,351.2 1222.3,354.7 1218.2,356 1214.1,354.7 1211.5,351.2 1211.5,346.8 1214.1,343.3 1218.2,342 1222.3,343.3 1224.8,346.8" fill="#0f5084"/>
<polygon points="1244.5,375.7 1242,379.2 1237.9,380.5 1233.7,379.2 1231.2,375.7 1231.2,371.3 1233.7,367.8 1237.9,366.5 1242,367.8 1244.5,371.3" fill="#0f5084"/>
<polygon points="1264.2,383.4 1261.7,386.9 1257.6,388.2 1253.4,386.9 1250.9,383.4 1250.9,379 1253.4,375.5 1257.6,374.2 1261.7,375.5 1264.2,379" fill="#0f5084"/>
<polygon points="1283.9,405 1281.4,408.5 1277.2,409.8 1273.1,408.5 1270.6,405 1270.6,400.6 1273.1,397.1 1277.2,395.8 1281.4,397.1 1283.9,400.6" fill="#0f5084"/>
<polygon points="1303.6,387.9 1301.1,391.4 1296.9,392.7 1292.8,391.4 1290.3,387.9 1290.3,383.5 1292.8,380 1296.9,378.7 1301.1,380 1303.6,383.5" fill="#0f5084"/>
<polygon points="1323.3,380.5 1320.7,384 1316.6,385.3 1312.5,384 1310,380.5 1310,376.1 1312.5,372.6 1316.6,371.3 1320.7,372.6 1323.3,376.1" fill="#0f5084"/>
<polygon points="1343,389.4 1340.4,392.9 1336.3,394.2 1332.2,392.9 1329.7,389.4 1329.7,385 1332.2,381.5 1336.3,380.2 1340.4,381.5 1343,385" fill="#0f5084"/>
<polygon points="1362.7,395.8 1360.1,399.3 1356,400.6 1351.9,399.3 1349.4,395.8 1349.4,391.4 1351.9,387.9 1356,386.6 1360.1,387.9 1362.7,391.4" fill="#0f5084"/>
<polygon points="1382.4,381 1379.8,384.5 1375.7,385.8 1371.6,384.5 1369.1,381 1369.1,376.6 1371.6,373.1 1375.7,371.8 1379.8,373.1 1382.4,376.6" fill="#0f5084"/>
<polygon points="1402.1,407.3 1399.5,410.8 1395.4,412.1 1391.3,410.8 1388.8,407.3 1388.8,402.9 1391.3,399.4 1395.4,398.1 1399.5,399.4 1402.1,402.9" fill="#0f5084"/>
<polygon points="1421.8,421.7 1419.2,425.2 1415.1,426.5 1411,425.2 1408.4,421.7 1408.4,417.3 1411,413.8 1415.1,412.5 1419.2,413.8 1421.8,417.3" fill="#0f5084"/>
<polygon points="1441.5,418.2 1438.9,421.7 1434.8,423 1430.7,421.7 1428.1,418.2 1428.1,413.8 1430.7,410.3 1434.8,409 1438.9,410.3 1441.5,413.8" fill="#0f5084"/>
<path d="M765.2,163.5L775,167.9L784.9,172.2L794.7,176.5L804.6,180.9L814.4,185.2L824.3,189.5L834.1,193.8L844,198.1L853.8,202.4L863.7,206.7L873.5,211L883.4,215.3L893.2,219.5L903.1,223.8L912.9,228L922.8,232.2L932.6,236.5L942.4,240.6L952.3,244.8L962.1,248.9L972,253.1L981.8,257.2L991.7,261.2L1001.5,265.3L1011.4,269.3L1021.2,273.2L1031.1,277.1L1040.9,281L1050.8,284.9L1060.6,288.6L1070.5,292.4L1080.3,296.1L1090.2,299.8L1100,303.4L1109.8,306.9L1119.7,310.5L1129.5,314L1139.4,317.4L1149.2,320.8L1159.1,324.2L1168.9,327.6L1178.8,330.9L1188.6,334.2L1198.5,337.5L1208.3,340.8L1218.2,344L1228,347.2L1237.9,350.4L1247.7,353.6L1257.6,356.8L1267.4,360L1277.2,363.2L1287.1,366.3L1296.9,369.5L1306.8,372.6L1316.6,375.8L1326.5,378.9L1336.3,382L1346.2,385.1L1356,388.2L1365.9,391.4L1375.7,394.5L1385.6,397.6L1395.4,400.7L1405.3,403.7L1415.1,406.8L1425,409.9L1434.8,413L1434.8,468.6L1425,464.2L1415.1,459.9L1405.3,455.5L1395.4,451.1L1385.6,446.8L1375.7,442.4L1365.9,438.1L1356,433.8L1346.2,429.4L1336.3,425.1L1326.5,420.8L1316.6,416.4L1306.8,412.1L1296.9,407.8L1287.1,403.5L1277.2,399.2L1267.4,394.9L1257.6,390.7L1247.7,386.4L1237.9,382.2L1228,377.9L1218.2,373.7L1208.3,369.5L1198.5,365.3L1188.6,361.1L1178.8,357L1168.9,352.9L1159.1,348.8L1149.2,344.7L1139.4,340.7L1129.5,336.7L1119.7,332.7L1109.8,328.8L1100,324.9L1090.2,321.1L1080.3,317.3L1070.5,313.6L1060.6,309.9L1050.8,306.2L1040.9,302.6L1031.1,299L1021.2,295.5L1011.4,292L1001.5,288.5L991.7,285.1L981.8,281.7L972,278.4L962.1,275.1L952.3,271.7L942.4,268.5L932.6,265.2L922.8,262L912.9,258.7L903.1,255.5L893.2,252.3L883.4,249.1L873.5,245.9L863.7,242.8L853.8,239.6L844,236.5L834.1,233.3L824.3,230.2L814.4,227.1L804.6,223.9L794.7,220.8L784.9,217.7L775,214.6L765.2,211.5Z" fill="rgb(176,236,104)" fill-opacity="0.30"/>
<line x1="765.2" y1="187.5" x2="1434.8" y2="440.8" stroke="#7ab51d" stroke-width="3.2"/>
</g>
<rect x="765.2" y="76.3" width="669.6" height="379.2" fill="none" stroke="#000" stroke-width="1.3"/>
<path d="M784.9,76.3 v8.4 M883.4,76.3 v8.4 M981.8,76.3 v8.4 M1080.3,76.3 v8.4 M1178.8,76.3 v8.4 M1277.2,76.3 v8.4 M1375.7,76.3 v8.4 M784.9,455.5 v8.4 M883.4,455.5 v8.4 M981.8,455.5 v8.4 M1080.3,455.5 v8.4 M1178.8,455.5 v8.4 M1277.2,455.5 v8.4 M1375.7,455.5 v8.4 M765.2,455.5 h-9 M1434.8,455.5 h-9 M765.2,361 h-9 M1434.8,361 h-9 M765.2,266.5 h-9 M1434.8,266.5 h-9 M765.2,172 h-9 M1434.8,172 h-9 M765.2,77.5 h-9 M1434.8,77.5 h-9 " stroke="#000" stroke-width="1.6" fill="none"/>
<path d="M768.5,76.3 v4.2 M801.3,76.3 v4.2 M817.7,76.3 v4.2 M834.1,76.3 v4.2 M850.5,76.3 v4.2 M867,76.3 v4.2 M899.8,76.3 v4.2 M916.2,76.3 v4.2 M932.6,76.3 v4.2 M949,76.3 v4.2 M965.4,76.3 v4.2 M998.2,76.3 v4.2 M1014.7,76.3 v4.2 M1031.1,76.3 v4.2 M1047.5,76.3 v4.2 M1063.9,76.3 v4.2 M1096.7,76.3 v4.2 M1113.1,76.3 v4.2 M1129.5,76.3 v4.2 M1146,76.3 v4.2 M1162.4,76.3 v4.2 M1195.2,76.3 v4.2 M1211.6,76.3 v4.2 M1228,76.3 v4.2 M1244.4,76.3 v4.2 M1260.8,76.3 v4.2 M1293.7,76.3 v4.2 M1310.1,76.3 v4.2 M1326.5,76.3 v4.2 M1342.9,76.3 v4.2 M1359.3,76.3 v4.2 M1392.1,76.3 v4.2 M1408.5,76.3 v4.2 M1425,76.3 v4.2 M765.2,455.5 v4.2 M804.6,455.5 v4.2 M824.3,455.5 v4.2 M844,455.5 v4.2 M863.7,455.5 v4.2 M903.1,455.5 v4.2 M922.8,455.5 v4.2 M942.4,455.5 v4.2 M962.1,455.5 v4.2 M1001.5,455.5 v4.2 M1021.2,455.5 v4.2 M1040.9,455.5 v4.2 M1060.6,455.5 v4.2 M1100,455.5 v4.2 M1119.7,455.5 v4.2 M1139.4,455.5 v4.2 M1159.1,455.5 v4.2 M1198.5,455.5 v4.2 M1218.2,455.5 v4.2 M1237.9,455.5 v4.2 M1257.6,455.5 v4.2 M1296.9,455.5 v4.2 M1316.6,455.5 v4.2 M1336.3,455.5 v4.2 M1356,455.5 v4.2 M1395.4,455.5 v4.2 M1415.1,455.5 v4.2 M1434.8,455.5 v4.2 M765.2,424 h-4.5 M1434.8,424 h-4.5 M765.2,392.5 h-4.5 M1434.8,392.5 h-4.5 M765.2,329.5 h-4.5 M1434.8,329.5 h-4.5 M765.2,298 h-4.5 M1434.8,298 h-4.5 M765.2,235 h-4.5 M1434.8,235 h-4.5 M765.2,203.5 h-4.5 M1434.8,203.5 h-4.5 M765.2,140.5 h-4.5 M1434.8,140.5 h-4.5 M765.2,109 h-4.5 M1434.8,109 h-4.5 " stroke="#000" stroke-width="1.4" fill="none"/>
<text x="784.9" y="497.8" font-family="Liberation Serif, serif" font-size="27.6" text-anchor="middle">1980</text>
<text x="883.4" y="497.8" font-family="Liberation Serif, serif" font-size="27.6" text-anchor="middle">1985</text>
<text x="981.8" y="497.8" font-family="Liberation Serif, serif" font-size="27.6" text-anchor="middle">1990</text>
<text x="1080.3" y="497.8" font-family="Liberation Serif, serif" font-size="27.6" text-anchor="middle">1995</text>
<text x="1178.8" y="497.8" font-family="Liberation Serif, serif" font-size="27.6" text-anchor="middle">2000</text>
<text x="1277.2" y="497.8" font-family="Liberation Serif, serif" font-size="27.6" text-anchor="middle">2005</text>
<text x="1375.7" y="497.8" font-family="Liberation Serif, serif" font-size="27.6" text-anchor="middle">2010</text>
<text x="746" y="464.4" font-family="Liberation Serif, serif" font-size="30.6" text-anchor="end">0</text>
<text x="746" y="369.9" font-family="Liberation Serif, serif" font-size="30.6" text-anchor="end">3</text>
<text x="746" y="275.4" font-family="Liberation Serif, serif" font-size="30.6" text-anchor="end">6</text>
<text x="746" y="180.9" font-family="Liberation Serif, serif" font-size="30.6" text-anchor="end">9</text>
<text x="746" y="86.4" font-family="Liberation Serif, serif" font-size="30.6" text-anchor="end">12</text>
<text x="940.3" y="154" font-family="Liberation Serif, serif" font-size="35.4">Slope = -2.37 days per decade</text>
<text x="1372.3" y="159.6" font-family="Liberation Serif, serif" font-size="35.4" fill="#f00">*</text>
</g>
<path d="M83,536.1 L158.4,528.2 L158.4,544 Z" fill="#08306b" stroke="#000" stroke-width="1"/>
<rect x="158.4" y="528.2" width="74.7" height="15.8" fill="#08519c" stroke="#000" stroke-width="1.2"/>
<rect x="233.1" y="528.2" width="74.7" height="15.8" fill="#2878b6" stroke="#000" stroke-width="1.2"/>
<rect x="307.7" y="528.2" width="74.6" height="15.8" fill="#4f9dcd" stroke="#000" stroke-width="1.2"/>
<rect x="382.4" y="528.2" width="74.6" height="15.8" fill="#6cb4d6" stroke="#000" stroke-width="1.2"/>
<rect x="457" y="528.2" width="74.6" height="15.8" fill="#97cee2" stroke="#000" stroke-width="1.2"/>
<rect x="531.6" y="528.2" width="74.7" height="15.8" fill="#b9e4f0" stroke="#000" stroke-width="1.2"/>
<path d="M681.5,536.1 L606.3,528.2 L606.3,544 Z" fill="#fdfbc4" stroke="#000" stroke-width="1"/>
<text x="159.4" y="573.2" font-family="Liberation Serif, serif" font-size="27.5" text-anchor="middle">-3</text>
<text x="237.7" y="573.2" font-family="Liberation Serif, serif" font-size="27.5" text-anchor="middle">-2.5</text>
<text x="309.7" y="573.2" font-family="Liberation Serif, serif" font-size="27.5" text-anchor="middle">-2</text>
<text x="383.4" y="573.2" font-family="Liberation Serif, serif" font-size="27.5" text-anchor="middle">-1.5</text>
<text x="454" y="573.2" font-family="Liberation Serif, serif" font-size="27.5" text-anchor="middle">-1</text>
<text x="537.6" y="573.2" font-family="Liberation Serif, serif" font-size="27.5" text-anchor="middle">-0.5</text>
<text x="606.8" y="573.2" font-family="Liberation Serif, serif" font-size="27.5" text-anchor="middle">0</text>
<path d="M85.6,1172.2 L145.8,1164.7 L145.8,1179.6 Z" fill="#2414d8" stroke="#000" stroke-width="1"/>
<rect x="145.8" y="1164.7" width="59.6" height="14.9" fill="#2a5cf8" stroke="#000" stroke-width="1.2"/>
<rect x="205.4" y="1164.7" width="59.5" height="14.9" fill="#56aefa" stroke="#000" stroke-width="1.2"/>
<rect x="264.9" y="1164.7" width="59.6" height="14.9" fill="#98e6fb" stroke="#000" stroke-width="1.2"/>
<rect x="324.4" y="1164.7" width="59.6" height="14.9" fill="#e6fdfd" stroke="#000" stroke-width="1.2"/>
<rect x="384" y="1164.7" width="59.6" height="14.9" fill="#fffde8" stroke="#000" stroke-width="1.2"/>
<rect x="443.6" y="1164.7" width="59.5" height="14.9" fill="#fdd698" stroke="#000" stroke-width="1.2"/>
<rect x="503.1" y="1164.7" width="59.6" height="14.9" fill="#fc7e58" stroke="#000" stroke-width="1.2"/>
<rect x="562.6" y="1164.7" width="59.6" height="14.9" fill="#f42a3a" stroke="#000" stroke-width="1.2"/>
<path d="M682.3,1172.2 L622.2,1164.7 L622.2,1179.6 Z" fill="#a01028" stroke="#000" stroke-width="1"/>
<text x="145.8" y="1201.2" font-family="Liberation Sans, sans-serif" font-size="23.2" text-anchor="middle">-0.12</text>
<text x="264.9" y="1201.2" font-family="Liberation Sans, sans-serif" font-size="23.2" text-anchor="middle">-0.06</text>
<text x="384" y="1201.2" font-family="Liberation Sans, sans-serif" font-size="23.2" text-anchor="middle">0</text>
<text x="503.1" y="1201.2" font-family="Liberation Sans, sans-serif" font-size="23.2" text-anchor="middle">0.06</text>
<text x="622.2" y="1201.2" font-family="Liberation Sans, sans-serif" font-size="23.2" text-anchor="middle">0.12</text>
<path d="M818.2,1172 L892,1164.5 L892,1179.4 Z" fill="#e6fdfd" stroke="#000" stroke-width="1"/>
<rect x="892" y="1164.5" width="74.4" height="14.9" fill="#fffee8" stroke="#000" stroke-width="1.2"/>
<rect x="966.4" y="1164.5" width="74.4" height="14.9" fill="#fef0c0" stroke="#000" stroke-width="1.2"/>
<rect x="1040.8" y="1164.5" width="74.4" height="14.9" fill="#fdd99a" stroke="#000" stroke-width="1.2"/>
<rect x="1115.3" y="1164.5" width="74.4" height="14.9" fill="#fdae78" stroke="#000" stroke-width="1.2"/>
<rect x="1189.7" y="1164.5" width="74.4" height="14.9" fill="#fc7b57" stroke="#000" stroke-width="1.2"/>
<rect x="1264.1" y="1164.5" width="74.4" height="14.9" fill="#f94040" stroke="#000" stroke-width="1.2"/>
<path d="M1413.6,1172 L1338.5,1164.5 L1338.5,1179.4 Z" fill="#f52838" stroke="#000" stroke-width="1"/>
<text x="892" y="1201.2" font-family="Liberation Sans, sans-serif" font-size="23.0" text-anchor="middle">5</text>
<text x="966.4" y="1201.2" font-family="Liberation Sans, sans-serif" font-size="23.0" text-anchor="middle">10</text>
<text x="1040.8" y="1201.2" font-family="Liberation Sans, sans-serif" font-size="23.0" text-anchor="middle">20</text>
<text x="1115.3" y="1201.2" font-family="Liberation Sans, sans-serif" font-size="23.0" text-anchor="middle">50</text>
<text x="1189.7" y="1201.2" font-family="Liberation Sans, sans-serif" font-size="23.0" text-anchor="middle">100</text>
<text x="1264.1" y="1201.2" font-family="Liberation Sans, sans-serif" font-size="23.0" text-anchor="middle">150</text>
<text x="1338.5" y="1201.2" font-family="Liberation Sans, sans-serif" font-size="23.0" text-anchor="middle">200</text>
</svg>
</body></html>
